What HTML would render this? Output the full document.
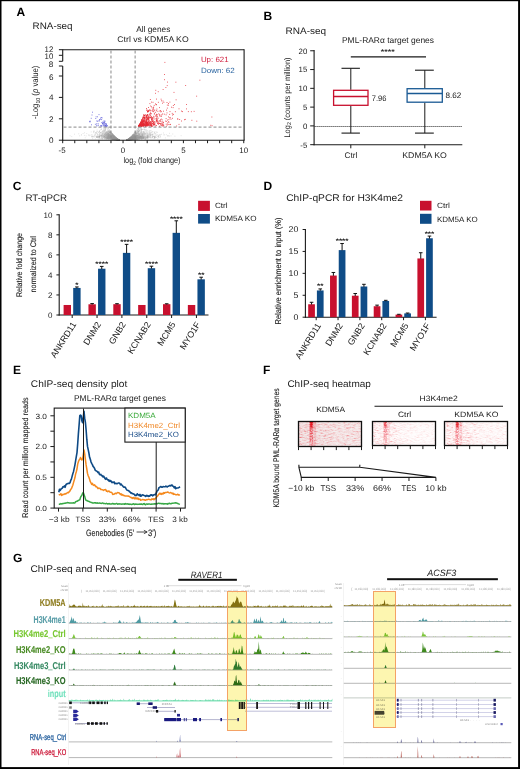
<!DOCTYPE html>
<html><head><meta charset="utf-8"><style>
html,body{margin:0;padding:0;background:#fff;}
svg{display:block;font-family:"Liberation Sans", sans-serif;text-rendering:geometricPrecision;}
</style></head><body>
<svg width="520" height="769" viewBox="0 0 520 769">
<rect width="520" height="769" fill="#fff"/>
<text x="16.60" y="15.80" font-size="12" fill="#000" font-weight="bold">A</text>
<text x="32.60" y="29.20" font-size="9.5" fill="#222" textLength="40" lengthAdjust="spacingAndGlyphs">RNA-seq</text>
<text x="153.30" y="31.50" font-size="8.2" text-anchor="middle" fill="#222" textLength="34.2" lengthAdjust="spacingAndGlyphs">All genes</text>
<text x="153.00" y="42.30" font-size="8.2" text-anchor="middle" fill="#222" textLength="71.3" lengthAdjust="spacingAndGlyphs">Ctrl vs KDM5A KO</text>
<path d="M116.5 139.4h0M96.8 137.0h0M138.8 136.9h0M150.6 132.8h0M136.9 139.0h0M109.8 132.0h0M126.8 140.2h0M128.8 139.6h0M154.2 138.0h0M138.7 137.4h0M100.7 135.6h0M134.6 138.0h0M137.0 138.8h0M109.5 137.3h0M102.7 133.9h0M104.9 138.9h0M118.8 139.9h0M110.3 135.6h0M109.6 134.2h0M134.9 139.5h0M136.3 139.2h0M106.2 139.1h0M143.7 137.3h0M132.7 135.9h0M138.8 131.6h0M129.0 139.8h0M129.6 139.8h0M103.6 135.8h0M111.7 139.0h0M111.1 139.0h0M127.3 140.1h0M130.6 137.9h0M112.6 135.7h0M113.0 135.8h0M128.9 139.9h0M117.5 139.4h0M116.0 137.9h0M131.1 139.7h0M97.6 134.3h0M129.6 138.8h0M131.2 139.2h0M143.0 138.2h0M133.1 139.5h0M114.9 139.7h0M127.8 139.8h0M115.9 139.1h0M146.3 131.1h0M114.5 139.0h0M114.6 138.7h0M139.8 135.4h0M116.2 139.8h0M102.3 134.5h0M134.3 137.8h0M115.5 138.9h0M118.6 139.9h0M139.7 134.4h0M128.2 139.4h0M117.5 139.0h0M115.3 139.6h0M131.0 139.8h0M129.8 138.0h0M110.2 134.5h0M127.1 140.1h0M135.4 136.7h0M112.0 136.7h0M127.8 139.6h0M116.3 138.9h0M133.8 135.3h0M131.7 138.2h0M108.6 136.3h0M140.1 136.6h0M151.8 137.9h0M117.2 139.6h0M130.5 139.2h0M74.5 134.2h0M118.4 139.7h0M114.1 136.6h0M117.9 139.4h0M107.9 136.0h0M145.7 138.6h0M113.9 137.9h0M130.9 139.1h0M134.7 134.6h0M113.3 139.5h0M141.2 135.2h0M116.6 139.7h0M135.7 138.8h0M136.5 134.8h0M147.1 136.9h0M107.8 136.2h0M100.8 129.8h0M140.0 137.8h0M127.2 140.1h0M139.1 134.1h0M117.1 139.9h0M103.9 137.5h0M108.8 134.5h0M127.8 139.6h0M139.1 138.3h0M134.4 138.5h0M104.0 131.1h0M118.3 139.9h0M106.1 137.6h0M113.2 137.0h0M128.1 139.6h0M129.9 138.9h0M128.2 139.9h0M109.2 137.8h0M129.8 140.0h0M115.3 138.0h0M127.6 139.9h0M138.3 135.6h0M113.3 139.7h0M132.5 138.2h0M128.2 139.7h0M108.1 138.3h0M113.7 138.6h0M134.1 134.4h0M130.2 139.1h0M130.9 138.9h0M139.2 133.1h0M130.7 138.4h0M110.7 137.0h0M136.2 133.9h0M131.8 139.4h0M129.9 139.3h0M117.7 139.9h0M134.4 138.2h0M131.8 137.2h0M112.1 137.3h0M118.7 139.9h0M133.6 138.3h0M146.5 137.0h0M115.8 139.0h0M111.0 132.0h0M113.9 138.3h0M171.0 135.9h0M106.2 134.9h0M128.5 139.8h0M146.8 138.1h0M132.0 138.9h0M155.2 136.7h0M130.8 137.7h0M110.4 136.4h0M117.0 138.7h0M114.5 136.5h0M139.7 138.3h0M129.5 138.9h0M109.0 137.0h0M98.6 136.9h0M102.6 137.2h0M133.0 138.7h0M117.4 139.2h0M112.5 139.6h0M117.3 139.6h0M129.7 138.8h0M108.5 131.3h0M147.1 137.7h0M131.6 139.8h0M128.9 139.4h0M143.3 131.8h0M127.6 140.0h0M116.3 138.6h0M118.5 139.9h0M115.6 138.9h0M101.1 133.1h0M128.3 139.4h0M128.6 139.1h0M105.4 135.7h0M133.3 137.2h0M134.5 134.8h0M147.3 136.1h0M133.8 137.9h0M115.6 138.4h0M141.7 136.7h0M128.7 139.6h0M132.7 139.4h0M164.0 134.9h0M115.5 138.0h0M115.9 137.6h0M108.8 135.2h0M96.2 132.5h0M111.3 139.2h0M141.0 137.4h0M132.5 136.9h0M114.7 137.9h0M128.9 139.0h0M96.7 133.4h0M119.0 140.0h0M128.4 139.5h0M142.4 138.6h0M99.3 136.8h0M113.5 139.0h0M145.2 130.8h0M128.6 139.4h0M109.4 135.1h0M112.9 138.4h0M115.1 138.8h0M130.1 138.8h0M129.2 139.8h0M135.9 138.6h0M110.2 136.7h0M105.8 130.0h0M127.6 139.9h0M115.8 139.7h0M116.0 139.3h0M106.2 138.1h0M114.0 139.1h0M128.0 139.4h0M111.7 137.0h0M127.7 140.0h0M140.5 137.1h0M113.3 136.0h0M130.6 139.6h0M110.5 133.3h0M117.8 139.9h0M135.2 137.0h0M119.3 140.2h0M127.4 140.1h0M114.3 139.2h0M116.3 138.9h0M110.6 136.4h0M118.1 139.5h0M128.1 139.5h0M138.9 137.7h0M139.8 137.7h0M134.4 139.5h0M127.7 140.0h0M139.1 130.5h0M152.3 135.1h0M127.7 139.7h0M109.0 135.8h0M109.7 136.9h0M126.9 140.2h0M109.0 136.0h0M152.0 136.6h0M130.7 138.9h0M133.1 137.4h0M130.1 138.0h0M108.0 133.4h0M107.5 129.3h0M112.8 136.3h0M108.6 136.7h0M129.9 139.3h0M130.6 138.6h0M136.7 139.5h0M128.6 139.4h0M116.0 137.8h0M135.1 135.7h0M113.4 135.1h0M130.2 137.6h0M130.3 138.3h0M115.1 139.1h0M128.0 139.8h0M128.7 139.6h0M132.6 139.1h0M137.5 137.8h0M133.0 135.9h0M128.6 139.5h0M117.0 138.8h0M111.5 136.0h0M118.2 139.4h0M132.8 136.4h0M116.1 137.9h0M112.7 138.5h0M131.5 139.6h0M138.5 127.1h0M133.5 138.2h0M134.1 137.3h0M139.7 130.5h0M137.4 139.4h0M127.1 140.2h0M137.9 135.7h0M142.8 134.7h0M143.2 137.8h0M116.2 138.9h0M132.6 139.0h0M135.6 134.1h0M138.6 138.0h0M97.8 137.8h0M131.1 137.0h0M131.6 137.5h0M106.1 135.0h0M139.1 134.7h0M137.0 135.8h0M132.8 137.5h0M140.6 136.2h0M134.2 135.2h0M119.0 140.1h0M131.8 138.1h0M112.4 136.8h0M112.3 137.9h0M127.0 140.1h0M127.3 140.1h0M133.7 136.9h0M113.5 136.2h0M143.7 132.4h0M115.9 138.0h0M137.5 139.0h0M132.7 138.3h0M128.9 139.2h0M131.5 137.2h0M105.9 134.1h0M117.5 139.5h0M108.7 133.4h0M104.2 134.2h0M148.7 136.5h0M110.6 137.0h0M109.7 135.1h0M113.4 138.2h0M129.5 139.4h0M126.9 140.2h0M106.5 127.7h0M114.2 135.9h0M116.2 139.0h0M132.7 139.4h0M128.6 139.4h0M115.6 139.1h0M109.4 138.2h0M111.7 136.8h0M116.0 139.6h0M119.2 140.1h0M134.0 138.9h0M128.9 138.7h0M131.2 138.2h0M108.3 132.8h0M127.2 139.9h0M115.6 138.8h0M112.7 139.2h0M105.2 134.6h0M128.4 139.2h0M127.8 139.9h0M111.2 133.9h0M107.1 134.9h0M136.4 137.4h0M112.9 138.6h0M118.0 139.9h0M109.9 134.5h0M118.5 140.0h0M118.7 140.0h0M99.3 134.4h0M132.6 139.6h0M132.6 139.3h0M127.0 140.1h0M134.7 137.1h0M139.2 135.5h0M108.2 134.3h0M142.9 135.8h0M115.9 138.1h0M147.4 137.2h0M134.3 138.9h0M95.3 133.2h0M139.6 133.5h0M132.3 137.6h0M116.7 138.5h0M129.2 139.2h0M115.8 138.4h0M143.1 138.1h0M127.4 140.1h0M118.1 140.0h0M131.1 137.4h0M106.6 134.3h0M128.4 139.9h0M108.8 136.2h0M107.8 138.6h0M116.5 138.1h0M116.0 139.3h0M119.2 140.2h0M104.5 136.7h0M115.1 139.2h0M118.3 140.1h0M95.1 135.1h0M138.4 138.8h0M133.1 136.8h0M115.7 139.2h0M113.7 138.7h0M158.4 136.2h0M110.4 133.0h0M130.7 139.2h0M127.4 139.9h0M112.2 133.9h0M115.2 139.0h0M107.3 131.7h0M114.5 138.3h0M127.1 140.1h0M116.8 139.7h0M118.3 140.0h0M137.3 135.2h0M117.6 139.5h0M117.2 138.8h0M135.1 137.2h0M139.2 137.7h0M128.8 139.4h0M152.1 137.9h0M114.5 139.2h0M137.8 135.7h0M116.3 138.4h0M118.8 139.9h0M144.9 138.8h0M130.6 139.1h0M146.0 136.3h0M117.1 139.5h0M115.3 137.8h0M116.6 139.3h0M127.1 140.1h0M135.6 136.0h0M105.3 133.8h0M116.4 139.1h0M117.5 139.9h0M140.7 136.5h0M111.1 136.2h0M131.6 138.8h0M114.3 136.2h0M128.4 139.6h0M133.8 137.8h0M131.6 139.9h0M135.7 138.2h0M105.0 135.2h0M108.3 133.8h0M113.3 138.2h0M143.8 133.6h0M118.0 139.6h0M118.2 139.6h0M104.3 132.9h0M130.4 138.3h0M137.7 137.6h0M107.5 136.2h0M132.4 138.2h0M104.2 135.5h0M117.8 139.5h0M127.4 139.9h0M110.1 134.0h0M130.5 138.7h0M132.4 138.1h0M133.5 139.1h0M129.3 139.8h0M109.7 136.3h0M135.8 137.1h0M130.4 137.5h0M108.7 134.1h0M100.0 134.2h0M117.7 139.5h0M130.2 138.2h0M140.0 136.1h0M134.8 139.1h0M115.6 138.9h0M132.8 138.2h0M129.0 139.1h0M131.7 138.1h0M128.7 139.5h0M138.2 137.8h0M131.3 136.8h0M118.0 139.7h0M127.5 140.1h0M115.8 139.2h0M114.8 138.7h0M113.4 137.0h0M133.6 138.6h0M116.7 140.0h0M109.2 135.8h0M134.8 134.8h0M107.9 137.3h0M118.9 140.1h0M116.0 139.3h0M109.9 132.4h0M154.4 138.0h0M113.7 137.8h0M128.6 139.6h0M128.6 139.5h0M97.6 136.5h0M114.5 138.1h0M131.0 139.3h0M130.0 139.2h0M109.4 137.2h0M137.8 139.1h0M114.7 138.5h0M131.5 138.7h0M143.7 137.9h0M119.2 140.1h0M134.0 136.5h0M140.0 128.4h0M112.6 134.3h0M115.8 139.2h0M113.5 139.2h0M115.2 136.9h0M141.9 138.9h0M116.7 139.3h0M112.1 136.3h0M130.1 137.9h0M112.4 139.4h0M128.4 139.8h0M142.7 135.6h0M134.3 133.3h0M113.9 136.8h0M113.0 138.8h0M106.8 136.0h0M135.6 138.7h0M143.6 132.0h0M152.4 137.0h0M119.0 140.1h0M129.8 139.4h0M130.4 139.1h0M117.8 140.0h0M135.6 132.9h0M115.0 138.3h0M113.4 139.0h0M107.8 135.3h0M137.5 138.0h0M129.4 138.8h0M127.1 140.1h0M168.1 135.9h0M142.6 135.2h0M135.2 139.1h0M116.5 138.2h0M135.9 134.4h0M137.4 139.4h0M133.2 138.4h0M128.3 139.9h0M101.7 134.1h0M132.2 136.1h0M142.0 136.6h0M113.9 138.6h0M126.9 140.2h0M96.4 136.2h0M106.0 136.2h0M131.8 137.0h0M107.6 132.8h0M113.5 137.5h0M132.7 139.1h0M118.5 139.8h0M108.1 138.5h0M117.3 139.6h0M128.4 139.7h0M118.6 140.1h0M128.8 139.9h0M109.2 136.7h0M127.7 139.9h0M130.6 137.3h0M133.9 138.0h0M101.8 138.7h0M130.9 136.9h0M137.3 130.8h0M128.3 139.9h0M109.1 138.7h0M115.7 138.9h0M117.2 139.6h0M147.0 132.6h0M128.3 139.2h0M112.3 137.1h0M112.1 137.1h0M117.3 139.1h0M113.1 138.2h0M130.1 139.1h0M128.5 139.8h0M113.4 138.5h0M117.4 139.4h0M131.6 138.7h0M129.6 139.8h0M128.1 139.7h0M149.8 131.0h0M118.6 139.8h0M148.8 133.2h0M116.9 139.8h0M116.3 138.1h0M133.6 136.6h0M107.2 138.5h0M127.1 140.0h0M115.7 137.5h0M136.0 136.8h0M142.4 137.1h0M128.8 139.2h0M95.1 136.2h0M111.4 139.0h0M143.1 137.2h0M108.4 135.2h0M109.5 138.3h0M135.8 138.8h0M118.3 140.0h0M117.2 139.6h0M153.8 136.5h0M114.3 139.3h0M108.3 134.9h0M139.1 137.4h0M116.5 139.9h0M140.0 138.2h0M115.5 138.3h0M117.9 139.5h0M117.2 139.1h0M107.8 136.4h0M109.1 138.1h0M133.2 137.9h0M107.7 133.8h0M109.8 134.8h0M118.8 140.0h0M103.5 130.3h0M141.1 137.7h0M127.2 140.0h0M117.4 139.6h0M131.1 138.8h0M148.5 137.2h0M107.9 127.5h0M133.4 139.2h0M115.2 138.3h0M127.8 139.7h0M128.4 139.9h0M142.6 134.5h0M133.6 138.9h0M131.0 138.3h0M135.4 131.8h0M113.8 136.6h0M137.1 135.5h0M174.9 136.2h0M135.3 137.1h0M149.1 137.0h0M118.3 139.6h0M129.4 139.3h0M133.3 138.4h0M131.7 137.0h0M108.9 129.1h0M160.4 137.1h0M118.2 139.8h0M118.5 139.8h0M117.2 139.7h0M132.6 137.5h0M106.0 138.0h0M106.9 131.8h0M112.4 136.9h0M135.1 135.5h0M113.3 139.0h0M141.6 131.4h0M111.2 137.3h0M115.0 138.3h0M102.4 136.9h0M131.1 137.9h0M101.6 132.0h0M108.9 139.0h0M111.9 136.9h0M128.5 139.8h0M97.0 136.9h0M137.3 137.6h0M109.3 135.6h0M130.3 140.0h0M135.6 134.8h0M114.5 137.5h0M117.3 139.5h0M112.2 135.8h0M118.1 139.5h0M115.3 139.6h0M136.3 137.0h0M109.7 137.1h0M114.2 138.1h0M134.8 136.4h0M131.3 138.6h0M136.8 138.1h0M117.4 139.6h0M138.3 138.9h0M149.6 132.8h0M104.2 137.7h0M115.3 137.7h0M131.7 139.3h0M116.0 139.7h0M134.9 137.8h0M127.1 140.0h0M140.4 136.6h0M111.9 136.1h0M141.4 139.2h0M112.3 139.2h0M118.4 139.8h0M107.9 138.6h0M128.1 139.3h0M128.3 139.8h0M109.3 138.2h0M118.6 139.9h0M115.4 138.4h0M140.8 129.7h0M116.3 139.4h0M142.1 136.6h0M136.2 133.8h0M118.2 139.7h0M127.1 140.1h0M135.4 135.2h0M118.8 140.0h0M127.0 140.1h0M116.3 139.7h0M107.0 133.0h0M127.8 139.6h0M114.2 137.3h0M107.9 131.8h0M114.2 139.3h0M149.7 134.4h0M118.4 139.7h0M130.3 138.4h0M127.4 139.9h0M137.7 136.1h0M127.1 140.1h0M117.7 139.9h0M109.5 135.1h0M165.3 137.9h0M147.1 135.1h0M115.1 139.2h0M139.6 137.9h0M118.8 139.9h0M133.2 139.3h0M110.8 135.3h0M140.4 138.5h0M135.7 139.0h0M117.6 139.1h0M117.7 139.5h0M133.6 135.0h0M103.8 135.4h0M113.7 137.5h0M134.4 136.1h0M127.1 140.1h0M119.1 140.1h0M116.7 138.7h0M136.5 135.8h0M130.7 138.7h0M152.2 134.1h0M134.9 134.3h0M95.8 134.9h0M112.7 135.4h0M135.1 135.7h0M132.5 138.7h0M139.0 134.1h0M128.5 139.5h0M131.3 138.9h0M141.7 129.2h0M128.0 139.7h0M129.0 139.9h0M127.5 139.8h0M138.7 138.6h0M130.3 138.8h0M106.3 138.7h0M138.2 135.7h0M154.8 136.9h0M128.5 139.3h0M105.4 127.6h0M144.4 132.3h0M115.2 137.4h0M117.4 139.5h0M128.1 140.0h0M134.7 138.0h0M109.4 132.1h0M128.6 139.6h0M129.2 139.3h0M115.6 138.9h0M131.9 139.3h0M107.9 136.5h0M132.6 136.2h0M137.5 137.8h0M116.4 139.0h0M111.0 136.4h0M117.0 139.6h0M116.5 139.3h0M95.1 133.1h0M115.0 139.4h0M115.6 138.5h0M117.1 140.0h0M129.7 138.5h0M109.8 132.7h0M129.6 138.9h0M128.7 139.0h0M128.4 139.8h0M143.1 133.6h0M130.4 138.0h0M116.3 139.6h0M141.5 136.8h0M115.0 138.8h0M114.0 136.8h0M134.6 137.4h0M114.3 138.7h0M148.7 137.1h0M117.9 139.2h0M107.6 137.1h0M104.4 137.4h0M133.2 135.3h0M109.1 137.6h0M108.5 138.4h0M129.8 139.2h0M128.7 139.7h0M129.3 139.2h0M109.4 135.8h0M139.7 132.0h0M134.8 137.9h0M119.2 140.2h0M117.8 139.7h0M144.7 137.9h0M133.0 138.8h0M127.0 140.1h0M131.0 139.3h0M140.3 138.1h0M132.0 138.1h0M133.0 139.3h0M127.6 139.9h0M143.7 137.2h0M138.9 131.3h0M92.7 138.6h0M128.8 139.2h0M115.6 139.3h0M128.8 139.5h0M118.4 140.0h0M128.1 139.9h0M132.0 137.7h0M134.6 134.3h0M158.9 137.3h0M115.8 139.7h0M118.1 140.0h0M108.5 136.6h0M132.0 139.3h0M135.2 134.8h0M104.8 137.1h0M117.2 139.7h0M118.8 140.1h0M108.7 138.1h0M137.9 128.6h0M114.9 139.7h0M129.7 139.5h0" stroke="#858585" stroke-width="0.8" stroke-linecap="round" opacity="0.33"/>
<path d="M133.7 136.0h0M136.7 134.8h0M131.8 136.0h0M118.7 140.0h0M133.4 134.4h0M116.1 139.1h0M130.4 139.2h0M113.0 135.3h0M134.5 137.3h0M118.9 140.1h0M139.4 134.8h0M112.8 137.6h0M126.9 140.1h0M108.1 135.4h0M118.9 140.1h0M116.7 139.8h0M139.2 136.4h0M118.9 140.0h0M130.3 138.6h0M112.8 138.1h0M135.5 135.7h0M114.7 138.0h0M111.4 135.6h0M129.2 139.3h0M95.3 138.8h0M102.5 137.1h0M138.4 130.9h0M116.4 138.9h0M132.4 138.7h0M114.1 139.3h0M108.4 136.5h0M134.9 136.5h0M133.9 137.3h0M115.5 139.0h0M131.6 138.1h0M118.8 140.0h0M129.6 139.6h0M118.1 139.4h0M129.7 139.6h0M138.4 137.1h0M114.0 137.2h0M118.9 140.1h0M136.9 136.6h0M116.4 139.1h0M131.3 138.9h0M127.1 140.1h0M136.9 135.3h0M140.6 132.5h0M132.4 139.5h0M135.8 132.6h0M118.3 139.8h0M113.6 137.9h0M114.0 139.1h0M106.7 134.2h0M134.3 138.0h0M118.2 139.5h0M107.3 137.6h0M111.2 137.3h0M140.8 136.8h0M128.0 139.9h0M110.3 138.3h0M131.0 139.3h0M148.5 137.7h0M136.9 138.3h0M127.2 140.1h0M137.9 136.9h0M127.3 140.1h0M106.6 133.0h0M118.8 140.1h0M139.3 137.3h0M111.2 138.0h0M141.8 138.8h0M115.6 139.8h0M131.3 139.5h0M127.1 140.1h0M131.8 138.1h0M135.5 139.0h0M118.4 140.1h0M129.2 139.9h0M116.7 139.1h0M133.0 138.0h0M134.5 136.8h0M151.9 132.9h0M111.8 138.1h0M99.2 135.5h0M115.5 138.3h0M140.2 133.6h0M142.0 135.8h0M99.9 136.4h0M128.9 139.1h0M107.6 132.6h0M92.1 136.2h0M130.1 139.2h0M135.9 138.3h0M116.5 138.4h0M118.4 139.9h0M127.3 140.0h0M104.0 134.6h0M114.0 137.5h0M131.4 138.8h0M118.0 139.9h0M133.0 134.6h0M104.1 130.0h0M110.4 134.5h0M160.6 136.1h0M157.8 138.3h0M133.6 138.2h0M129.6 138.7h0M144.1 129.1h0M111.5 134.7h0M146.2 136.0h0M130.3 139.3h0M114.5 137.8h0M113.7 137.7h0M143.4 137.9h0M140.5 136.9h0M111.3 135.8h0M118.7 140.0h0M128.1 139.9h0M128.7 139.1h0M108.4 136.9h0M101.3 134.8h0M108.4 138.7h0M111.0 136.3h0M127.5 140.1h0M96.7 131.7h0M109.3 138.5h0M131.3 139.3h0M115.5 138.5h0M111.8 135.3h0M118.3 139.9h0M115.2 137.0h0M126.8 140.2h0M103.1 138.3h0M115.1 136.8h0M141.7 137.4h0M133.0 138.5h0M128.4 140.0h0M137.1 138.5h0M112.4 139.7h0M134.4 137.2h0M117.7 139.3h0M106.4 134.6h0M107.5 134.3h0M128.0 139.8h0M112.5 138.6h0M128.9 139.0h0M128.2 139.5h0M134.7 135.8h0M115.4 139.0h0M113.8 139.4h0M111.6 134.6h0M114.3 139.2h0M140.1 136.6h0M137.4 136.6h0M129.2 139.3h0M110.5 137.7h0M117.2 139.4h0M115.9 137.9h0M128.0 139.5h0M114.9 138.9h0M108.0 128.6h0M118.3 139.7h0M132.4 136.3h0M102.4 133.7h0M107.5 139.0h0M129.9 138.5h0M133.7 137.7h0M114.4 136.7h0M139.9 133.3h0M115.4 139.2h0M108.9 135.5h0M114.9 139.6h0M131.0 138.5h0M129.1 139.2h0M102.9 135.8h0M131.7 137.1h0M112.2 134.1h0M145.3 133.9h0M113.6 138.9h0M129.5 140.0h0M128.6 139.5h0M129.4 139.7h0M113.6 136.8h0M110.2 139.4h0M138.5 127.2h0M132.7 136.9h0M133.3 135.9h0M130.6 138.4h0M132.2 136.8h0M102.1 138.9h0M129.0 138.6h0M111.6 134.4h0M117.7 139.8h0M131.4 139.3h0M128.3 139.2h0M139.2 138.9h0M110.5 137.3h0M131.6 137.7h0M141.9 129.4h0M129.4 139.9h0M118.8 139.9h0M113.3 137.9h0M127.0 140.1h0M135.1 135.6h0M117.7 139.3h0M132.7 138.3h0M133.6 138.5h0M133.0 137.8h0M117.0 138.6h0M136.4 136.4h0M138.5 137.3h0M135.8 135.4h0M135.2 139.4h0M99.8 136.5h0M116.7 139.2h0M115.5 138.9h0M143.7 137.8h0M118.8 140.0h0M128.6 139.2h0M138.2 135.3h0M128.7 139.5h0M130.7 138.2h0M137.2 136.2h0M149.0 135.8h0M108.9 134.2h0M131.0 139.1h0M116.8 139.0h0M108.0 137.6h0M144.6 129.3h0M114.7 139.1h0M132.5 138.1h0M138.8 137.2h0M133.9 138.2h0M117.4 139.8h0M117.3 139.2h0M128.0 139.8h0M131.0 137.4h0M131.8 138.0h0M131.8 138.7h0M108.2 135.9h0M105.6 138.0h0M130.7 138.4h0M132.0 138.4h0M116.5 138.9h0M140.7 136.8h0M130.8 138.8h0M142.7 133.4h0M102.9 133.1h0M110.7 138.9h0M134.1 137.6h0M119.3 140.2h0M116.2 139.4h0M88.8 135.0h0M109.0 139.3h0M112.3 136.9h0M127.2 140.0h0M131.6 139.4h0M118.7 139.8h0M130.4 138.4h0M128.5 139.7h0M119.3 140.2h0M127.0 140.2h0M132.1 139.2h0M128.1 139.7h0M131.6 138.6h0M127.0 140.2h0M137.0 129.7h0M131.8 138.3h0M153.7 136.5h0M132.6 135.2h0M113.1 137.7h0M130.8 139.7h0M109.8 131.2h0M99.7 131.5h0M134.2 139.1h0M141.6 133.4h0M114.0 135.7h0M127.5 140.0h0M116.5 138.7h0M130.2 139.5h0M109.1 130.8h0M112.6 135.6h0M117.7 139.4h0M136.0 137.2h0M115.5 138.3h0M135.0 133.6h0M131.1 137.2h0M133.7 137.8h0M136.7 136.8h0M110.2 135.8h0M128.1 139.8h0M131.8 139.5h0M142.1 139.0h0M112.7 139.2h0M116.6 139.3h0M140.5 133.2h0M138.2 128.5h0M127.2 140.1h0M111.7 137.2h0M114.7 137.6h0M128.8 139.7h0M134.1 136.8h0M127.1 140.1h0M131.0 139.5h0M139.3 136.3h0M106.9 134.8h0M111.6 138.8h0M109.5 134.4h0M135.1 132.5h0M137.0 137.1h0M105.4 135.9h0M143.6 136.3h0M128.0 139.9h0M131.9 138.8h0M118.1 139.8h0M107.1 134.4h0M112.5 135.2h0M131.4 139.0h0M119.2 140.1h0M118.6 139.9h0M138.5 138.2h0M153.9 135.9h0M131.6 139.7h0M116.3 139.7h0M127.7 139.8h0M134.8 137.9h0M117.3 139.7h0M112.8 138.5h0M116.0 139.5h0M146.0 133.2h0M135.3 139.5h0M144.7 137.5h0M132.1 136.2h0M113.8 137.8h0M127.0 140.1h0M131.4 139.1h0M112.5 136.6h0M135.2 135.6h0M116.1 138.8h0M106.5 135.9h0M113.6 136.4h0M112.4 139.5h0M136.4 138.8h0M117.7 139.7h0M110.5 138.2h0M136.1 135.3h0M129.0 139.4h0M143.6 138.2h0M108.5 136.1h0M135.6 137.5h0M147.3 137.7h0M134.5 138.4h0M109.8 137.5h0M133.9 136.8h0M134.3 137.9h0M99.6 137.1h0M139.0 130.6h0M118.8 140.1h0M112.4 133.9h0M117.4 139.4h0M127.8 139.9h0M140.4 136.6h0M104.4 136.4h0M147.2 130.6h0M128.1 139.5h0M135.4 139.5h0M119.1 140.1h0M154.6 133.1h0M132.4 137.2h0M113.8 137.8h0M138.2 135.9h0M131.5 137.8h0M116.8 139.1h0M140.0 136.3h0M129.4 139.1h0M135.5 139.0h0M141.5 128.4h0M129.9 139.0h0M117.5 139.4h0M128.5 139.0h0M116.2 139.5h0M129.7 139.7h0M109.9 136.1h0M109.0 136.7h0M113.5 138.9h0M117.7 139.4h0M128.2 139.5h0M118.0 139.7h0M129.9 139.4h0M127.6 139.7h0M135.5 138.1h0M148.3 136.4h0M130.2 138.7h0M114.0 136.9h0M113.6 135.8h0M113.2 135.5h0M116.3 139.3h0M113.1 139.2h0M131.8 136.3h0M113.7 136.4h0M117.1 139.8h0M111.9 136.8h0M129.0 139.9h0M132.3 137.7h0M105.2 133.2h0M131.4 136.7h0M132.2 137.8h0M131.2 137.8h0M131.8 138.9h0M111.9 138.6h0M114.1 139.1h0M130.1 139.6h0M109.8 135.3h0M147.2 136.1h0M116.6 139.2h0M132.0 139.4h0M143.1 138.2h0M112.1 137.7h0M134.9 136.0h0M131.0 139.4h0M130.6 139.0h0M142.3 138.6h0M111.1 132.5h0M107.1 135.7h0M115.1 138.3h0M132.5 138.8h0M130.3 138.3h0M133.1 139.7h0M130.8 137.9h0M128.6 139.4h0M116.6 139.6h0M129.0 139.5h0M99.9 138.1h0M118.1 139.9h0M136.9 132.8h0M148.0 134.0h0M128.8 139.8h0M135.7 138.4h0M132.4 136.7h0M128.4 139.7h0M129.2 139.1h0M117.5 139.1h0M133.3 138.3h0M113.0 139.3h0M110.1 135.6h0M148.7 138.2h0M109.0 137.0h0M147.0 135.3h0M107.4 137.9h0M130.0 138.9h0M138.3 138.0h0M143.3 134.5h0M118.0 139.5h0M137.0 132.7h0M113.5 138.5h0M108.6 132.0h0M108.0 132.6h0M135.7 137.2h0M115.6 138.5h0M111.4 135.8h0M142.6 136.2h0M139.7 135.7h0M113.6 136.0h0M112.2 136.9h0M101.6 129.0h0M89.2 135.7h0M117.8 139.4h0M115.6 137.8h0M132.1 138.6h0M116.0 138.4h0M139.6 138.6h0M115.5 137.3h0M136.0 132.2h0M128.7 139.7h0M139.3 138.0h0M129.0 139.6h0M129.8 139.6h0M138.7 139.1h0M144.2 134.2h0M127.5 140.1h0M127.7 139.8h0M132.9 137.9h0M134.2 138.8h0M137.7 133.2h0M137.1 136.4h0M143.8 136.7h0M137.0 137.9h0M135.8 138.3h0M102.1 133.0h0M138.5 133.3h0M112.2 133.5h0M130.5 139.2h0M135.7 138.3h0M127.8 139.6h0M132.5 138.8h0M130.1 138.0h0M114.1 137.3h0M117.9 139.8h0M130.6 138.1h0M108.8 134.9h0M127.6 140.0h0M140.9 138.8h0M136.1 139.1h0M115.3 138.3h0M90.9 135.2h0M134.9 139.2h0M137.5 137.2h0M116.6 139.8h0M132.8 135.6h0M132.1 137.4h0M115.1 139.6h0M112.2 133.6h0M132.8 138.7h0M137.3 135.5h0M128.8 139.7h0M133.6 136.5h0M118.4 139.8h0M138.6 135.9h0M147.1 138.0h0M136.0 133.9h0M99.0 137.0h0M129.1 139.3h0M157.4 132.3h0M132.1 139.5h0M104.2 131.2h0M116.6 139.5h0M118.1 139.5h0M139.4 139.2h0M112.7 135.4h0M133.4 138.7h0M129.3 139.5h0M116.8 139.3h0M129.0 139.6h0M127.4 140.0h0M117.8 139.8h0M126.9 140.1h0M132.4 138.1h0M134.4 137.1h0M108.8 138.1h0M118.4 139.7h0M108.0 136.5h0M135.5 132.6h0M116.1 139.5h0M104.6 136.3h0M114.9 137.6h0M107.6 130.7h0M127.1 140.0h0M151.7 132.0h0M149.8 136.6h0M117.7 139.7h0M130.8 138.8h0M128.2 139.7h0M117.5 139.5h0M127.9 139.9h0M129.3 139.8h0M135.4 139.0h0M129.7 138.1h0M117.7 139.6h0M112.9 136.2h0M113.9 137.0h0M130.4 139.7h0M104.5 136.4h0M114.1 137.0h0M130.0 138.4h0M118.4 139.8h0M132.9 138.3h0M86.8 133.6h0M139.2 133.8h0M132.0 137.2h0M136.5 138.2h0M129.7 139.5h0M106.5 138.6h0M118.8 140.0h0M127.6 140.0h0M139.7 137.2h0M148.1 136.9h0M115.1 138.6h0M118.4 139.7h0M115.7 139.5h0M111.6 137.4h0M113.6 137.8h0M128.7 139.2h0M141.6 137.2h0M104.1 136.3h0M129.1 139.3h0M130.4 138.5h0M128.2 139.7h0M157.3 136.5h0M117.7 139.7h0M127.2 140.1h0M128.1 139.5h0M137.2 136.8h0M118.3 139.8h0M107.6 133.9h0M129.9 138.9h0M132.7 135.8h0M129.4 139.6h0M134.0 138.0h0M129.2 139.4h0M139.2 136.7h0M113.3 138.2h0M114.1 137.2h0M128.2 139.4h0M104.7 133.5h0M110.7 138.7h0M119.2 140.2h0M116.6 138.8h0M116.9 138.8h0M113.6 136.4h0M105.6 128.5h0M113.8 136.8h0M104.6 128.9h0M113.1 135.8h0M118.0 139.8h0M116.1 137.8h0M119.0 140.1h0M113.2 139.1h0M142.3 138.0h0M109.5 135.4h0M117.7 140.0h0M134.1 133.3h0M114.0 139.2h0M116.3 139.4h0M138.5 134.4h0M137.7 138.8h0M133.0 138.4h0M116.5 138.6h0M128.5 139.4h0M136.5 137.9h0M114.3 136.2h0M132.0 138.8h0M130.3 138.9h0M132.8 135.4h0M142.7 136.4h0M101.3 136.8h0M128.1 139.9h0M104.3 135.9h0M126.9 140.1h0M113.4 137.9h0M118.0 139.8h0M130.1 138.6h0M131.0 138.0h0M117.4 139.0h0M117.8 139.7h0M142.5 137.1h0M117.0 138.7h0M114.2 137.6h0M150.1 130.9h0M131.4 139.6h0M105.6 129.6h0M112.8 138.9h0M118.9 140.1h0M129.4 138.4h0M118.8 140.0h0M132.1 136.9h0M116.5 139.4h0M136.4 134.3h0M128.7 140.1h0M129.0 139.5h0M134.8 133.5h0M139.6 134.8h0M119.1 140.1h0M114.9 138.0h0M127.7 140.0h0M118.5 140.0h0M127.1 140.1h0M130.4 139.1h0M113.6 137.8h0M109.2 136.8h0M134.0 137.9h0M127.2 140.1h0M113.7 135.7h0M98.6 137.3h0M144.2 136.7h0M103.6 136.2h0M110.8 132.9h0M127.4 140.1h0M107.0 133.8h0M94.3 135.3h0M135.0 139.4h0M109.4 135.1h0M135.7 131.3h0M132.5 138.3h0M149.9 135.5h0M128.0 139.6h0M147.5 137.4h0M134.8 134.4h0M109.1 131.0h0M117.6 139.7h0M116.5 139.7h0M128.7 139.6h0M117.3 139.3h0M142.0 137.7h0M100.6 132.5h0M137.0 137.3h0M127.2 140.1h0M112.5 137.6h0M136.7 138.1h0M130.8 139.6h0M107.3 137.5h0M116.0 139.3h0M127.9 139.4h0M144.2 131.2h0M116.7 138.8h0M140.0 137.1h0M152.6 137.5h0M117.9 139.5h0M132.4 139.0h0M116.0 138.8h0M108.4 135.0h0M89.0 135.0h0M113.0 135.5h0M119.1 140.1h0M154.4 137.0h0M130.4 139.1h0M107.2 136.3h0M117.2 139.6h0M130.3 137.4h0M155.0 134.0h0M118.6 139.8h0M114.8 136.8h0M118.4 139.7h0M144.1 129.8h0M113.3 138.5h0M116.2 138.9h0M144.5 136.3h0M128.1 140.1h0M135.0 137.2h0M107.7 138.5h0M112.9 137.1h0M128.5 139.5h0M99.8 137.7h0M117.0 139.6h0M135.9 135.6h0M141.6 136.5h0M116.9 139.0h0M128.8 139.2h0M141.0 130.6h0M133.2 136.8h0M117.8 139.5h0M138.6 129.4h0M130.7 139.6h0M132.4 138.8h0M117.5 139.6h0M116.4 138.1h0M110.9 133.1h0M130.8 138.2h0M129.6 139.1h0M108.6 134.4h0M130.3 137.5h0M113.6 138.5h0M112.4 135.4h0M154.0 138.4h0M147.4 133.3h0M127.1 140.1h0M129.8 138.0h0M142.3 131.9h0M133.0 138.2h0M135.0 135.9h0M149.6 134.0h0M117.6 139.5h0M114.8 138.0h0M116.4 138.5h0M135.5 135.8h0M131.2 138.0h0M136.2 133.4h0M109.0 135.5h0M106.2 132.9h0M110.4 136.4h0M92.2 137.1h0M133.5 137.2h0M141.4 138.2h0M142.2 133.7h0M132.6 139.6h0M147.6 135.4h0M118.0 139.8h0M115.5 139.4h0M137.5 130.1h0M109.9 132.0h0M116.9 139.1h0M133.7 137.2h0M99.5 136.2h0M141.9 129.5h0M115.6 137.8h0M118.2 140.0h0M118.3 139.8h0M131.8 136.5h0M113.7 136.9h0M136.1 138.1h0M141.4 134.3h0M137.9 135.3h0M118.2 139.7h0M138.9 137.2h0M119.3 140.2h0M117.1 139.9h0M157.2 134.7h0M129.5 139.8h0M146.2 129.7h0M117.8 139.5h0M140.1 138.6h0M128.0 140.0h0M138.4 137.2h0M111.4 137.9h0M134.5 136.7h0M147.6 135.6h0M113.4 138.3h0M149.6 133.7h0M118.9 139.9h0M114.8 137.6h0M116.1 139.5h0M97.1 137.6h0M115.2 139.6h0M136.9 137.9h0M92.2 136.6h0M150.2 137.5h0M113.7 135.8h0" stroke="#858585" stroke-width="0.8" stroke-linecap="round" opacity="0.33"/>
<path d="M136.0 139.2h0M127.9 139.5h0M127.7 139.9h0M131.1 137.3h0M134.3 138.4h0M110.3 135.7h0M131.0 139.5h0M140.6 137.2h0M142.5 138.4h0M147.7 136.9h0M131.1 137.4h0M127.9 139.8h0M129.1 138.7h0M114.0 136.2h0M108.9 137.7h0M128.8 138.9h0M132.1 137.7h0M130.0 137.9h0M128.0 140.0h0M129.9 139.6h0M129.7 138.8h0M119.3 140.2h0M112.0 138.8h0M130.0 139.4h0M144.6 133.6h0M111.2 135.7h0M113.7 139.3h0M136.7 138.7h0M134.8 136.1h0M113.1 138.5h0M118.8 139.9h0M143.7 132.0h0M116.6 139.0h0M115.9 139.0h0M146.2 137.8h0M131.1 139.5h0M128.0 139.8h0M107.4 136.2h0M115.9 138.8h0M118.9 140.0h0M131.0 138.3h0M118.9 140.1h0M129.7 138.3h0M144.9 138.3h0M138.6 134.0h0M117.5 139.5h0M134.8 139.1h0M117.2 139.0h0M127.8 139.9h0M117.4 139.2h0M118.3 140.0h0M97.5 131.6h0M127.5 140.1h0M129.2 139.7h0M114.0 136.5h0M113.1 137.2h0M118.5 140.0h0M128.9 139.4h0M142.4 137.9h0M136.0 136.3h0M134.3 135.8h0M131.8 139.1h0M99.5 137.2h0M127.2 139.9h0M108.3 136.9h0M136.9 137.9h0M117.4 139.5h0M98.3 136.5h0M116.1 139.4h0M112.7 136.7h0M110.2 130.7h0M139.9 137.8h0M116.4 138.8h0M136.1 133.9h0M106.7 135.1h0M111.6 136.6h0M127.8 140.2h0M143.2 131.7h0M130.3 138.1h0M128.7 139.6h0M132.5 138.1h0M116.2 139.7h0M128.8 139.5h0M118.0 139.9h0M134.9 134.8h0M138.4 131.2h0M101.1 135.8h0M130.0 139.5h0M115.7 138.9h0M130.4 138.1h0M105.5 136.8h0M128.0 139.6h0M117.0 139.3h0M132.5 137.0h0M136.8 137.2h0M131.4 138.8h0M114.3 138.7h0M129.6 138.8h0M133.9 134.3h0M136.8 135.5h0M128.0 139.7h0M134.5 134.9h0M140.8 136.6h0M94.0 131.6h0M118.6 139.8h0M111.0 136.1h0M137.6 137.4h0M115.8 139.9h0M129.8 138.6h0M112.3 137.1h0M136.5 135.7h0M110.7 136.1h0M130.6 137.4h0M111.1 134.8h0M128.0 140.0h0M128.7 139.1h0M138.4 138.5h0M113.9 136.4h0M132.7 137.6h0M116.2 139.8h0M126.9 140.2h0M117.9 140.0h0M110.4 138.8h0M133.5 137.3h0M135.6 138.7h0M135.8 136.6h0M112.0 138.9h0M134.9 138.7h0M109.8 134.5h0M113.9 138.9h0M129.5 139.0h0M113.0 134.5h0M109.3 137.2h0M115.7 138.5h0M146.1 133.9h0M129.1 139.2h0M134.9 136.0h0M110.2 139.3h0M108.5 133.4h0M106.3 137.7h0M138.9 129.1h0M135.1 135.4h0M133.8 137.6h0M106.2 137.4h0M131.0 139.0h0M127.7 139.8h0M112.5 135.2h0M133.7 136.3h0M132.6 135.1h0M115.8 138.3h0M127.9 139.6h0M129.9 139.6h0M115.4 138.2h0M131.0 138.0h0M107.9 132.1h0M139.0 138.2h0M130.0 139.6h0M108.7 138.2h0M98.9 138.9h0M113.7 137.9h0M114.3 137.3h0M119.0 140.1h0M133.8 135.8h0M128.9 139.9h0M113.2 138.6h0M99.3 136.4h0M117.6 139.9h0M130.9 139.6h0M127.1 140.1h0M102.9 134.8h0M127.5 139.8h0M130.9 138.8h0M108.0 134.3h0M137.6 139.2h0M113.3 138.1h0M132.6 135.1h0M110.8 136.8h0M115.2 137.3h0M117.4 138.8h0M130.6 138.1h0M116.7 139.7h0M128.5 139.7h0M134.6 138.1h0M117.4 139.9h0M110.1 138.2h0M107.9 134.2h0M119.2 140.2h0M113.2 138.3h0M136.9 130.3h0M146.0 138.0h0M139.9 137.5h0M107.7 137.5h0M138.9 138.5h0M136.4 136.1h0M143.1 134.1h0M81.5 134.9h0M127.3 139.9h0M127.4 140.2h0M107.5 136.1h0M133.5 139.2h0M139.4 138.2h0M116.1 138.3h0M107.3 137.5h0M144.8 129.3h0M105.9 138.0h0M127.5 140.1h0M135.1 136.5h0M141.6 135.1h0M128.1 140.0h0M136.0 130.9h0M161.5 134.3h0M110.8 134.9h0M136.9 135.4h0M104.6 138.7h0M114.4 137.8h0M138.9 127.5h0M95.1 134.5h0M127.5 140.1h0M133.9 135.3h0M133.4 135.7h0M130.4 139.7h0M114.0 135.6h0M112.2 138.2h0M115.8 138.8h0M108.3 133.6h0M118.6 139.9h0M132.1 138.5h0M144.1 136.4h0M134.3 139.6h0M107.9 138.5h0M137.2 135.2h0M181.1 135.7h0M108.7 135.6h0M127.9 139.7h0M129.8 139.0h0M111.7 138.0h0M113.9 135.9h0M140.8 137.7h0M135.3 137.3h0M159.8 135.9h0M134.9 139.1h0M114.5 136.8h0M133.3 135.4h0M119.2 140.2h0M117.5 139.6h0M129.5 138.9h0M133.5 138.7h0M114.5 139.5h0M104.3 131.3h0M131.9 139.0h0M152.2 134.7h0M132.7 137.2h0M117.9 139.5h0M136.7 136.8h0M116.8 139.5h0M103.2 136.0h0M135.6 136.1h0M148.0 136.0h0M116.5 139.0h0M139.8 137.0h0M136.2 136.8h0M134.2 137.2h0M137.8 139.4h0M116.7 139.7h0M114.2 135.8h0M95.3 132.6h0M129.3 138.8h0M129.6 138.9h0M117.0 138.7h0M118.0 139.8h0M134.8 132.2h0M136.9 135.1h0M116.6 139.1h0M130.7 138.9h0M143.7 138.3h0M109.1 136.7h0M106.8 136.7h0M111.7 132.8h0M139.7 138.8h0M141.5 132.5h0M155.0 138.3h0M128.5 139.5h0M130.5 138.4h0M127.7 140.0h0M111.2 136.9h0M134.6 138.3h0M127.5 140.0h0M135.4 138.6h0M114.4 139.1h0M131.0 138.8h0M104.5 138.3h0M133.0 138.8h0M118.7 140.1h0M129.7 139.2h0M137.9 128.8h0M116.9 139.7h0M119.2 140.2h0M127.6 140.0h0M147.0 134.1h0M151.9 132.4h0M103.5 131.9h0M129.6 138.7h0M135.3 139.4h0M147.1 134.3h0M131.5 139.5h0M130.4 139.2h0M113.5 138.9h0M114.8 136.9h0M135.0 134.6h0M107.9 131.8h0M127.2 140.1h0M129.9 139.0h0M109.5 133.7h0M129.2 139.0h0M117.3 139.7h0M102.3 132.8h0M108.0 136.3h0M113.1 138.5h0M117.4 139.1h0M114.3 139.6h0M131.4 139.4h0M142.3 137.5h0M113.7 138.0h0M110.0 138.1h0M118.4 139.9h0M133.4 134.7h0M128.9 139.4h0M128.6 139.4h0M138.2 137.5h0M118.8 140.0h0M110.9 138.6h0M117.6 139.7h0M117.9 139.3h0M116.7 139.2h0M131.6 137.5h0M109.1 137.9h0M117.6 139.5h0M136.6 135.6h0M129.1 139.9h0M131.5 139.9h0M129.1 140.0h0M145.9 134.0h0M112.4 135.5h0M135.6 136.9h0M128.6 139.5h0M147.2 137.8h0M129.5 139.7h0M111.1 136.3h0M117.9 139.3h0M138.4 131.7h0M118.9 140.1h0M130.2 137.6h0M145.5 139.0h0M130.5 138.1h0M133.3 137.4h0M126.8 140.2h0M130.3 138.7h0M140.1 136.6h0M116.2 137.9h0M131.5 138.8h0M116.2 139.3h0M140.2 138.5h0M110.7 136.4h0M109.4 138.2h0M116.9 139.0h0M141.3 132.4h0M134.0 137.7h0M140.1 128.9h0M113.6 138.1h0M132.3 135.6h0M104.0 136.7h0M129.4 139.6h0M141.7 133.5h0M107.0 134.9h0M135.8 133.8h0M118.6 139.8h0M137.9 135.2h0M130.9 138.5h0M113.8 137.5h0M137.1 136.7h0M117.2 140.0h0M118.0 139.9h0M130.0 138.2h0M139.7 137.3h0M118.9 140.1h0M117.6 139.4h0M106.9 137.0h0M132.2 138.9h0M109.3 132.6h0M116.5 138.8h0M146.2 131.1h0M116.2 138.7h0M101.3 135.4h0M110.7 138.2h0M119.0 140.1h0M131.8 139.6h0M169.5 133.3h0M113.5 137.7h0M127.0 140.1h0M107.6 131.3h0M117.7 139.9h0M107.0 139.3h0M112.4 134.2h0M81.3 134.9h0M114.3 138.1h0M131.7 137.7h0M111.8 137.8h0M137.1 131.8h0M113.4 136.8h0M134.9 137.5h0M142.2 135.8h0M110.1 136.7h0M117.6 139.4h0M126.9 140.2h0M127.8 139.9h0M115.2 137.1h0M116.9 139.6h0M134.9 139.1h0M143.0 135.0h0M129.3 139.1h0M103.3 136.4h0M108.4 137.7h0M129.0 139.7h0M131.3 139.0h0M117.2 139.8h0M166.3 134.7h0M129.8 139.4h0M118.1 139.9h0M141.0 128.0h0M118.8 140.1h0M117.9 139.9h0M141.5 136.5h0M110.3 138.6h0M114.3 138.4h0M101.9 138.2h0M118.8 140.0h0M113.3 139.0h0M128.9 139.9h0M99.7 130.5h0M136.4 139.3h0M99.6 131.6h0M134.6 137.4h0M114.6 137.9h0M130.0 138.2h0M112.9 138.9h0M134.5 135.8h0M136.2 132.4h0M114.2 138.1h0M133.0 135.1h0M133.4 138.6h0M118.7 139.9h0M118.4 139.6h0M131.2 137.0h0M143.6 137.2h0M141.5 138.5h0M132.8 138.3h0M111.5 137.7h0M128.5 139.4h0M127.3 140.1h0M129.8 138.2h0M129.0 138.7h0M128.2 139.7h0M131.0 137.7h0M105.7 133.5h0M118.4 139.9h0M147.2 136.1h0M107.1 136.8h0M116.6 138.7h0M140.4 135.2h0M107.7 136.7h0M133.7 135.6h0M129.2 139.9h0M135.3 134.6h0M128.7 139.5h0M137.4 133.1h0M137.2 136.1h0M110.5 131.3h0M118.0 139.8h0M106.5 136.9h0M131.8 137.5h0M118.2 139.8h0M128.1 139.7h0M115.3 139.4h0M116.3 139.4h0M141.1 134.4h0M132.2 138.9h0M109.8 138.8h0M131.0 139.2h0M113.7 137.2h0M115.7 139.1h0M100.8 132.7h0M129.7 138.1h0M130.6 138.2h0M135.0 135.7h0M127.1 140.1h0M131.4 139.0h0M119.1 140.1h0M127.0 140.1h0M131.5 139.7h0M118.4 140.0h0M138.4 135.4h0M130.9 138.4h0M144.2 136.0h0M114.0 136.2h0M118.4 139.7h0M137.1 131.0h0M113.6 138.7h0M135.2 134.3h0M142.0 137.5h0M145.1 137.8h0M146.0 137.2h0M99.5 135.9h0M133.9 139.2h0M116.8 139.5h0M135.0 138.4h0M130.0 139.1h0M131.0 138.6h0M142.9 129.5h0M107.0 138.1h0M107.2 138.1h0M131.5 137.0h0M129.5 138.4h0M118.9 140.1h0M108.2 134.8h0M113.1 139.5h0M102.0 134.7h0M97.1 130.1h0M114.9 137.4h0M117.2 139.9h0M112.1 133.6h0M130.0 139.6h0M133.3 138.2h0M128.5 139.6h0M130.6 138.2h0M130.3 139.3h0M128.6 139.2h0M135.1 138.1h0M139.1 134.4h0M131.6 139.3h0M111.4 137.5h0M128.1 139.5h0M113.5 137.7h0M134.8 137.1h0M107.1 133.0h0M133.5 135.9h0M130.3 138.1h0M131.2 136.6h0M134.8 132.4h0M134.4 138.1h0M112.2 135.2h0M133.0 137.1h0M118.1 139.5h0M114.3 137.3h0M132.7 139.4h0M106.9 135.2h0M133.5 138.5h0M141.1 131.1h0M141.3 137.0h0M127.9 139.9h0M116.2 138.9h0M131.4 139.1h0M127.3 140.1h0M106.8 133.3h0M101.9 136.9h0M117.4 139.6h0M131.2 139.6h0M132.9 139.4h0M132.9 137.9h0M110.3 135.9h0M132.4 139.5h0M117.9 139.5h0M115.7 138.0h0M131.4 138.9h0M103.7 132.6h0M129.4 138.4h0M113.2 137.6h0M138.2 136.8h0M117.7 139.6h0M151.1 134.4h0M133.9 137.3h0M115.0 137.8h0M152.0 135.2h0M104.9 129.2h0M152.8 135.9h0M112.7 138.9h0M118.7 140.1h0M113.1 138.0h0M130.0 139.1h0M133.1 136.5h0M134.6 139.2h0M130.1 139.2h0M133.0 136.8h0M103.8 135.3h0M117.1 138.7h0M116.7 138.6h0M104.9 136.2h0M108.1 136.0h0M105.6 130.1h0M134.4 134.5h0M128.3 139.5h0M96.5 136.9h0M138.4 136.5h0M127.6 139.7h0M130.0 138.3h0M131.0 137.9h0M132.7 138.3h0M137.8 132.9h0M129.4 139.6h0M132.8 137.8h0M113.4 135.1h0M131.9 139.2h0M133.9 136.5h0M116.1 138.9h0M98.3 134.9h0M126.8 140.2h0M117.7 139.5h0M129.6 139.4h0M129.9 139.3h0M154.7 136.9h0M107.9 137.8h0M113.5 137.9h0M135.7 135.1h0M145.5 135.9h0M117.8 139.5h0M130.3 137.4h0M118.6 139.8h0M142.9 136.7h0M117.6 140.0h0M116.8 139.8h0M99.4 137.7h0M131.3 137.1h0M136.5 136.6h0M111.8 138.3h0M152.5 131.5h0M126.9 140.1h0M113.8 136.2h0M129.0 139.9h0M112.1 136.0h0M135.6 139.5h0M116.7 139.3h0M110.8 139.0h0M138.9 136.3h0M118.0 139.9h0M111.0 137.1h0M128.0 139.8h0M134.9 138.7h0M133.9 134.1h0M126.9 140.2h0M131.2 138.5h0M110.8 137.3h0M126.9 140.2h0M117.5 139.5h0M130.9 137.6h0M113.1 138.0h0M106.1 139.1h0M134.1 135.4h0M133.8 138.1h0M107.3 136.0h0M134.4 138.8h0M137.3 138.4h0M102.9 132.0h0M116.6 138.5h0M150.5 135.5h0M130.4 138.0h0M138.1 135.0h0M127.9 140.0h0M114.4 136.8h0M133.0 137.9h0M131.1 137.1h0M126.9 140.2h0M134.0 133.3h0M117.9 139.8h0M112.4 138.3h0M106.2 137.3h0M127.6 140.1h0M94.0 130.8h0M132.2 137.3h0M128.0 139.8h0M114.1 138.6h0M141.9 129.7h0M118.9 140.0h0M114.5 138.0h0M138.2 138.7h0M144.6 138.0h0M104.3 137.3h0M129.8 140.0h0M114.5 137.3h0M129.2 139.3h0M138.6 136.1h0M131.3 138.4h0M131.3 137.0h0M109.2 129.9h0M160.5 134.7h0M147.2 133.7h0M116.6 138.9h0M130.5 139.5h0M104.6 134.5h0M133.1 138.8h0M114.8 139.3h0M110.4 131.7h0M131.2 138.3h0M143.7 138.4h0M107.5 138.4h0M113.8 138.5h0M107.3 134.3h0M137.6 131.7h0M134.7 134.7h0M127.1 140.1h0M111.3 138.3h0M116.7 139.4h0M132.4 139.1h0M136.3 138.2h0M131.6 137.6h0M139.3 139.5h0M116.9 138.5h0M112.2 138.8h0M142.8 135.1h0M111.3 137.6h0M131.6 137.8h0M111.3 137.6h0M114.6 136.9h0M129.3 139.5h0M106.5 131.9h0M114.5 137.7h0M132.0 137.0h0M105.9 135.2h0M116.9 139.7h0M140.3 133.9h0M112.1 134.5h0M136.6 133.0h0M148.0 136.0h0M114.3 136.4h0M108.1 137.9h0M128.2 139.7h0M129.0 139.2h0M133.4 138.4h0M113.3 136.9h0M119.1 140.1h0M172.8 134.0h0M131.7 138.9h0M117.1 139.4h0M136.5 133.5h0M126.9 140.2h0M140.1 136.1h0M130.4 137.8h0M117.0 139.5h0M113.8 138.5h0M98.8 132.7h0M133.4 139.8h0M135.2 138.6h0M108.0 138.2h0M109.2 136.7h0M137.0 137.0h0M131.3 139.3h0M154.5 136.2h0M115.3 139.7h0M110.7 136.9h0M118.9 140.0h0M113.0 137.4h0M138.6 135.9h0M136.2 138.4h0M133.1 137.5h0M128.4 139.8h0M158.4 136.2h0M128.4 140.0h0M130.2 138.9h0M118.7 140.1h0M115.8 139.4h0M115.2 138.7h0M114.4 139.4h0M106.4 132.5h0M131.8 140.0h0M111.5 133.6h0M138.8 129.6h0M91.2 131.9h0M104.2 130.1h0M131.9 136.8h0M116.2 138.5h0M117.7 139.1h0M130.9 138.9h0M117.2 139.7h0M137.8 139.5h0M112.4 138.5h0M128.5 139.1h0M116.9 138.8h0M94.2 137.1h0M130.4 138.8h0M118.5 140.1h0M110.2 131.3h0M130.0 138.5h0M105.5 132.8h0M130.1 139.3h0M128.4 139.8h0M131.7 136.5h0M127.9 139.9h0M107.7 137.9h0M133.6 137.7h0M130.2 139.4h0M127.4 139.8h0M140.5 136.4h0M132.9 138.7h0M113.2 135.8h0M119.0 140.1h0M133.7 135.9h0M114.8 139.2h0M141.2 138.3h0M110.7 134.0h0M127.4 139.9h0M134.6 138.3h0M132.1 138.0h0M116.5 139.3h0M111.1 135.0h0M108.5 137.8h0M138.9 134.0h0M109.5 134.8h0M117.9 139.4h0" stroke="#858585" stroke-width="0.8" stroke-linecap="round" opacity="0.33"/>
<path d="M130.0 139.1h0M127.6 140.1h0M128.5 140.1h0M153.0 136.7h0M118.1 140.0h0M139.8 136.4h0M156.6 132.2h0M136.2 136.9h0M142.1 134.4h0M134.3 136.4h0M113.8 137.2h0M108.2 134.7h0M135.0 136.7h0M107.7 136.3h0M103.3 137.9h0M138.7 137.8h0M131.7 137.6h0M130.6 138.4h0M129.1 139.8h0M109.8 132.1h0M127.6 139.8h0M155.7 133.7h0M135.1 138.7h0M130.6 139.8h0M115.6 137.4h0M127.6 139.7h0M116.9 139.7h0M130.4 139.1h0M140.9 138.1h0M127.4 140.1h0M110.4 135.9h0M119.1 140.1h0M136.2 139.1h0M127.8 140.0h0M128.4 139.3h0M127.7 139.7h0M108.3 131.3h0M106.7 133.2h0M109.4 136.9h0M115.3 139.2h0M110.4 135.5h0M116.0 139.8h0M137.1 136.3h0M110.9 134.7h0M127.8 139.7h0M135.9 136.4h0M134.9 138.8h0M134.3 135.2h0M130.1 138.0h0M118.6 140.0h0M107.9 127.8h0M146.0 139.2h0M127.9 139.9h0M127.6 139.9h0M138.2 139.3h0M131.8 135.9h0M130.7 138.6h0M141.3 137.9h0M112.7 135.1h0M130.2 139.8h0M117.2 139.7h0M133.5 138.3h0M136.4 137.8h0M113.7 138.1h0M127.0 140.2h0M115.3 138.9h0M114.9 137.1h0M127.4 140.0h0M134.1 137.5h0M112.6 134.7h0M112.4 134.9h0M131.2 139.3h0M127.2 140.1h0M112.1 139.1h0M130.7 139.4h0M133.6 137.0h0M117.6 139.3h0M116.1 137.9h0M133.5 136.7h0M139.4 138.0h0M105.7 136.4h0M115.3 139.3h0M136.9 138.0h0M108.5 135.2h0M135.7 137.6h0M130.5 139.9h0M127.2 140.1h0M115.0 139.2h0M139.3 138.8h0M115.0 137.8h0M109.0 137.0h0M118.7 139.9h0M106.9 132.4h0M130.2 137.6h0M110.1 137.6h0M118.8 139.9h0M138.4 138.8h0M116.6 138.7h0M134.5 137.8h0M127.4 139.9h0M115.6 138.8h0M127.7 139.8h0M135.2 138.5h0M110.2 138.1h0M111.5 134.0h0M135.3 137.4h0M136.2 137.7h0M107.7 126.4h0M116.3 138.8h0M105.4 134.5h0M126.9 140.2h0M145.4 136.8h0M135.9 137.5h0M86.1 135.9h0M158.1 135.3h0M113.9 137.5h0M99.4 136.6h0M101.6 135.8h0M130.5 137.5h0M96.7 137.5h0M135.0 138.2h0M117.3 139.1h0M119.1 140.1h0M118.5 140.0h0M113.9 139.0h0M127.2 140.0h0M117.1 140.0h0M112.1 136.2h0M131.6 137.6h0M114.5 138.5h0M114.1 136.1h0M116.5 139.6h0M142.6 135.8h0M84.3 135.4h0M112.8 138.2h0M138.2 127.1h0M127.6 140.0h0M109.5 136.9h0M130.4 138.3h0M118.5 140.1h0M132.5 139.7h0M114.2 139.9h0M128.8 140.0h0M108.9 136.3h0M109.9 132.4h0M118.3 140.0h0M104.2 135.2h0M132.8 138.1h0M118.1 139.9h0M133.4 134.1h0M117.5 139.4h0M129.4 138.3h0M137.6 134.6h0M115.7 139.1h0M137.9 135.8h0M114.2 139.2h0M116.1 139.4h0M116.2 139.4h0M115.8 139.5h0M119.3 140.2h0M113.3 137.5h0M119.0 140.0h0M131.8 136.0h0M116.6 138.7h0M117.5 139.7h0M127.4 140.0h0M118.6 139.8h0M128.7 139.3h0M129.8 139.1h0M136.3 138.7h0M118.1 139.9h0M132.9 136.6h0M130.6 138.4h0M118.2 139.8h0M113.2 136.4h0M138.6 138.7h0M132.2 138.8h0M110.8 137.8h0M103.3 134.3h0M137.1 136.9h0M138.5 129.0h0M107.4 137.0h0M133.6 137.9h0M112.2 138.0h0M112.3 137.5h0M116.7 138.7h0M117.9 140.0h0M114.2 136.1h0M138.6 131.9h0M115.3 139.9h0M131.0 138.3h0M155.3 137.2h0M145.9 134.2h0M130.7 138.4h0M129.4 139.5h0M137.1 138.9h0M137.3 132.0h0M104.5 136.6h0M105.7 135.1h0M145.8 129.8h0M117.3 138.9h0M117.2 139.8h0M112.4 134.9h0M135.3 133.8h0M134.2 136.5h0M144.1 135.7h0M129.7 138.3h0M111.7 136.5h0M108.1 133.7h0M141.9 136.3h0M132.7 138.1h0M117.7 139.7h0M131.5 138.7h0M129.3 139.1h0M115.4 137.8h0M113.0 139.4h0M127.6 140.0h0M111.9 135.7h0M133.3 135.1h0M116.8 139.6h0M132.8 138.0h0M104.4 134.6h0M129.2 138.9h0M116.6 139.0h0M127.7 140.1h0M131.7 138.9h0M136.0 133.8h0M113.8 139.3h0M116.5 139.3h0M133.4 137.5h0M111.5 136.4h0M116.3 139.5h0M118.3 139.8h0M113.9 135.7h0M114.1 138.6h0M119.0 140.0h0M111.5 135.4h0M131.3 138.5h0M136.1 137.4h0M134.4 139.0h0M110.6 138.6h0M133.4 138.3h0M129.8 138.6h0M149.1 135.6h0M116.6 139.6h0M118.0 139.6h0M112.1 138.5h0M118.6 139.9h0M127.3 139.9h0M127.1 140.1h0M158.9 137.4h0M115.6 139.1h0M141.1 131.2h0M112.8 138.3h0M130.5 138.4h0M132.0 136.6h0M93.8 131.5h0M113.4 136.1h0M127.5 139.9h0M154.9 137.3h0M141.5 137.5h0M118.2 139.5h0M126.8 140.2h0M117.0 139.4h0M105.8 128.4h0M93.2 136.8h0M114.7 137.1h0M112.9 135.0h0M137.7 133.5h0M106.7 132.3h0M116.1 137.8h0M128.4 139.7h0M139.4 130.9h0M137.4 136.7h0M118.8 140.1h0M141.0 129.6h0M112.0 134.7h0M138.8 136.6h0M127.4 140.1h0M116.1 138.0h0M106.9 135.2h0M126.9 140.2h0M129.9 139.7h0M136.2 137.1h0M132.9 136.8h0M129.2 139.8h0M111.3 139.1h0M106.3 136.0h0M129.2 139.3h0M130.2 138.1h0M147.2 137.9h0M116.1 139.1h0M103.7 137.5h0M116.7 138.6h0M128.9 139.6h0M139.1 126.8h0M130.7 139.3h0M103.6 133.3h0M131.4 138.6h0M135.8 139.2h0M149.8 135.0h0M118.8 140.0h0M130.0 139.3h0M99.6 136.9h0M108.7 133.6h0M118.3 139.5h0M141.3 136.7h0M134.0 137.4h0M116.5 138.5h0M118.3 139.5h0M139.8 130.0h0M133.2 135.2h0M109.8 135.6h0M110.3 132.3h0M132.1 138.1h0M127.0 140.1h0M136.6 133.4h0M112.9 136.7h0M114.6 136.9h0M149.0 132.1h0M111.5 136.6h0M105.7 137.5h0M147.6 136.5h0M113.6 138.8h0M111.9 139.3h0M129.0 139.4h0M132.5 137.8h0M105.5 137.7h0M112.2 133.7h0M108.4 138.1h0M141.5 137.8h0M108.2 133.1h0M110.3 133.4h0M102.3 135.8h0M137.6 136.0h0M128.3 139.6h0M141.8 129.8h0M139.8 137.1h0M135.2 137.8h0M127.3 140.1h0M112.5 136.6h0M108.6 128.1h0M141.1 135.4h0M130.6 138.6h0M129.3 138.6h0M127.7 139.7h0M130.4 138.3h0M145.3 139.0h0M113.0 136.7h0M128.5 139.3h0M105.0 137.3h0M138.0 128.8h0M111.7 135.7h0M133.4 138.7h0M131.0 138.2h0M127.3 139.9h0M115.7 139.1h0M105.0 131.7h0M130.0 139.0h0M141.2 137.6h0M108.8 139.3h0M112.4 139.0h0M151.0 130.6h0M132.5 137.1h0M113.0 139.5h0M132.5 138.9h0M137.4 138.2h0M129.2 139.5h0M112.6 137.7h0M128.9 139.8h0M118.9 139.9h0M117.0 139.8h0M114.6 139.6h0M114.7 138.7h0M130.1 139.3h0M167.9 135.5h0M126.9 140.1h0M126.9 140.1h0M117.5 138.9h0M116.5 139.4h0M102.4 131.2h0M106.2 136.3h0M138.7 136.7h0M127.3 140.1h0M130.8 138.7h0M105.4 132.6h0M106.0 134.0h0M117.4 139.3h0M107.8 137.1h0M127.8 140.1h0M127.9 140.0h0M133.5 135.4h0M129.9 139.3h0M146.0 138.4h0M136.1 137.5h0M109.5 138.1h0M97.2 137.2h0M131.1 137.1h0M113.2 136.9h0M116.4 138.1h0M138.8 136.4h0M112.9 134.5h0M108.4 135.7h0M130.7 138.7h0M117.8 139.3h0M137.1 139.2h0M134.3 136.3h0M70.1 135.8h0M135.3 138.3h0M113.7 138.6h0M114.8 137.4h0M135.3 138.1h0M130.9 138.0h0M137.7 135.9h0M133.4 138.3h0M136.4 138.6h0M109.6 136.5h0M130.9 137.8h0M140.2 136.9h0M111.5 137.2h0M138.3 138.1h0M127.2 140.0h0M118.7 139.8h0M147.7 138.8h0M114.2 139.2h0M112.3 138.7h0M130.1 139.6h0M102.5 138.3h0M150.4 136.8h0M145.9 137.3h0M113.9 138.9h0M156.0 134.1h0M115.1 137.8h0M117.1 139.0h0M102.3 135.5h0M101.3 129.3h0M127.9 139.5h0M115.7 139.4h0M133.1 136.3h0M130.2 137.6h0M118.5 139.9h0M138.8 131.0h0M128.5 139.9h0M133.1 139.1h0M102.3 135.4h0M141.3 138.1h0M114.4 136.3h0M100.8 135.5h0M117.3 139.5h0M116.6 139.0h0M113.7 137.5h0M117.2 138.8h0M118.6 139.9h0M131.3 139.0h0M135.4 136.3h0M147.7 136.2h0M141.1 134.7h0M115.8 139.5h0M137.1 133.9h0M116.8 139.3h0M115.5 138.8h0M130.6 139.3h0M135.9 137.5h0M106.0 135.5h0M108.6 131.5h0M134.1 137.2h0M143.9 135.4h0M134.1 134.3h0M107.3 138.0h0M110.3 138.1h0M104.7 132.9h0M135.8 138.0h0M129.4 138.3h0M115.7 139.0h0M136.1 137.7h0M105.7 137.0h0M130.0 138.6h0M117.8 139.7h0M126.9 140.1h0M127.9 140.1h0M129.5 139.0h0M117.2 138.8h0M128.3 139.7h0M127.4 140.1h0M132.8 137.6h0M128.0 139.9h0M129.2 139.3h0M133.8 138.2h0M130.6 137.8h0M109.4 136.3h0M113.9 138.2h0M130.6 138.4h0M136.5 137.2h0M133.6 138.7h0M130.0 138.4h0M118.4 139.9h0M113.4 138.9h0M109.0 135.1h0M156.7 135.6h0M134.4 137.9h0M130.0 139.9h0M116.8 138.6h0M108.6 134.3h0M130.9 138.8h0M116.9 138.5h0M141.9 136.8h0M112.9 138.3h0M109.8 137.5h0M143.9 137.0h0M131.7 136.7h0M106.9 136.1h0M140.5 133.9h0M133.7 136.9h0M136.4 138.3h0M139.8 135.3h0M102.6 131.3h0M118.7 140.0h0M128.2 139.3h0M115.3 138.4h0M133.0 137.7h0M117.3 139.2h0M135.5 133.6h0M133.3 134.6h0M126.8 140.2h0M145.1 139.1h0M104.6 130.6h0M137.2 137.6h0M129.2 138.9h0M137.0 133.5h0M128.4 139.3h0M133.3 136.3h0M117.2 139.8h0M132.9 139.4h0M134.7 137.8h0M138.9 137.3h0M136.2 133.5h0M115.1 139.6h0M129.0 139.4h0M118.7 140.1h0M83.1 133.5h0M150.3 135.8h0M133.4 137.8h0M130.3 139.8h0M130.8 139.7h0M132.5 136.3h0M135.0 137.9h0M143.6 137.6h0M138.5 136.6h0M128.8 139.4h0M140.8 127.9h0M116.8 139.2h0M135.9 138.4h0M140.3 138.8h0M127.9 139.7h0M113.0 134.4h0M129.2 138.5h0M143.1 133.0h0M137.6 137.5h0M142.2 137.2h0M117.8 139.3h0M135.1 133.7h0M133.5 139.1h0M141.1 133.7h0M98.7 132.1h0M113.3 139.5h0M143.3 133.8h0M128.7 139.0h0M131.3 139.6h0M118.6 140.0h0M107.1 135.4h0M132.6 137.9h0M106.4 136.5h0M101.1 135.5h0M132.7 139.1h0M109.5 138.0h0M116.8 139.3h0M126.8 140.2h0M110.4 134.9h0M129.5 139.5h0M127.2 140.0h0M131.5 138.5h0M101.7 137.4h0M129.4 139.2h0M118.7 139.9h0M126.8 140.2h0M117.0 139.7h0M129.1 139.3h0M110.4 135.9h0M116.5 138.9h0M106.5 131.9h0M116.3 138.0h0M135.4 136.6h0M110.6 137.9h0M132.2 136.1h0M136.6 137.8h0M138.6 133.1h0M110.9 133.1h0M138.0 137.1h0M128.0 140.0h0M129.4 139.9h0M137.9 133.7h0M139.0 136.7h0M140.2 136.8h0M113.9 136.5h0M108.7 136.3h0M110.5 136.3h0M117.6 139.0h0M133.3 138.4h0M134.0 137.5h0M118.0 139.8h0M137.1 138.8h0M117.7 139.7h0M147.8 137.7h0M112.9 135.9h0M131.6 136.3h0M128.5 139.3h0M109.7 136.4h0M106.1 136.8h0M133.7 138.0h0M139.8 129.9h0M129.5 138.6h0M128.2 139.4h0M136.5 137.5h0M94.0 136.3h0M110.0 137.6h0M111.2 133.4h0M150.9 137.6h0M108.2 133.6h0M115.0 137.2h0M116.2 139.4h0M115.2 137.4h0M105.5 131.3h0M112.7 134.3h0M115.6 137.8h0M132.7 136.7h0M116.8 139.3h0M115.7 139.4h0M136.9 135.8h0M99.5 133.2h0M110.0 132.8h0M133.4 136.3h0M101.0 132.7h0M114.4 138.2h0M128.6 139.5h0M147.2 138.0h0M131.4 138.9h0M128.2 139.3h0M111.1 139.1h0M130.2 139.6h0M108.9 131.8h0M116.9 139.4h0M132.0 137.4h0M132.6 139.0h0M117.6 139.3h0M129.2 139.6h0M104.1 128.5h0M131.5 138.3h0M114.8 137.2h0M110.7 138.9h0M141.4 136.8h0M111.2 133.7h0M114.1 137.7h0M135.3 133.5h0M119.2 140.2h0M128.1 139.8h0M114.9 139.0h0M117.2 139.0h0M97.9 136.3h0M135.9 131.8h0M102.9 133.9h0M129.7 138.1h0M141.7 137.8h0M114.4 137.4h0M147.3 137.3h0M133.1 135.0h0M109.7 135.0h0M112.2 135.3h0M111.9 138.9h0M116.4 139.0h0M133.2 138.8h0M133.0 134.9h0M128.7 139.5h0M116.5 138.9h0M135.5 137.8h0M132.4 137.9h0M115.0 137.7h0M143.6 137.8h0M117.6 139.3h0M107.4 134.2h0M127.8 139.9h0M140.9 137.2h0M112.6 137.0h0M128.9 139.5h0M104.1 136.6h0M107.2 127.2h0M106.4 137.8h0M154.5 137.4h0M108.5 135.8h0M118.5 140.0h0M108.6 137.5h0M118.0 139.9h0M132.9 139.0h0M130.6 138.3h0M118.4 139.9h0M116.2 138.1h0M133.2 139.2h0M136.0 132.7h0M150.3 134.8h0M117.9 139.6h0M135.1 138.1h0M113.7 135.9h0M119.1 140.2h0M143.1 133.4h0M100.0 135.1h0M127.7 140.1h0M117.5 139.1h0M136.7 135.5h0M115.5 138.2h0M148.2 134.5h0M105.9 131.9h0M127.4 140.1h0M108.0 137.9h0M132.0 138.3h0M134.7 138.5h0M135.4 137.3h0M103.3 128.8h0M136.3 139.0h0M118.8 140.0h0M133.0 139.1h0M116.4 138.5h0M134.8 138.7h0M127.1 140.0h0M131.2 137.4h0M112.1 138.7h0M110.3 136.7h0M140.5 136.4h0M127.0 140.2h0M115.9 139.1h0M128.6 139.3h0M130.0 138.5h0M142.2 137.0h0M114.6 138.0h0M111.1 135.9h0M130.6 138.4h0M116.8 138.5h0M109.0 132.9h0M134.9 138.0h0M134.6 134.8h0M108.3 137.4h0M133.0 135.6h0M129.3 140.0h0M117.6 139.3h0M117.9 139.4h0M145.1 137.3h0M150.1 132.7h0M135.1 138.0h0M143.1 135.9h0M127.4 140.1h0M133.0 136.9h0M129.8 138.3h0M106.7 137.8h0M133.7 139.7h0M127.1 140.0h0M128.0 139.8h0M103.8 137.2h0M128.9 138.7h0M118.1 139.4h0M101.1 137.0h0M138.4 136.7h0M134.6 135.6h0M135.3 136.7h0M84.6 132.8h0M114.6 137.5h0M130.4 139.3h0M133.9 138.1h0M136.2 135.4h0M136.6 137.6h0M134.4 138.8h0M116.4 138.2h0M147.8 136.8h0M110.5 135.9h0M128.9 139.8h0M131.2 139.8h0M103.0 133.9h0M137.3 133.8h0M131.9 137.1h0M150.5 134.1h0M114.4 137.9h0M128.5 139.7h0M112.1 135.2h0M110.3 134.2h0M119.2 140.1h0M144.8 134.5h0M114.9 139.3h0M115.9 138.4h0M108.7 138.3h0M132.9 136.8h0M99.0 137.9h0M112.9 139.3h0M142.0 138.8h0M132.5 135.9h0M104.5 134.7h0M119.1 140.1h0M111.6 139.3h0M132.3 136.3h0M116.4 139.0h0M138.5 131.3h0M126.9 140.2h0M104.5 136.4h0M155.8 135.7h0M130.5 139.1h0M136.1 137.9h0M115.1 137.4h0M133.2 138.2h0M107.4 136.2h0M130.0 139.4h0" stroke="#858585" stroke-width="0.8" stroke-linecap="round" opacity="0.33"/>
<path d="M127.1 140.1h0M132.6 138.9h0M113.8 136.4h0M115.0 138.8h0M115.1 139.4h0M144.9 139.1h0M130.2 139.8h0M132.9 138.4h0M127.6 140.0h0M133.8 139.6h0M129.1 139.7h0M118.9 140.1h0M116.2 137.9h0M133.3 135.6h0M127.2 140.0h0M142.6 135.1h0M127.1 140.0h0M109.7 134.6h0M119.3 140.2h0M132.2 138.4h0M113.6 136.6h0M112.1 135.6h0M127.0 140.1h0M159.1 135.1h0M114.2 136.9h0M138.8 135.2h0M110.8 137.7h0M111.0 135.8h0M137.7 138.7h0M127.6 140.1h0M116.0 139.0h0M146.9 132.6h0M136.9 136.3h0M127.4 140.1h0M106.8 137.6h0M129.5 138.9h0M130.2 139.5h0M108.7 135.0h0M131.8 137.3h0M78.8 133.8h0M133.3 137.4h0M146.1 137.8h0M129.9 139.8h0M118.6 140.0h0M129.0 139.0h0M138.8 137.5h0M132.6 137.6h0M71.8 136.6h0M127.2 140.1h0M131.0 138.4h0M141.2 138.9h0M92.1 136.0h0M131.3 137.8h0M128.5 139.2h0M133.2 136.0h0M112.4 134.3h0M126.9 140.1h0M133.5 137.7h0M137.3 136.1h0M133.2 137.7h0M109.9 135.3h0M131.0 138.4h0M103.2 131.8h0M117.0 139.6h0M144.9 137.7h0M152.3 134.7h0M117.8 139.1h0M129.6 139.8h0M117.8 139.9h0M130.8 138.6h0M117.9 139.7h0M163.6 133.0h0M113.3 135.0h0M135.8 138.3h0M147.6 137.9h0M131.5 139.0h0M144.9 134.4h0M107.9 137.7h0M138.7 137.3h0M111.7 133.3h0M150.6 136.0h0M131.1 138.8h0M117.2 139.8h0M114.8 138.4h0M151.5 135.0h0M110.1 138.0h0M113.9 136.2h0M118.2 140.1h0M129.2 139.1h0M129.7 139.3h0M132.2 138.1h0M117.5 140.0h0M109.6 137.4h0M140.8 132.3h0M143.2 134.8h0M132.0 139.7h0M117.4 139.2h0M97.7 134.9h0M135.4 139.4h0M148.1 134.4h0M138.6 132.6h0M134.3 136.8h0M127.0 140.1h0M127.9 140.0h0M131.8 137.4h0M128.0 139.9h0M130.9 138.5h0M129.0 139.3h0M129.4 139.3h0M133.8 139.3h0M111.2 136.9h0M118.3 139.6h0M128.4 139.4h0M110.8 137.6h0M111.9 139.5h0M136.3 137.4h0M116.8 138.9h0M134.6 137.9h0M132.7 135.6h0M127.3 140.0h0M116.2 139.7h0M115.5 139.4h0M132.8 138.4h0M128.0 139.9h0M114.3 139.5h0M141.7 137.1h0M113.6 135.7h0M113.8 137.1h0M111.3 137.6h0M129.7 139.6h0M115.5 138.4h0M109.6 136.9h0M127.5 139.9h0M134.8 132.7h0M169.5 136.0h0M136.7 138.0h0M111.2 135.9h0M131.9 139.8h0M114.7 139.3h0M132.6 139.0h0M130.2 139.0h0M140.9 138.0h0M114.6 139.4h0M105.8 138.8h0M111.9 136.0h0M141.6 130.9h0M138.1 132.7h0M128.0 140.0h0M115.4 139.0h0M136.2 138.9h0M116.3 138.9h0M112.3 138.2h0M128.2 139.3h0M134.6 136.5h0M127.4 139.9h0M145.2 137.7h0M111.5 138.7h0M141.0 135.2h0M137.5 131.1h0M110.5 137.4h0M150.2 138.1h0M102.5 138.9h0M127.0 140.1h0M154.1 131.7h0M132.2 138.3h0M131.4 138.7h0M113.5 137.6h0M130.2 139.0h0M145.1 136.3h0M127.6 139.7h0M119.0 140.1h0M147.6 135.8h0M132.8 137.9h0M113.5 138.2h0M132.2 138.6h0M134.6 134.5h0M107.9 137.2h0M112.8 138.5h0M99.6 136.4h0M142.5 137.9h0M135.5 133.2h0M111.6 135.4h0M134.9 136.4h0M127.2 140.1h0M127.3 140.0h0M106.3 137.5h0M111.8 138.4h0M117.7 139.8h0M109.8 133.0h0M129.5 139.1h0M130.4 137.8h0M109.4 135.5h0M113.6 139.6h0M137.2 135.2h0M147.8 131.2h0M109.9 136.7h0M131.7 139.6h0M113.2 138.6h0M133.4 138.9h0M133.4 138.8h0M132.3 135.6h0M117.8 139.7h0M106.7 134.8h0M132.5 137.6h0M118.7 139.9h0M131.9 139.0h0M117.6 139.6h0M113.6 137.5h0M117.5 139.1h0M133.0 139.6h0M154.9 137.5h0M132.0 137.9h0M114.6 136.8h0M130.8 137.8h0M143.9 136.1h0M112.9 139.4h0M133.5 135.7h0M140.6 137.2h0M115.6 137.3h0M132.8 136.9h0M117.1 139.9h0M143.3 137.8h0M132.5 139.5h0M111.7 138.4h0M109.2 132.9h0M116.6 139.4h0M132.5 139.2h0M132.6 138.4h0M118.7 140.1h0M102.9 130.9h0M115.6 137.7h0M112.6 137.9h0M128.7 138.9h0M128.5 139.5h0M114.5 139.1h0M115.1 137.7h0M129.6 139.5h0M128.8 140.0h0M101.5 135.6h0M115.3 138.1h0M111.7 137.4h0M134.7 136.2h0M127.3 140.0h0M103.9 130.1h0M111.7 135.5h0M127.5 140.1h0M129.9 139.0h0M130.5 137.4h0M107.4 135.6h0M111.3 134.6h0M128.0 139.4h0M135.6 132.9h0M113.7 139.1h0M129.7 139.0h0M167.9 136.2h0M152.4 136.6h0M134.4 138.3h0M101.3 138.2h0M135.3 138.8h0M144.7 135.9h0M132.1 138.3h0M116.6 139.3h0M118.0 139.5h0M144.7 132.9h0M143.5 136.1h0M110.1 136.4h0M141.5 135.6h0M129.2 139.6h0M111.1 132.8h0M115.3 137.0h0M152.7 134.3h0M133.2 137.1h0M115.0 138.1h0M131.3 138.5h0M132.0 139.6h0M111.2 138.2h0M117.1 138.9h0M116.6 139.9h0M140.0 137.1h0M108.8 138.1h0M134.3 135.6h0M119.0 140.0h0M146.6 135.9h0M117.1 139.3h0M127.9 139.5h0M118.3 139.7h0M115.9 139.0h0M118.6 139.8h0M128.0 139.7h0M132.7 139.5h0M105.7 133.6h0M105.7 137.7h0M145.2 132.2h0M118.0 139.7h0M108.5 137.4h0M132.6 138.1h0M117.3 139.3h0M128.3 139.6h0M108.5 135.8h0M117.4 139.6h0M141.0 135.5h0M109.3 133.8h0M127.5 139.8h0M115.2 137.8h0M131.0 139.2h0M115.3 137.6h0M99.2 132.0h0M112.6 134.6h0M127.7 139.7h0M141.0 136.6h0M131.0 136.8h0M112.8 138.3h0M129.4 139.0h0M117.1 139.1h0M107.6 138.5h0M139.8 136.2h0M112.8 135.8h0M129.8 139.6h0M134.9 137.8h0M118.2 139.9h0M128.7 139.5h0M112.7 139.4h0M130.6 139.8h0M140.1 137.6h0M114.1 137.3h0M127.2 140.0h0M127.1 140.1h0M113.6 135.5h0M129.6 138.3h0M133.2 136.0h0M136.9 131.3h0M109.1 139.0h0M130.5 139.5h0M143.5 138.1h0M111.1 136.8h0M115.3 139.1h0M106.0 136.0h0M110.1 132.4h0M117.9 139.8h0M116.6 139.4h0M130.0 137.7h0M132.1 138.7h0M140.7 138.2h0M142.5 137.1h0M113.5 137.4h0M113.3 139.0h0M142.5 134.0h0M114.8 139.0h0M131.3 138.1h0M115.0 136.8h0M141.7 132.5h0M129.1 138.7h0M113.7 139.2h0M109.3 132.0h0M134.7 134.9h0M138.9 134.1h0M135.9 137.7h0M131.8 138.3h0M128.5 139.4h0M137.8 132.5h0M112.0 137.4h0M115.3 138.2h0M119.2 140.2h0M130.9 139.1h0M139.6 134.2h0M115.0 139.4h0M127.2 140.0h0M137.2 130.9h0M118.5 139.8h0M130.0 139.0h0M149.1 131.1h0M139.3 137.5h0M132.6 137.2h0M116.6 138.5h0M112.4 139.0h0M116.2 138.4h0M118.0 139.3h0M99.9 134.5h0M130.9 139.1h0M118.8 140.0h0M129.6 139.8h0M128.3 139.8h0M116.1 139.2h0M130.1 138.4h0M93.0 136.6h0M106.2 138.0h0M144.1 132.3h0M134.1 136.0h0M129.4 139.5h0M111.6 136.0h0M130.8 139.7h0M115.6 137.5h0M117.8 139.5h0M106.0 136.7h0M128.7 139.7h0M115.1 136.9h0M137.7 137.6h0M153.6 134.1h0M133.6 135.5h0M110.4 132.5h0M158.3 136.4h0M127.0 140.2h0M132.2 139.2h0M128.3 139.7h0M135.4 137.4h0M114.8 137.6h0M115.3 138.5h0M130.6 139.7h0M114.4 138.7h0M131.5 139.1h0M107.9 134.4h0M109.7 135.4h0M116.6 138.6h0M110.3 135.7h0M113.8 137.7h0M112.5 135.0h0M117.4 139.1h0M105.6 135.9h0M112.9 134.4h0M146.1 137.5h0M127.8 139.8h0M144.4 133.3h0M150.6 134.6h0M128.1 140.0h0M128.6 139.9h0M130.7 139.6h0M116.9 139.6h0M118.3 139.9h0M107.4 138.3h0M134.1 136.4h0M108.6 130.5h0M113.9 137.9h0M136.1 135.0h0M127.8 140.0h0M117.4 139.8h0M115.8 139.3h0M100.3 138.7h0M133.4 138.1h0M85.2 137.8h0M130.3 139.8h0M135.5 134.5h0M134.0 138.4h0M150.6 133.7h0M114.9 138.3h0M130.1 139.5h0M134.3 138.6h0M96.8 136.5h0M117.1 139.1h0M116.8 139.4h0M128.9 139.4h0M133.0 137.5h0M127.8 139.9h0M130.6 138.6h0M110.4 134.3h0M140.1 136.2h0M127.3 140.1h0M104.9 138.2h0M116.9 138.6h0M113.1 137.6h0M108.4 136.0h0M142.1 137.6h0M132.2 138.7h0M100.4 136.1h0M128.3 139.8h0M112.9 135.0h0M130.3 138.6h0M128.9 139.7h0M129.4 139.8h0M115.3 137.3h0M118.7 139.9h0M127.0 140.1h0M107.5 137.5h0M115.9 138.8h0M114.1 139.0h0M127.9 139.7h0M127.7 140.0h0M126.9 140.2h0M135.0 134.3h0M111.9 139.0h0M117.1 139.3h0M127.0 140.1h0M146.1 136.9h0M132.6 135.2h0M109.1 136.3h0M135.7 137.8h0M129.5 139.6h0M156.6 137.5h0M116.6 138.5h0M111.2 133.9h0M134.4 139.3h0M136.4 136.5h0M143.2 138.8h0M133.1 138.2h0M107.2 137.9h0M118.1 139.9h0M127.9 139.7h0M138.8 126.7h0M110.9 136.7h0M134.8 136.2h0M139.9 135.7h0M111.6 137.2h0M133.0 137.8h0M108.4 138.9h0M127.1 140.0h0M110.2 131.5h0M131.6 139.2h0M129.0 139.6h0M114.7 138.3h0M117.0 139.7h0M129.6 138.7h0M128.9 138.7h0M134.9 137.2h0M107.2 133.8h0M142.9 137.2h0M136.1 139.0h0M133.9 137.1h0M115.4 137.4h0M132.4 136.1h0M104.2 137.5h0M138.9 131.5h0M117.4 139.6h0M116.8 139.6h0M103.0 136.1h0M110.1 132.1h0M132.6 138.9h0M133.6 136.3h0M113.5 139.2h0M135.5 138.4h0M132.9 135.9h0M142.2 135.5h0M136.3 135.8h0M133.7 135.5h0M132.0 138.1h0M131.7 137.7h0M114.6 138.8h0M115.4 138.5h0M110.6 136.0h0M164.2 134.8h0M113.9 139.0h0M129.7 139.4h0M115.1 137.6h0M129.4 139.9h0M129.9 139.4h0M131.4 138.9h0M129.4 139.9h0M132.7 139.1h0M112.1 137.2h0M128.5 139.8h0M111.0 137.9h0M131.0 137.5h0M115.5 137.3h0M106.3 138.3h0M118.1 139.6h0M128.6 139.8h0M115.5 139.1h0M114.5 139.0h0M116.0 138.3h0M117.7 139.7h0M106.7 137.4h0M131.0 139.4h0M112.7 139.6h0M113.8 138.1h0M113.0 139.0h0M115.2 139.6h0M105.6 134.8h0M111.6 136.9h0M133.7 138.4h0M105.2 135.4h0M116.8 138.5h0M143.0 136.6h0M118.8 139.9h0M118.8 140.0h0M129.4 138.8h0M137.3 139.1h0M128.4 139.7h0M117.7 140.0h0M142.6 134.7h0M141.9 134.9h0M117.3 139.2h0M130.3 138.6h0M112.4 137.0h0M132.8 138.6h0M117.7 139.3h0M136.0 137.7h0M143.2 138.1h0M133.7 139.1h0M142.2 132.9h0M111.3 135.6h0M128.7 139.4h0M141.8 138.4h0M117.7 139.7h0M154.6 132.7h0M104.5 136.0h0M128.2 139.5h0M101.7 136.6h0M115.1 138.8h0M130.9 138.1h0M102.3 136.0h0M115.3 139.3h0M116.8 139.2h0M143.3 137.5h0M140.0 135.4h0M135.8 138.4h0M130.5 139.6h0M131.6 137.6h0M112.5 138.2h0M104.0 133.4h0M107.1 138.3h0M149.8 136.9h0M132.5 135.2h0M138.2 132.8h0M114.2 136.7h0M109.5 130.2h0M111.7 138.3h0M127.0 140.1h0M149.0 134.1h0M111.2 136.9h0M144.3 134.2h0M138.5 134.2h0M114.0 137.3h0M135.7 135.4h0M131.9 139.7h0M154.3 132.7h0M114.8 139.2h0M118.5 139.8h0M105.1 134.4h0M109.2 132.2h0M103.4 136.9h0M111.9 134.7h0M130.7 138.1h0M132.8 135.4h0M113.4 138.2h0M114.5 137.3h0M136.1 138.1h0M110.0 131.4h0M133.5 134.5h0M111.8 137.8h0M113.9 137.8h0M128.4 139.8h0M132.5 136.2h0M113.5 138.8h0M108.2 138.0h0M131.3 137.0h0M96.8 132.9h0M134.3 139.0h0M133.7 136.0h0M134.8 138.9h0M133.7 138.1h0M91.6 136.7h0M104.9 138.4h0M105.7 133.9h0M113.7 135.5h0M112.7 137.3h0M127.6 139.7h0M114.3 138.3h0M132.7 139.0h0M109.7 134.1h0M128.6 139.4h0M98.0 136.6h0M114.3 136.9h0M113.0 137.6h0M131.6 139.5h0M105.6 138.0h0M110.0 132.0h0M127.5 139.9h0M119.2 140.2h0M159.5 134.7h0M133.7 139.1h0M140.2 131.9h0M135.9 138.2h0M129.7 138.5h0M117.5 139.5h0M115.7 138.0h0M133.4 138.8h0M113.3 137.2h0M149.7 137.3h0M127.6 139.8h0M129.6 139.1h0M133.4 138.5h0M116.9 139.3h0M133.4 135.6h0M107.0 134.0h0M113.2 134.8h0M109.6 138.3h0M91.9 134.5h0M128.3 139.9h0M132.0 138.2h0M132.7 138.6h0M112.7 138.7h0M132.6 137.6h0M108.8 133.5h0M148.5 135.5h0M131.5 137.8h0M136.0 137.6h0M105.9 128.0h0M143.3 137.6h0M131.9 138.2h0M115.4 139.4h0M128.9 139.8h0M112.3 138.0h0M139.1 135.2h0M115.0 139.2h0M128.7 139.2h0M118.3 139.6h0M93.4 132.6h0M129.2 139.5h0M128.8 138.8h0M131.8 139.0h0M116.9 138.6h0M127.9 140.0h0M116.8 139.8h0M118.2 139.8h0M114.5 140.0h0M111.0 135.0h0M118.1 139.8h0M116.0 137.7h0M135.8 131.8h0M129.7 138.6h0M155.9 131.9h0M129.5 139.1h0M109.3 136.9h0M130.2 139.6h0M129.3 139.4h0M97.3 135.7h0M112.6 135.9h0M105.1 132.4h0M112.4 137.7h0M114.4 138.2h0M110.6 138.0h0M127.8 140.1h0M128.3 140.0h0M115.6 137.3h0M116.1 138.6h0M130.5 139.7h0M117.7 139.5h0M127.7 139.9h0M103.0 136.1h0M133.3 138.4h0M109.2 138.1h0M96.1 136.9h0M131.1 139.1h0M113.7 138.8h0M128.2 139.3h0M101.4 135.7h0M135.0 137.4h0M111.9 136.0h0M118.8 140.2h0M116.2 138.7h0M140.0 134.6h0M113.5 139.2h0M141.3 137.2h0M155.7 137.0h0M139.2 136.3h0M140.6 137.8h0M128.4 139.8h0M131.9 138.3h0M110.8 132.6h0M116.6 139.7h0M97.6 137.3h0M118.0 139.6h0M127.2 140.1h0M113.2 138.2h0M116.9 139.4h0M127.5 140.1h0M117.2 139.6h0M134.1 139.2h0M97.3 133.9h0M130.5 139.5h0M79.7 135.8h0M136.1 134.3h0M129.4 139.8h0M131.4 138.3h0M116.5 139.6h0M145.0 133.4h0M113.4 135.4h0M126.9 140.2h0M105.5 130.0h0M113.5 137.5h0M127.1 140.1h0M145.2 133.6h0M115.6 139.6h0M100.0 133.2h0M129.8 138.9h0M145.1 135.8h0M127.1 140.1h0M118.5 140.1h0M144.8 138.2h0M135.9 132.4h0M127.0 140.1h0M135.0 138.0h0M115.5 139.4h0M130.7 139.3h0M137.2 135.9h0M140.0 137.8h0M108.2 134.0h0M98.4 137.1h0M99.1 135.7h0M113.4 138.1h0M134.7 137.7h0M130.1 139.2h0M118.2 139.6h0M133.2 138.9h0M110.6 135.5h0M107.0 138.7h0M129.4 139.3h0M131.4 138.2h0M118.5 140.0h0M116.3 139.3h0M129.0 138.9h0M136.7 136.1h0M118.7 140.0h0M135.3 136.8h0M112.8 136.9h0M136.6 138.6h0M128.7 139.2h0M134.6 138.9h0" stroke="#858585" stroke-width="0.8" stroke-linecap="round" opacity="0.33"/>
<path d="M103.4 125.1h0M97.3 121.3h0M102.9 124.1h0M106.4 124.5h0M106.0 125.9h0M105.8 124.1h0M92.0 115.0h0M100.8 119.4h0M96.1 116.8h0M106.0 125.8h0M98.2 125.5h0M104.2 124.5h0M101.7 126.0h0M105.0 121.2h0M104.7 126.0h0M90.2 121.8h0M99.0 114.6h0M91.2 118.3h0M101.8 122.6h0M103.1 123.8h0M101.7 125.8h0M103.1 125.9h0M99.2 120.7h0M102.4 123.5h0M100.8 125.9h0M99.6 119.5h0M89.6 121.7h0M106.1 123.5h0M104.7 122.8h0M99.0 121.0h0M103.8 121.1h0M104.2 125.8h0M100.7 118.1h0M101.3 117.5h0M105.5 126.2h0M105.1 125.7h0M103.1 123.2h0M90.1 121.1h0M107.3 125.8h0M107.0 125.6h0M105.4 125.3h0M95.8 118.5h0M103.6 122.7h0M92.5 112.2h0M106.1 126.1h0M106.4 126.3h0M95.3 124.3h0M102.7 122.1h0M91.6 124.8h0M96.7 125.1h0M104.2 122.7h0M101.7 119.6h0M96.9 123.6h0M96.9 126.0h0M104.7 121.2h0M98.3 123.9h0M102.1 117.9h0M97.4 116.8h0M104.7 123.0h0M96.9 120.9h0M100.9 125.8h0M105.2 123.8h0" stroke="#3a3ad0" stroke-width="0.9" stroke-linecap="round" opacity="0.85"/>
<path d="M167.6 124.9h0M147.9 119.2h0M148.6 125.2h0M152.0 123.9h0M141.3 122.6h0M161.3 123.2h0M142.2 122.1h0M147.5 111.6h0M143.0 120.3h0M156.4 125.5h0M145.6 122.8h0M158.3 124.4h0M151.5 116.7h0M167.3 105.1h0M143.6 125.2h0M146.4 125.3h0M146.7 124.9h0M156.2 121.9h0M148.4 118.4h0M147.7 125.6h0M150.8 117.8h0M146.0 122.7h0M150.4 125.5h0M142.7 125.3h0M157.6 123.3h0M146.9 124.6h0M151.5 125.7h0M167.0 112.9h0M168.6 103.5h0M144.4 115.4h0M151.3 122.8h0M148.2 111.6h0M147.4 124.4h0M165.8 121.0h0M143.8 124.5h0M164.5 74.5h0M142.8 118.2h0M147.0 117.1h0M153.5 122.5h0M151.9 119.2h0M148.2 124.0h0M147.8 119.3h0M140.3 124.8h0M181.4 121.0h0M171.5 107.2h0M146.8 121.2h0M143.4 125.4h0M147.0 122.3h0M140.9 126.0h0M145.0 126.2h0M146.3 125.2h0M154.8 119.0h0M142.4 119.2h0M151.7 118.2h0M144.8 117.4h0M184.5 119.7h0M152.4 117.8h0M147.0 120.1h0M140.9 122.0h0M160.1 121.3h0M146.7 125.2h0M168.4 105.2h0M143.1 120.7h0M162.7 113.9h0M142.0 121.1h0M148.3 118.5h0M149.3 121.9h0M156.2 104.7h0M152.5 118.2h0M147.6 123.7h0M140.8 125.4h0M176.7 126.0h0M145.3 118.0h0M141.9 125.6h0M157.2 121.9h0M146.4 123.0h0M159.5 123.3h0M147.1 122.4h0M144.7 117.7h0M161.0 123.8h0M141.7 123.9h0M146.2 125.7h0M152.0 125.2h0M162.0 124.8h0M147.4 118.7h0M140.0 124.6h0M142.8 121.8h0M156.2 118.8h0M147.1 122.0h0M212.1 125.7h0M147.9 123.8h0M157.4 123.1h0M157.1 114.5h0M191.9 120.3h0M153.7 107.1h0M168.6 116.9h0M152.5 121.1h0M154.3 124.2h0M147.7 114.6h0M145.0 120.5h0M161.4 116.2h0M152.0 119.7h0M151.6 126.0h0M150.4 117.6h0M144.8 118.2h0M140.0 125.4h0M144.3 125.3h0M145.4 121.8h0M150.8 125.2h0M142.0 121.2h0M150.3 117.0h0M146.2 121.8h0M146.3 122.8h0M142.3 121.6h0M145.7 125.9h0M164.3 114.2h0M148.6 122.3h0M155.4 103.9h0M140.9 122.7h0M166.2 121.5h0M153.7 116.3h0M145.4 125.8h0M144.6 120.7h0M147.8 125.3h0M148.1 124.5h0M142.0 126.2h0M143.0 117.6h0M145.2 125.0h0M163.0 126.1h0M149.4 120.3h0M154.2 110.7h0M139.7 125.5h0M144.4 123.0h0M141.6 121.9h0M153.5 123.2h0M146.3 123.2h0M154.5 124.4h0M140.0 126.0h0M140.1 124.2h0M161.3 119.1h0M156.4 120.8h0M143.9 115.0h0M143.9 120.2h0M159.6 120.8h0M144.0 125.3h0M148.4 121.3h0M143.1 116.9h0M145.9 125.8h0M150.9 121.8h0M142.2 125.3h0M146.8 126.1h0M141.1 124.9h0M156.8 117.2h0M149.9 126.1h0M138.9 125.3h0M163.1 125.1h0M154.2 105.4h0M146.3 125.6h0M142.7 122.8h0M169.9 102.1h0M141.6 124.2h0M148.5 107.5h0M139.9 123.8h0M163.1 125.9h0M139.0 125.7h0M175.3 111.7h0M196.7 96.2h0M143.7 114.9h0M140.0 125.0h0M160.7 124.8h0M152.3 123.4h0M144.8 124.8h0M142.1 122.6h0M160.9 116.1h0M163.9 102.3h0M142.7 121.5h0M144.9 125.4h0M143.9 122.2h0M173.3 105.5h0M154.3 124.4h0M140.5 124.3h0M144.0 122.7h0M146.3 121.2h0M147.2 124.7h0M179.0 124.4h0M150.5 110.2h0M146.2 125.7h0M145.7 124.9h0M143.2 126.0h0M141.9 120.1h0M142.1 125.1h0M143.8 124.9h0M154.8 121.5h0M158.2 91.7h0M148.7 116.9h0M142.1 120.0h0M156.1 115.1h0M140.4 124.7h0M153.4 124.8h0M152.9 119.7h0M145.2 115.1h0M148.8 111.4h0M149.6 109.9h0M140.6 122.8h0M151.5 106.8h0M141.3 126.2h0M148.7 124.4h0M152.9 120.9h0M154.3 114.2h0M179.7 119.5h0M182.5 111.6h0M151.2 125.3h0M143.3 123.9h0M149.5 114.1h0M148.2 121.9h0M143.0 124.1h0M196.8 121.2h0M154.6 113.3h0M173.4 114.4h0M188.3 111.6h0M142.1 124.5h0M167.3 108.1h0M145.4 124.4h0M147.1 110.1h0M143.4 124.8h0M138.8 125.7h0M140.0 124.7h0M147.2 123.9h0M141.5 124.6h0M152.9 111.5h0M142.3 122.9h0M174.4 104.5h0M159.8 114.8h0M140.8 126.2h0M140.1 125.4h0M142.0 121.0h0M144.6 123.7h0M143.2 123.7h0M139.6 124.6h0M158.4 123.5h0M146.4 108.5h0M147.9 111.1h0M150.1 121.6h0M161.2 125.2h0M143.7 124.8h0M142.7 125.6h0M142.8 122.2h0M170.6 117.8h0M143.7 117.4h0M152.4 126.2h0M146.4 119.5h0M150.0 117.2h0M159.4 126.3h0M160.6 119.8h0M174.0 92.4h0M146.6 123.5h0M147.4 124.4h0M139.1 126.1h0M150.6 124.1h0M151.0 126.0h0M149.9 103.6h0M148.0 118.1h0M151.1 122.0h0M157.9 111.3h0M139.4 126.3h0M144.2 120.8h0M138.8 125.8h0M146.5 115.6h0M145.5 125.8h0M151.9 118.8h0M142.2 125.3h0M142.9 118.3h0M148.0 111.2h0M147.9 122.6h0M146.5 124.1h0M142.0 119.9h0M140.0 123.8h0M144.5 117.4h0M143.3 121.4h0M141.4 122.2h0M166.6 126.2h0M142.9 123.9h0M157.4 116.8h0M142.2 125.3h0M138.6 126.0h0M141.2 126.2h0M142.8 122.3h0M170.0 111.6h0M163.0 101.0h0M143.9 125.7h0M147.1 117.7h0M147.7 125.8h0M150.4 122.1h0M159.8 111.0h0M144.6 115.9h0M145.1 121.5h0M169.7 114.4h0M147.6 122.9h0M153.3 121.0h0M143.7 125.7h0M149.4 123.9h0M153.6 111.7h0M146.7 117.6h0M143.7 117.8h0M148.3 119.7h0M150.3 99.5h0M141.6 126.1h0M139.6 124.4h0M148.1 124.2h0M162.0 125.6h0M141.2 122.3h0M172.5 115.0h0M146.7 123.6h0M166.1 114.8h0M146.4 121.1h0M143.5 125.8h0M142.4 124.4h0M145.8 122.8h0M163.4 111.2h0M142.3 124.2h0M156.3 104.6h0M139.1 125.6h0M147.2 115.4h0M140.3 123.8h0M150.4 113.6h0M144.7 115.4h0M142.4 124.8h0M143.4 123.5h0M159.9 116.1h0M156.5 114.3h0M140.8 123.4h0M139.9 125.4h0M153.0 102.3h0M153.8 121.8h0M150.4 124.2h0M152.2 108.0h0M151.8 126.1h0M153.0 109.8h0M162.2 119.9h0M141.7 119.9h0M139.3 125.7h0M151.2 113.5h0M145.8 119.2h0M147.8 111.8h0M147.7 111.9h0M148.4 117.1h0M153.6 108.9h0M160.4 110.6h0M149.6 118.1h0M147.6 115.0h0M141.8 126.1h0M142.3 124.9h0M156.5 110.7h0M154.1 123.1h0M140.4 125.9h0M140.5 124.9h0M152.1 117.9h0M176.1 99.8h0M157.8 120.6h0M149.2 122.6h0M144.2 124.4h0M191.3 111.7h0M141.5 124.1h0M167.0 102.5h0M144.1 121.1h0M155.8 90.3h0M146.8 115.8h0M154.9 122.4h0M139.4 125.1h0M142.4 125.3h0M146.9 116.2h0M139.1 126.2h0M152.8 123.7h0M147.8 125.0h0M142.3 124.0h0M144.0 125.2h0M141.7 120.6h0M159.4 107.6h0M143.8 121.7h0M154.1 125.3h0M156.9 121.3h0M177.9 119.1h0M153.6 107.8h0M152.0 120.1h0M148.8 119.4h0M146.9 116.9h0M146.0 117.7h0M140.4 125.5h0M146.7 118.8h0M169.5 117.8h0M168.9 119.6h0M156.9 119.3h0M163.8 125.2h0M145.4 126.1h0M173.1 107.6h0M148.7 110.4h0M141.0 122.3h0M146.2 124.2h0M144.8 119.8h0M169.0 122.2h0M157.1 118.8h0M151.7 121.1h0M150.5 124.1h0M144.7 118.8h0M157.2 119.9h0M143.7 124.2h0M186.6 108.9h0M141.7 123.4h0M147.2 122.9h0M156.9 115.3h0M175.9 82.2h0M150.7 123.8h0M155.2 124.0h0M148.0 125.7h0M156.6 120.3h0M150.4 123.1h0M150.4 112.2h0M151.7 119.1h0M179.0 108.8h0M146.4 119.1h0M148.6 124.0h0M151.6 102.1h0M142.9 124.5h0M144.1 118.8h0M142.6 125.2h0M158.2 118.2h0M152.0 110.7h0M163.0 123.0h0M141.5 123.9h0M143.6 119.6h0M141.2 121.7h0M144.4 117.4h0M156.2 118.7h0M143.1 120.5h0M168.8 124.4h0M148.1 115.5h0M142.6 121.7h0M144.3 121.4h0M162.5 124.0h0M140.9 125.9h0M163.0 122.1h0M162.0 121.7h0M144.9 121.8h0M139.5 126.0h0M152.4 121.7h0M149.4 125.7h0M142.3 125.8h0M161.2 111.4h0M148.3 125.2h0M154.8 110.0h0M145.2 124.7h0M164.9 62.4h0M139.7 124.6h0M160.9 111.9h0M164.5 79.7h0M146.5 123.1h0M166.5 110.1h0M211.9 117.0h0M144.3 124.6h0M143.6 120.9h0M145.2 123.0h0M151.7 125.9h0M159.3 123.5h0M149.6 115.0h0M143.8 125.3h0M142.6 124.4h0M147.8 117.7h0M170.0 124.6h0M142.9 118.5h0M143.1 124.8h0M153.6 124.7h0M146.7 110.2h0M148.5 119.8h0M146.4 122.4h0M160.6 123.6h0M148.1 110.7h0M153.2 123.0h0M146.9 120.1h0M161.6 100.8h0M172.4 118.3h0M143.8 115.7h0M150.7 115.5h0M148.2 123.8h0M154.1 123.3h0M143.3 124.9h0M149.6 117.3h0M141.3 124.1h0M147.1 124.4h0M147.4 118.7h0M140.9 122.6h0M156.5 99.1h0M185.7 85.5h0M149.9 110.5h0M149.7 124.4h0M145.7 124.0h0M159.6 115.0h0M142.1 121.1h0M139.6 124.6h0M140.2 123.7h0M149.7 125.1h0M146.2 125.5h0M153.6 124.6h0M141.1 122.1h0M144.9 115.8h0M146.2 121.1h0M168.6 121.8h0M156.3 120.4h0M165.9 87.5h0M147.5 122.8h0M143.1 123.3h0M160.4 121.0h0M161.1 99.2h0M148.2 120.3h0M143.5 125.1h0M158.3 102.3h0M155.6 116.0h0M140.5 126.1h0M146.4 124.1h0M157.9 121.5h0M148.9 123.5h0M151.8 123.6h0M150.8 114.3h0M142.2 119.8h0M146.4 122.1h0M143.5 121.5h0M144.2 124.9h0M142.6 122.1h0M143.6 125.9h0M149.5 122.6h0M150.0 122.1h0M167.2 85.6h0M194.1 111.4h0M143.6 124.4h0M143.1 125.1h0M141.2 125.9h0M151.5 119.8h0M145.5 120.9h0M143.3 125.3h0M143.3 120.7h0M151.3 117.3h0M170.4 124.4h0M166.1 118.6h0M146.1 116.5h0M167.6 120.1h0M146.4 125.0h0M163.0 124.7h0M150.7 106.0h0M144.5 117.9h0M152.7 121.6h0M141.8 125.9h0M139.9 126.1h0M154.1 117.0h0M148.8 116.8h0M167.4 123.0h0M148.6 117.8h0M163.4 122.6h0M151.7 124.6h0M143.0 123.7h0M199.9 80.2h0M171.0 119.2h0M166.2 124.2h0M146.9 122.6h0M143.7 122.8h0M148.1 121.8h0M140.5 123.1h0M147.2 123.8h0M147.2 122.5h0M162.4 103.2h0M186.4 104.5h0M185.3 119.4h0M146.5 117.0h0M141.8 124.4h0M139.7 125.3h0M151.8 126.0h0M141.5 124.3h0M210.8 125.3h0M146.8 123.6h0M155.6 125.9h0M155.6 93.3h0M156.9 109.1h0M139.1 125.2h0M172.2 113.4h0M142.4 122.2h0M156.8 116.3h0M147.8 114.5h0M145.4 122.9h0M181.5 111.1h0M163.1 89.5h0M144.6 118.8h0M161.9 114.7h0M140.9 124.2h0M145.1 122.8h0M158.6 122.3h0M141.3 123.2h0M145.9 114.7h0M141.2 125.8h0M151.3 124.4h0M145.1 123.5h0M139.5 126.0h0M152.8 110.0h0M141.2 126.2h0M146.4 120.4h0M143.7 116.9h0M146.8 116.2h0M153.6 118.0h0M146.2 116.9h0M145.1 124.1h0M142.4 124.1h0M138.5 126.2h0M167.4 82.1h0M143.2 123.5h0M144.9 119.0h0M146.4 124.9h0M177.7 118.9h0M155.6 112.3h0M158.8 113.8h0M149.5 123.6h0M143.9 124.6h0M143.1 126.2h0M151.1 122.8h0M143.3 117.3h0" stroke="#e2141e" stroke-width="0.9" stroke-linecap="round" opacity="0.9"/>
<line x1="62.70" y1="49.70" x2="244.10" y2="49.70" stroke="#1a1a1a" stroke-width="1.1"/>
<line x1="244.10" y1="49.20" x2="244.10" y2="140.20" stroke="#1a1a1a" stroke-width="1.1"/>
<line x1="62.70" y1="49.20" x2="62.70" y2="61.30" stroke="#1a1a1a" stroke-width="1.1"/>
<line x1="62.70" y1="66.00" x2="62.70" y2="140.70" stroke="#1a1a1a" stroke-width="1.1"/>
<line x1="62.20" y1="140.20" x2="244.60" y2="140.20" stroke="#1a1a1a" stroke-width="1.1"/>
<line x1="58.90" y1="49.70" x2="62.70" y2="49.70" stroke="#1a1a1a" stroke-width="1"/>
<line x1="58.90" y1="55.30" x2="62.70" y2="55.30" stroke="#1a1a1a" stroke-width="1"/>
<line x1="58.90" y1="61.30" x2="62.70" y2="61.30" stroke="#1a1a1a" stroke-width="1"/>
<line x1="58.90" y1="66.00" x2="62.70" y2="66.00" stroke="#1a1a1a" stroke-width="1"/>
<text x="53.30" y="52.40" font-size="8.1" text-anchor="end" fill="#222" textLength="8.7" lengthAdjust="spacingAndGlyphs">12</text>
<text x="53.30" y="59.20" font-size="8.1" text-anchor="end" fill="#222" textLength="8.7" lengthAdjust="spacingAndGlyphs">10</text>
<text x="53.30" y="66.60" font-size="8.1" text-anchor="end" fill="#222">8</text>
<line x1="58.90" y1="76.00" x2="62.70" y2="76.00" stroke="#1a1a1a" stroke-width="1"/>
<text x="53.50" y="80.00" font-size="8.1" text-anchor="end" fill="#222">6</text>
<line x1="58.90" y1="97.40" x2="62.70" y2="97.40" stroke="#1a1a1a" stroke-width="1"/>
<text x="53.50" y="100.40" font-size="8.1" text-anchor="end" fill="#222">4</text>
<line x1="58.90" y1="118.80" x2="62.70" y2="118.80" stroke="#1a1a1a" stroke-width="1"/>
<text x="53.50" y="121.80" font-size="8.1" text-anchor="end" fill="#222">2</text>
<line x1="58.90" y1="140.20" x2="62.70" y2="140.20" stroke="#1a1a1a" stroke-width="1"/>
<text x="53.50" y="143.20" font-size="8.1" text-anchor="end" fill="#222">0</text>
<line x1="62.70" y1="140.20" x2="62.70" y2="143.20" stroke="#1a1a1a" stroke-width="1"/>
<line x1="74.77" y1="140.20" x2="74.77" y2="143.20" stroke="#1a1a1a" stroke-width="1"/>
<line x1="86.84" y1="140.20" x2="86.84" y2="143.20" stroke="#1a1a1a" stroke-width="1"/>
<line x1="98.91" y1="140.20" x2="98.91" y2="143.20" stroke="#1a1a1a" stroke-width="1"/>
<line x1="110.98" y1="140.20" x2="110.98" y2="143.20" stroke="#1a1a1a" stroke-width="1"/>
<line x1="123.05" y1="140.20" x2="123.05" y2="143.20" stroke="#1a1a1a" stroke-width="1"/>
<line x1="135.12" y1="140.20" x2="135.12" y2="143.20" stroke="#1a1a1a" stroke-width="1"/>
<line x1="147.19" y1="140.20" x2="147.19" y2="143.20" stroke="#1a1a1a" stroke-width="1"/>
<line x1="159.26" y1="140.20" x2="159.26" y2="143.20" stroke="#1a1a1a" stroke-width="1"/>
<line x1="171.33" y1="140.20" x2="171.33" y2="143.20" stroke="#1a1a1a" stroke-width="1"/>
<line x1="183.40" y1="140.20" x2="183.40" y2="143.20" stroke="#1a1a1a" stroke-width="1"/>
<line x1="195.47" y1="140.20" x2="195.47" y2="143.20" stroke="#1a1a1a" stroke-width="1"/>
<line x1="207.54" y1="140.20" x2="207.54" y2="143.20" stroke="#1a1a1a" stroke-width="1"/>
<line x1="219.61" y1="140.20" x2="219.61" y2="143.20" stroke="#1a1a1a" stroke-width="1"/>
<line x1="231.68" y1="140.20" x2="231.68" y2="143.20" stroke="#1a1a1a" stroke-width="1"/>
<line x1="243.75" y1="140.20" x2="243.75" y2="143.20" stroke="#1a1a1a" stroke-width="1"/>
<text x="62.10" y="152.80" font-size="7.9" text-anchor="middle" fill="#222">-5</text>
<text x="123.05" y="152.80" font-size="7.9" text-anchor="middle" fill="#222">0</text>
<text x="183.40" y="152.80" font-size="7.9" text-anchor="middle" fill="#222">5</text>
<text x="243.75" y="152.80" font-size="7.9" text-anchor="middle" fill="#222">10</text>
<line x1="110.98" y1="50.50" x2="110.98" y2="139.60" stroke="#888" stroke-width="1" stroke-dasharray="3 2"/>
<line x1="135.12" y1="50.50" x2="135.12" y2="139.60" stroke="#888" stroke-width="1" stroke-dasharray="3 2"/>
<line x1="63.50" y1="127.10" x2="243.50" y2="127.10" stroke="#888" stroke-width="1" stroke-dasharray="3 2"/>
<text x="200.90" y="61.70" font-size="7.6" fill="#d01c3c" textLength="27.7" lengthAdjust="spacingAndGlyphs">Up: 621</text>
<text x="200.90" y="72.50" font-size="7.6" fill="#2a64a0" textLength="33.9" lengthAdjust="spacingAndGlyphs">Down: 62</text>
<text x="152.00" y="162.90" font-size="8.4" text-anchor="middle" fill="#222" textLength="57" lengthAdjust="spacingAndGlyphs">log<tspan font-size="5.5" dy="1.8">2</tspan><tspan dy="-1.8"> (fold change)</tspan></text>
<text x="38.20" y="92.30" font-size="8.6" text-anchor="middle" fill="#222" textLength="53.5" lengthAdjust="spacingAndGlyphs" transform="rotate(-90 38.20 92.30)">-Log<tspan font-size="5.8" dy="1.8">10</tspan><tspan dy="-1.8"> (<tspan font-style="italic">p</tspan> value)</tspan></text>
<text x="263.50" y="19.50" font-size="12" fill="#000" font-weight="bold">B</text>
<text x="285.50" y="34.20" font-size="9.5" fill="#222" textLength="40.6" lengthAdjust="spacingAndGlyphs">RNA-seq</text>
<text x="388.00" y="43.00" font-size="8.4" text-anchor="middle" fill="#222" textLength="92" lengthAdjust="spacingAndGlyphs">PML-RARα target genes</text>
<line x1="314.10" y1="50.10" x2="314.10" y2="145.30" stroke="#1a1a1a" stroke-width="1.1"/>
<line x1="313.60" y1="144.80" x2="462.30" y2="144.80" stroke="#1a1a1a" stroke-width="1.1"/>
<line x1="310.20" y1="50.78" x2="314.10" y2="50.78" stroke="#1a1a1a" stroke-width="1"/>
<text x="307.30" y="53.68" font-size="7.8" text-anchor="end" fill="#222">20</text>
<line x1="310.20" y1="69.56" x2="314.10" y2="69.56" stroke="#1a1a1a" stroke-width="1"/>
<text x="307.30" y="72.46" font-size="7.8" text-anchor="end" fill="#222">15</text>
<line x1="310.20" y1="88.34" x2="314.10" y2="88.34" stroke="#1a1a1a" stroke-width="1"/>
<text x="307.30" y="91.24" font-size="7.8" text-anchor="end" fill="#222">10</text>
<line x1="310.20" y1="107.12" x2="314.10" y2="107.12" stroke="#1a1a1a" stroke-width="1"/>
<text x="307.30" y="110.02" font-size="7.8" text-anchor="end" fill="#222">5</text>
<line x1="310.20" y1="125.90" x2="314.10" y2="125.90" stroke="#1a1a1a" stroke-width="1"/>
<text x="307.30" y="128.80" font-size="7.8" text-anchor="end" fill="#222">0</text>
<line x1="310.20" y1="144.68" x2="314.10" y2="144.68" stroke="#1a1a1a" stroke-width="1"/>
<text x="307.30" y="147.58" font-size="7.8" text-anchor="end" fill="#222">-5</text>
<line x1="350.80" y1="144.80" x2="350.80" y2="148.30" stroke="#1a1a1a" stroke-width="1"/>
<line x1="424.80" y1="144.80" x2="424.80" y2="148.30" stroke="#1a1a1a" stroke-width="1"/>
<text x="351.00" y="157.70" font-size="8.2" text-anchor="middle" fill="#222" textLength="12.8" lengthAdjust="spacingAndGlyphs">Ctrl</text>
<text x="424.60" y="158.20" font-size="8.2" text-anchor="middle" fill="#222" textLength="44.6" lengthAdjust="spacingAndGlyphs">KDM5A KO</text>
<line x1="314.60" y1="126.50" x2="462.60" y2="126.50" stroke="#222" stroke-width="1.0" stroke-dasharray="1 1"/>
<line x1="350.80" y1="68.30" x2="350.80" y2="89.80" stroke="#1a1a1a" stroke-width="1"/>
<line x1="350.80" y1="105.80" x2="350.80" y2="133.10" stroke="#1a1a1a" stroke-width="1"/>
<line x1="341.50" y1="68.30" x2="359.90" y2="68.30" stroke="#1a1a1a" stroke-width="1.1"/>
<line x1="341.50" y1="133.10" x2="359.90" y2="133.10" stroke="#1a1a1a" stroke-width="1.1"/>
<rect x="333.60" y="90.30" width="34.40" height="15.00" fill="#fff" stroke="#c8102e" stroke-width="1.3"/>
<line x1="333.60" y1="96.50" x2="368.00" y2="96.50" stroke="#c8102e" stroke-width="1.3"/>
<text x="371.80" y="100.50" font-size="8.0" fill="#222" textLength="14.7" lengthAdjust="spacingAndGlyphs">7.96</text>
<line x1="424.80" y1="70.20" x2="424.80" y2="88.20" stroke="#1a1a1a" stroke-width="1"/>
<line x1="424.80" y1="102.60" x2="424.80" y2="133.10" stroke="#1a1a1a" stroke-width="1"/>
<line x1="415.00" y1="70.20" x2="433.80" y2="70.20" stroke="#1a1a1a" stroke-width="1.1"/>
<line x1="415.00" y1="133.10" x2="433.80" y2="133.10" stroke="#1a1a1a" stroke-width="1.1"/>
<rect x="407.10" y="88.70" width="35.20" height="13.50" fill="#fff" stroke="#1a5a94" stroke-width="1.3"/>
<line x1="407.10" y1="93.50" x2="442.30" y2="93.50" stroke="#1a5a94" stroke-width="1.3"/>
<text x="445.40" y="98.00" font-size="8.0" fill="#222" textLength="15.8" lengthAdjust="spacingAndGlyphs">8.62</text>
<line x1="350.80" y1="56.90" x2="426.00" y2="56.90" stroke="#1a1a1a" stroke-width="1.1"/>
<text x="387.70" y="53.60" font-size="7.0" text-anchor="middle" fill="#222" font-weight="bold" textLength="13.8" lengthAdjust="spacingAndGlyphs">****</text>
<text x="289.70" y="97.50" font-size="8.2" text-anchor="middle" fill="#222" textLength="80" lengthAdjust="spacingAndGlyphs" transform="rotate(-90 289.70 97.50)">Log<tspan font-size="5.8" dy="1.8">2</tspan><tspan dy="-1.8"> (counts per million)</tspan></text>
<text x="12.80" y="190.00" font-size="12" fill="#000" font-weight="bold">C</text>
<text x="25.40" y="200.80" font-size="9.6" fill="#222" textLength="41.8" lengthAdjust="spacingAndGlyphs">RT-qPCR</text>
<line x1="59.20" y1="214.30" x2="59.20" y2="315.50" stroke="#1a1a1a" stroke-width="1.1"/>
<line x1="58.70" y1="315.00" x2="208.50" y2="315.00" stroke="#1a1a1a" stroke-width="1.1"/>
<line x1="56.40" y1="315.00" x2="59.20" y2="315.00" stroke="#1a1a1a" stroke-width="1"/>
<text x="52.40" y="317.80" font-size="8.0" text-anchor="end" fill="#222" textLength="4.45" lengthAdjust="spacingAndGlyphs">0</text>
<line x1="56.40" y1="294.96" x2="59.20" y2="294.96" stroke="#1a1a1a" stroke-width="1"/>
<text x="52.40" y="297.76" font-size="8.0" text-anchor="end" fill="#222" textLength="4.45" lengthAdjust="spacingAndGlyphs">2</text>
<line x1="56.40" y1="274.92" x2="59.20" y2="274.92" stroke="#1a1a1a" stroke-width="1"/>
<text x="52.40" y="277.72" font-size="8.0" text-anchor="end" fill="#222" textLength="4.45" lengthAdjust="spacingAndGlyphs">4</text>
<line x1="56.40" y1="254.88" x2="59.20" y2="254.88" stroke="#1a1a1a" stroke-width="1"/>
<text x="52.40" y="257.68" font-size="8.0" text-anchor="end" fill="#222" textLength="4.45" lengthAdjust="spacingAndGlyphs">6</text>
<line x1="56.40" y1="234.84" x2="59.20" y2="234.84" stroke="#1a1a1a" stroke-width="1"/>
<text x="52.40" y="237.64" font-size="8.0" text-anchor="end" fill="#222" textLength="4.45" lengthAdjust="spacingAndGlyphs">8</text>
<line x1="56.40" y1="214.80" x2="59.20" y2="214.80" stroke="#1a1a1a" stroke-width="1"/>
<text x="52.40" y="217.60" font-size="8.0" text-anchor="end" fill="#222" textLength="8.9" lengthAdjust="spacingAndGlyphs">10</text>
<line x1="72.20" y1="315.00" x2="72.20" y2="318.00" stroke="#1a1a1a" stroke-width="1"/>
<rect x="63.60" y="304.98" width="7.40" height="10.02" fill="#c8102e"/>
<rect x="73.20" y="287.95" width="7.40" height="27.05" fill="#0f4c87"/>
<line x1="76.90" y1="286.94" x2="76.90" y2="288.25" stroke="#111" stroke-width="1"/>
<line x1="75.10" y1="286.94" x2="78.70" y2="286.94" stroke="#111" stroke-width="1"/>
<text x="76.90" y="287.00" font-size="6.6" text-anchor="middle" fill="#222" font-weight="bold" textLength="3.2" lengthAdjust="spacingAndGlyphs">*</text>
<text x="76.50" y="324.40" font-size="8.9" text-anchor="end" fill="#222" transform="rotate(-58 76.50 324.40)">ANKRD11</text>
<line x1="97.05" y1="315.00" x2="97.05" y2="318.00" stroke="#1a1a1a" stroke-width="1"/>
<rect x="88.45" y="304.28" width="7.40" height="10.72" fill="#c8102e"/>
<line x1="92.15" y1="303.58" x2="92.15" y2="304.58" stroke="#111" stroke-width="1"/>
<line x1="90.35" y1="303.58" x2="93.95" y2="303.58" stroke="#111" stroke-width="1"/>
<rect x="98.05" y="268.71" width="7.40" height="46.29" fill="#0f4c87"/>
<line x1="101.75" y1="266.40" x2="101.75" y2="269.01" stroke="#111" stroke-width="1"/>
<line x1="99.95" y1="266.40" x2="103.55" y2="266.40" stroke="#111" stroke-width="1"/>
<text x="101.75" y="266.00" font-size="6.6" text-anchor="middle" fill="#222" font-weight="bold" textLength="12.8" lengthAdjust="spacingAndGlyphs">****</text>
<text x="101.35" y="324.40" font-size="8.9" text-anchor="end" fill="#222" transform="rotate(-58 101.35 324.40)">DNM2</text>
<line x1="121.90" y1="315.00" x2="121.90" y2="318.00" stroke="#1a1a1a" stroke-width="1"/>
<rect x="113.30" y="304.18" width="7.40" height="10.82" fill="#c8102e"/>
<line x1="117.00" y1="303.68" x2="117.00" y2="304.48" stroke="#111" stroke-width="1"/>
<line x1="115.20" y1="303.68" x2="118.80" y2="303.68" stroke="#111" stroke-width="1"/>
<rect x="122.90" y="252.88" width="7.40" height="62.12" fill="#0f4c87"/>
<line x1="126.60" y1="244.36" x2="126.60" y2="253.18" stroke="#111" stroke-width="1"/>
<line x1="124.80" y1="244.36" x2="128.40" y2="244.36" stroke="#111" stroke-width="1"/>
<text x="126.60" y="244.30" font-size="6.6" text-anchor="middle" fill="#222" font-weight="bold" textLength="12.8" lengthAdjust="spacingAndGlyphs">****</text>
<text x="126.20" y="324.40" font-size="8.9" text-anchor="end" fill="#222" transform="rotate(-58 126.20 324.40)">GNB2</text>
<line x1="146.75" y1="315.00" x2="146.75" y2="318.00" stroke="#1a1a1a" stroke-width="1"/>
<rect x="138.15" y="304.98" width="7.40" height="10.02" fill="#c8102e"/>
<rect x="147.75" y="268.21" width="7.40" height="46.79" fill="#0f4c87"/>
<line x1="151.45" y1="266.20" x2="151.45" y2="268.51" stroke="#111" stroke-width="1"/>
<line x1="149.65" y1="266.20" x2="153.25" y2="266.20" stroke="#111" stroke-width="1"/>
<text x="151.45" y="266.00" font-size="6.6" text-anchor="middle" fill="#222" font-weight="bold" textLength="12.8" lengthAdjust="spacingAndGlyphs">****</text>
<text x="151.05" y="324.40" font-size="8.9" text-anchor="end" fill="#222" transform="rotate(-58 151.05 324.40)">KCNAB2</text>
<line x1="171.60" y1="315.00" x2="171.60" y2="318.00" stroke="#1a1a1a" stroke-width="1"/>
<rect x="163.00" y="304.18" width="7.40" height="10.82" fill="#c8102e"/>
<line x1="166.70" y1="303.78" x2="166.70" y2="304.48" stroke="#111" stroke-width="1"/>
<line x1="164.90" y1="303.78" x2="168.50" y2="303.78" stroke="#111" stroke-width="1"/>
<rect x="172.60" y="232.84" width="7.40" height="82.16" fill="#0f4c87"/>
<line x1="176.30" y1="220.81" x2="176.30" y2="233.14" stroke="#111" stroke-width="1"/>
<line x1="174.50" y1="220.81" x2="178.10" y2="220.81" stroke="#111" stroke-width="1"/>
<text x="176.30" y="221.30" font-size="6.6" text-anchor="middle" fill="#222" font-weight="bold" textLength="12.8" lengthAdjust="spacingAndGlyphs">****</text>
<text x="175.90" y="324.40" font-size="8.9" text-anchor="end" fill="#222" transform="rotate(-58 175.90 324.40)">MCM5</text>
<line x1="196.45" y1="315.00" x2="196.45" y2="318.00" stroke="#1a1a1a" stroke-width="1"/>
<rect x="187.85" y="304.98" width="7.40" height="10.02" fill="#c8102e"/>
<rect x="197.45" y="279.33" width="7.40" height="35.67" fill="#0f4c87"/>
<line x1="201.15" y1="277.22" x2="201.15" y2="279.63" stroke="#111" stroke-width="1"/>
<line x1="199.35" y1="277.22" x2="202.95" y2="277.22" stroke="#111" stroke-width="1"/>
<text x="201.15" y="276.70" font-size="6.6" text-anchor="middle" fill="#222" font-weight="bold" textLength="6.4" lengthAdjust="spacingAndGlyphs">**</text>
<text x="200.75" y="324.40" font-size="8.9" text-anchor="end" fill="#222" transform="rotate(-58 200.75 324.40)">MYO1F</text>
<rect x="198.10" y="200.80" width="11.80" height="10.10" fill="#c8102e"/>
<rect x="198.10" y="214.00" width="11.80" height="9.60" fill="#0f4c87"/>
<text x="214.90" y="207.90" font-size="7.7" fill="#222" textLength="12.8" lengthAdjust="spacingAndGlyphs">Ctrl</text>
<text x="214.90" y="221.20" font-size="7.7" fill="#222" textLength="41.7" lengthAdjust="spacingAndGlyphs">KDM5A KO</text>
<text x="22.30" y="265.00" font-size="8.1" text-anchor="middle" fill="#222" textLength="64" lengthAdjust="spacingAndGlyphs" transform="rotate(-90 22.30 265.00)" stroke="#222" stroke-width="0.12">Relative fold change</text>
<text x="35.90" y="264.30" font-size="8.1" text-anchor="middle" fill="#222" textLength="56.5" lengthAdjust="spacingAndGlyphs" transform="rotate(-90 35.90 264.30)" stroke="#222" stroke-width="0.12">normalized to Ctrl</text>
<text x="263.50" y="189.70" font-size="12" fill="#000" font-weight="bold">D</text>
<text x="286.20" y="201.20" font-size="9.7" fill="#222" textLength="116.8" lengthAdjust="spacingAndGlyphs">ChIP-qPCR for H3K4me2</text>
<line x1="305.40" y1="229.00" x2="305.40" y2="317.70" stroke="#1a1a1a" stroke-width="1.1"/>
<line x1="304.90" y1="317.20" x2="436.60" y2="317.20" stroke="#1a1a1a" stroke-width="1.1"/>
<line x1="302.60" y1="317.20" x2="305.40" y2="317.20" stroke="#1a1a1a" stroke-width="1"/>
<text x="298.30" y="320.00" font-size="8.4" text-anchor="end" fill="#222" textLength="4.9" lengthAdjust="spacingAndGlyphs">0</text>
<line x1="302.60" y1="295.27" x2="305.40" y2="295.27" stroke="#1a1a1a" stroke-width="1"/>
<text x="298.30" y="298.07" font-size="8.4" text-anchor="end" fill="#222" textLength="4.9" lengthAdjust="spacingAndGlyphs">5</text>
<line x1="302.60" y1="273.35" x2="305.40" y2="273.35" stroke="#1a1a1a" stroke-width="1"/>
<text x="298.30" y="276.15" font-size="8.4" text-anchor="end" fill="#222" textLength="9.8" lengthAdjust="spacingAndGlyphs">10</text>
<line x1="302.60" y1="251.43" x2="305.40" y2="251.43" stroke="#1a1a1a" stroke-width="1"/>
<text x="298.30" y="254.23" font-size="8.4" text-anchor="end" fill="#222" textLength="9.8" lengthAdjust="spacingAndGlyphs">15</text>
<line x1="302.60" y1="229.50" x2="305.40" y2="229.50" stroke="#1a1a1a" stroke-width="1"/>
<text x="298.30" y="232.30" font-size="8.4" text-anchor="end" fill="#222" textLength="9.8" lengthAdjust="spacingAndGlyphs">20</text>
<line x1="316.20" y1="317.20" x2="316.20" y2="320.20" stroke="#1a1a1a" stroke-width="1"/>
<rect x="308.20" y="304.26" width="6.70" height="12.94" fill="#c8102e"/>
<line x1="311.55" y1="302.29" x2="311.55" y2="304.56" stroke="#111" stroke-width="1"/>
<line x1="309.75" y1="302.29" x2="313.35" y2="302.29" stroke="#111" stroke-width="1"/>
<rect x="316.90" y="290.45" width="6.70" height="26.75" fill="#0f4c87"/>
<line x1="320.25" y1="288.92" x2="320.25" y2="290.75" stroke="#111" stroke-width="1"/>
<line x1="318.45" y1="288.92" x2="322.05" y2="288.92" stroke="#111" stroke-width="1"/>
<text x="320.25" y="288.40" font-size="6.6" text-anchor="middle" fill="#222" font-weight="bold" textLength="6.4" lengthAdjust="spacingAndGlyphs">**</text>
<text x="321.40" y="325.50" font-size="8.9" text-anchor="end" fill="#222" transform="rotate(-58 321.40 325.50)">ANKRD11</text>
<line x1="338.04" y1="317.20" x2="338.04" y2="320.20" stroke="#1a1a1a" stroke-width="1"/>
<rect x="330.04" y="275.54" width="6.70" height="41.66" fill="#c8102e"/>
<line x1="333.39" y1="272.47" x2="333.39" y2="275.84" stroke="#111" stroke-width="1"/>
<line x1="331.59" y1="272.47" x2="335.19" y2="272.47" stroke="#111" stroke-width="1"/>
<rect x="338.74" y="250.11" width="6.70" height="67.09" fill="#0f4c87"/>
<line x1="342.09" y1="243.53" x2="342.09" y2="250.41" stroke="#111" stroke-width="1"/>
<line x1="340.29" y1="243.53" x2="343.89" y2="243.53" stroke="#111" stroke-width="1"/>
<text x="342.09" y="243.00" font-size="6.6" text-anchor="middle" fill="#222" font-weight="bold" textLength="12.8" lengthAdjust="spacingAndGlyphs">****</text>
<text x="343.24" y="325.50" font-size="8.9" text-anchor="end" fill="#222" transform="rotate(-58 343.24 325.50)">DNM2</text>
<line x1="359.88" y1="317.20" x2="359.88" y2="320.20" stroke="#1a1a1a" stroke-width="1"/>
<rect x="351.88" y="295.71" width="6.70" height="21.49" fill="#c8102e"/>
<line x1="355.23" y1="293.52" x2="355.23" y2="296.01" stroke="#111" stroke-width="1"/>
<line x1="353.43" y1="293.52" x2="357.03" y2="293.52" stroke="#111" stroke-width="1"/>
<rect x="360.58" y="286.50" width="6.70" height="30.69" fill="#0f4c87"/>
<line x1="363.93" y1="284.31" x2="363.93" y2="286.81" stroke="#111" stroke-width="1"/>
<line x1="362.13" y1="284.31" x2="365.73" y2="284.31" stroke="#111" stroke-width="1"/>
<text x="365.08" y="325.50" font-size="8.9" text-anchor="end" fill="#222" transform="rotate(-58 365.08 325.50)">GNB2</text>
<line x1="381.72" y1="317.20" x2="381.72" y2="320.20" stroke="#1a1a1a" stroke-width="1"/>
<rect x="373.72" y="306.24" width="6.70" height="10.96" fill="#c8102e"/>
<line x1="377.07" y1="305.14" x2="377.07" y2="306.54" stroke="#111" stroke-width="1"/>
<line x1="375.27" y1="305.14" x2="378.87" y2="305.14" stroke="#111" stroke-width="1"/>
<rect x="382.42" y="300.98" width="6.70" height="16.22" fill="#0f4c87"/>
<line x1="385.77" y1="300.32" x2="385.77" y2="301.28" stroke="#111" stroke-width="1"/>
<line x1="383.97" y1="300.32" x2="387.57" y2="300.32" stroke="#111" stroke-width="1"/>
<text x="386.92" y="325.50" font-size="8.9" text-anchor="end" fill="#222" transform="rotate(-58 386.92 325.50)">KCNAB2</text>
<line x1="403.56" y1="317.20" x2="403.56" y2="320.20" stroke="#1a1a1a" stroke-width="1"/>
<rect x="395.56" y="314.57" width="6.70" height="2.63" fill="#c8102e"/>
<line x1="398.91" y1="314.31" x2="398.91" y2="314.87" stroke="#111" stroke-width="1"/>
<line x1="397.11" y1="314.31" x2="400.71" y2="314.31" stroke="#111" stroke-width="1"/>
<rect x="404.26" y="313.39" width="6.70" height="3.81" fill="#0f4c87"/>
<line x1="407.61" y1="313.03" x2="407.61" y2="313.69" stroke="#111" stroke-width="1"/>
<line x1="405.81" y1="313.03" x2="409.41" y2="313.03" stroke="#111" stroke-width="1"/>
<text x="408.76" y="325.50" font-size="8.9" text-anchor="end" fill="#222" transform="rotate(-58 408.76 325.50)">MCM5</text>
<line x1="425.40" y1="317.20" x2="425.40" y2="320.20" stroke="#1a1a1a" stroke-width="1"/>
<rect x="417.40" y="258.44" width="6.70" height="58.76" fill="#c8102e"/>
<line x1="420.75" y1="252.74" x2="420.75" y2="258.74" stroke="#111" stroke-width="1"/>
<line x1="418.95" y1="252.74" x2="422.55" y2="252.74" stroke="#111" stroke-width="1"/>
<rect x="426.10" y="238.27" width="6.70" height="78.93" fill="#0f4c87"/>
<line x1="429.45" y1="236.08" x2="429.45" y2="238.57" stroke="#111" stroke-width="1"/>
<line x1="427.65" y1="236.08" x2="431.25" y2="236.08" stroke="#111" stroke-width="1"/>
<text x="429.45" y="236.00" font-size="6.6" text-anchor="middle" fill="#222" font-weight="bold" textLength="9.600000000000001" lengthAdjust="spacingAndGlyphs">***</text>
<text x="430.60" y="325.50" font-size="8.9" text-anchor="end" fill="#222" transform="rotate(-58 430.60 325.50)">MYO1F</text>
<rect x="420.00" y="200.80" width="11.50" height="9.70" fill="#c8102e"/>
<rect x="420.00" y="213.80" width="11.50" height="10.00" fill="#0f4c87"/>
<text x="436.90" y="208.20" font-size="7.7" fill="#222" textLength="13.1" lengthAdjust="spacingAndGlyphs">Ctrl</text>
<text x="436.90" y="221.50" font-size="7.7" fill="#222" textLength="40.8" lengthAdjust="spacingAndGlyphs">KDM5A KO</text>
<text x="281.40" y="271.00" font-size="8.4" text-anchor="middle" fill="#222" textLength="107" lengthAdjust="spacingAndGlyphs" transform="rotate(-90 281.40 271.00)" stroke="#222" stroke-width="0.12">Relative enrichment to input (%)</text>
<text x="13.10" y="374.40" font-size="12" fill="#000" font-weight="bold">E</text>
<text x="30.80" y="386.90" font-size="9.7" fill="#222" textLength="96.5" lengthAdjust="spacingAndGlyphs">ChIP-seq density plot</text>
<text x="120.00" y="400.80" font-size="8.4" text-anchor="middle" fill="#222" textLength="92" lengthAdjust="spacingAndGlyphs">PML-RARα target genes</text>
<rect x="54.20" y="408.10" width="131.00" height="100.00" fill="none" stroke="#1a1a1a" stroke-width="1.1"/>
<line x1="50.40" y1="415.80" x2="54.20" y2="415.80" stroke="#1a1a1a" stroke-width="1"/>
<line x1="50.40" y1="431.18" x2="54.20" y2="431.18" stroke="#1a1a1a" stroke-width="1"/>
<line x1="50.40" y1="446.56" x2="54.20" y2="446.56" stroke="#1a1a1a" stroke-width="1"/>
<line x1="50.40" y1="461.94" x2="54.20" y2="461.94" stroke="#1a1a1a" stroke-width="1"/>
<line x1="50.40" y1="477.32" x2="54.20" y2="477.32" stroke="#1a1a1a" stroke-width="1"/>
<line x1="50.40" y1="492.70" x2="54.20" y2="492.70" stroke="#1a1a1a" stroke-width="1"/>
<line x1="50.40" y1="508.08" x2="54.20" y2="508.08" stroke="#1a1a1a" stroke-width="1"/>
<text x="46.90" y="418.50" font-size="7.6" text-anchor="end" fill="#222" textLength="11.5" lengthAdjust="spacingAndGlyphs">3.0</text>
<text x="46.90" y="449.20" font-size="7.6" text-anchor="end" fill="#222" textLength="11.5" lengthAdjust="spacingAndGlyphs">2.0</text>
<text x="46.90" y="480.00" font-size="7.6" text-anchor="end" fill="#222" textLength="11.5" lengthAdjust="spacingAndGlyphs">0.5</text>
<text x="46.90" y="510.80" font-size="7.6" text-anchor="end" fill="#222" textLength="11.5" lengthAdjust="spacingAndGlyphs">0.0</text>
<line x1="58.50" y1="508.10" x2="58.50" y2="511.60" stroke="#1a1a1a" stroke-width="1"/>
<line x1="82.90" y1="508.10" x2="82.90" y2="511.60" stroke="#1a1a1a" stroke-width="1"/>
<line x1="107.30" y1="508.10" x2="107.30" y2="511.60" stroke="#1a1a1a" stroke-width="1"/>
<line x1="131.70" y1="508.10" x2="131.70" y2="511.60" stroke="#1a1a1a" stroke-width="1"/>
<line x1="156.10" y1="508.10" x2="156.10" y2="511.60" stroke="#1a1a1a" stroke-width="1"/>
<line x1="180.50" y1="508.10" x2="180.50" y2="511.60" stroke="#1a1a1a" stroke-width="1"/>
<text x="59.20" y="521.50" font-size="7.8" text-anchor="middle" fill="#222" textLength="20.8" lengthAdjust="spacingAndGlyphs">−3 kb</text>
<text x="82.90" y="521.50" font-size="7.8" text-anchor="middle" fill="#222" textLength="14.6" lengthAdjust="spacingAndGlyphs">TSS</text>
<text x="107.30" y="521.50" font-size="7.8" text-anchor="middle" fill="#222" textLength="17.3" lengthAdjust="spacingAndGlyphs">33%</text>
<text x="131.70" y="521.50" font-size="7.8" text-anchor="middle" fill="#222" textLength="17.8" lengthAdjust="spacingAndGlyphs">66%</text>
<text x="156.10" y="521.50" font-size="7.8" text-anchor="middle" fill="#222" textLength="16" lengthAdjust="spacingAndGlyphs">TES</text>
<text x="180.00" y="521.50" font-size="7.8" text-anchor="middle" fill="#222" textLength="15.4" lengthAdjust="spacingAndGlyphs">3 kb</text>
<text x="86.00" y="535.60" font-size="9.2" fill="#222" textLength="48.0" lengthAdjust="spacingAndGlyphs" stroke="#222" stroke-width="0.12">Genebodies (5′</text>
<text x="156.30" y="535.60" font-size="9.2" text-anchor="end" fill="#222" textLength="8.3" lengthAdjust="spacingAndGlyphs" stroke="#222" stroke-width="0.12">3′)</text>
<line x1="136.60" y1="532.00" x2="146.80" y2="532.00" stroke="#222" stroke-width="0.8"/>
<path d="M143.9 530.3 L147.2 532.0 L143.9 533.7" fill="none" stroke="#222" stroke-width="0.8"/>
<text x="28.00" y="457.50" font-size="8.2" text-anchor="middle" fill="#222" textLength="120.3" lengthAdjust="spacingAndGlyphs" transform="rotate(-90 28.00 457.50)" stroke="#222" stroke-width="0.12">Read count per million mapped reads</text>
<path d="M58.8 504.3 L59.5 504.3 L60.2 504.0 L60.9 503.5 L61.6 504.0 L62.3 503.7 L63.0 503.4 L63.7 503.5 L64.4 503.3 L65.1 503.2 L65.8 503.0 L66.5 503.0 L67.2 502.5 L67.9 502.7 L68.6 502.8 L69.3 503.1 L70.0 503.1 L70.7 503.1 L71.4 503.0 L72.1 503.0 L72.8 503.0 L73.5 502.8 L74.2 503.1 L74.9 503.0 L75.6 501.6 L76.3 501.4 L77.0 501.3 L77.7 500.8 L78.4 500.5 L79.1 500.0 L79.8 499.7 L80.5 497.4 L81.2 496.1 L81.9 495.2 L82.6 493.3 L83.3 492.4 L84.0 494.4 L84.7 496.4 L85.4 499.1 L86.1 500.5 L86.8 500.5 L87.5 500.9 L88.2 501.3 L88.9 501.3 L89.6 501.8 L90.3 502.1 L91.0 502.4 L91.7 502.5 L92.4 502.9 L93.1 503.0 L93.8 502.9 L94.5 502.7 L95.2 503.1 L95.9 502.8 L96.6 503.2 L97.3 502.8 L98.0 503.3 L98.7 503.1 L99.4 502.9 L100.1 503.2 L100.8 503.3 L101.5 503.4 L102.2 503.1 L102.9 503.1 L103.6 503.5 L104.3 503.4 L105.0 503.6 L105.7 503.8 L106.4 503.2 L107.1 503.8 L107.8 504.0 L108.5 503.7 L109.2 503.6 L109.9 504.0 L110.6 503.9 L111.3 504.1 L112.0 503.8 L112.7 503.5 L113.4 503.9 L114.1 503.8 L114.8 504.1 L115.5 504.0 L116.2 503.5 L116.9 503.6 L117.6 504.2 L118.3 504.1 L119.0 503.8 L119.7 504.0 L120.4 504.1 L121.1 504.1 L121.8 504.2 L122.5 504.1 L123.2 504.0 L123.9 504.0 L124.6 504.3 L125.3 503.5 L126.0 504.1 L126.7 504.1 L127.4 503.8 L128.1 504.2 L128.8 504.0 L129.5 504.4 L130.2 504.1 L130.9 504.3 L131.6 504.5 L132.3 504.3 L133.0 504.0 L133.7 503.8 L134.4 504.6 L135.1 504.2 L135.8 504.0 L136.5 504.2 L137.2 504.2 L137.9 504.4 L138.6 504.2 L139.3 504.2 L140.0 504.0 L140.7 504.3 L141.4 503.9 L142.1 504.4 L142.8 504.6 L143.5 503.8 L144.2 503.6 L144.9 504.4 L145.6 504.8 L146.3 503.9 L147.0 503.9 L147.7 504.3 L148.4 504.0 L149.1 504.1 L149.8 504.1 L150.5 504.3 L151.2 504.1 L151.9 504.2 L152.6 504.1 L153.3 503.9 L154.0 504.0 L154.7 503.8 L155.4 504.0 L156.1 503.7 L156.8 503.4 L157.5 503.8 L158.2 503.2 L158.9 503.3 L159.6 503.5 L160.3 503.4 L161.0 503.5 L161.7 503.7 L162.4 503.8 L163.1 503.5 L163.8 504.1 L164.5 503.8 L165.2 503.7 L165.9 503.7 L166.6 503.8 L167.3 504.2 L168.0 503.5 L168.7 503.8 L169.4 503.2 L170.1 503.6 L170.8 503.8 L171.5 503.5 L172.2 503.3 L172.9 503.3 L173.6 503.1 L174.3 502.9 L175.0 503.0 L175.7 502.8 L176.4 502.9 L177.1 503.3 L177.8 503.5 L178.5 503.9 L179.2 504.1 L179.9 504.4" fill="none" stroke="#37a845" stroke-width="1.5" stroke-linejoin="round"/>
<path d="M58.8 495.1 L59.5 494.7 L60.2 494.6 L60.9 493.6 L61.6 495.4 L62.3 495.0 L63.0 494.2 L63.7 494.6 L64.4 494.2 L65.1 493.6 L65.8 494.0 L66.5 493.2 L67.2 492.9 L67.9 492.4 L68.6 492.7 L69.3 491.6 L70.0 490.9 L70.7 489.4 L71.4 488.8 L72.1 486.9 L72.8 485.3 L73.5 482.6 L74.2 480.2 L74.9 477.8 L75.6 474.1 L76.3 471.7 L77.0 469.0 L77.7 464.1 L78.4 461.7 L79.1 460.0 L79.8 459.2 L80.5 457.5 L81.2 459.0 L81.9 460.0 L82.6 459.2 L83.3 454.7 L84.0 450.0 L84.7 453.8 L85.4 459.3 L86.1 464.9 L86.8 469.0 L87.5 473.4 L88.2 475.7 L88.9 477.3 L89.6 479.3 L90.3 481.7 L91.0 482.9 L91.7 484.4 L92.4 483.3 L93.1 485.1 L93.8 485.4 L94.5 484.7 L95.2 485.8 L95.9 486.7 L96.6 486.6 L97.3 487.5 L98.0 488.6 L98.7 488.1 L99.4 488.3 L100.1 488.5 L100.8 489.6 L101.5 489.6 L102.2 489.7 L102.9 489.9 L103.6 490.4 L104.3 489.8 L105.0 489.7 L105.7 489.5 L106.4 491.2 L107.1 490.9 L107.8 491.7 L108.5 491.1 L109.2 491.1 L109.9 492.1 L110.6 492.3 L111.3 492.2 L112.0 492.8 L112.7 494.5 L113.4 494.3 L114.1 494.2 L114.8 493.7 L115.5 493.2 L116.2 493.7 L116.9 493.0 L117.6 492.5 L118.3 492.7 L119.0 492.7 L119.7 493.6 L120.4 494.4 L121.1 493.8 L121.8 495.2 L122.5 494.6 L123.2 495.4 L123.9 495.3 L124.6 495.8 L125.3 496.0 L126.0 496.0 L126.7 496.0 L127.4 496.1 L128.1 496.2 L128.8 496.0 L129.5 496.7 L130.2 497.1 L130.9 497.5 L131.6 497.5 L132.3 498.5 L133.0 497.7 L133.7 497.6 L134.4 498.8 L135.1 497.7 L135.8 498.8 L136.5 498.1 L137.2 498.9 L137.9 498.0 L138.6 499.5 L139.3 499.2 L140.0 499.1 L140.7 500.3 L141.4 499.9 L142.1 499.7 L142.8 499.4 L143.5 499.7 L144.2 499.7 L144.9 500.2 L145.6 500.3 L146.3 499.6 L147.0 499.8 L147.7 499.6 L148.4 499.2 L149.1 499.4 L149.8 499.5 L150.5 499.7 L151.2 499.9 L151.9 498.8 L152.6 499.3 L153.3 498.7 L154.0 499.7 L154.7 498.7 L155.4 498.8 L156.1 497.7 L156.8 496.7 L157.5 496.2 L158.2 495.0 L158.9 494.3 L159.6 493.2 L160.3 494.1 L161.0 493.3 L161.7 494.4 L162.4 493.4 L163.1 494.0 L163.8 492.6 L164.5 493.2 L165.2 492.4 L165.9 492.4 L166.6 492.4 L167.3 492.1 L168.0 492.1 L168.7 492.6 L169.4 492.9 L170.1 492.8 L170.8 492.5 L171.5 493.0 L172.2 493.6 L172.9 493.0 L173.6 494.4 L174.3 494.1 L175.0 494.2 L175.7 494.8 L176.4 494.8 L177.1 494.7 L177.8 494.2 L178.5 494.9 L179.2 495.0 L179.9 494.6" fill="none" stroke="#f58a1f" stroke-width="1.5" stroke-linejoin="round"/>
<path d="M58.8 492.2 L59.5 489.3 L60.2 490.3 L60.9 489.2 L61.6 488.7 L62.3 488.2 L63.0 486.7 L63.7 486.9 L64.4 485.9 L65.1 487.3 L65.8 485.0 L66.5 484.0 L67.2 483.9 L67.9 483.5 L68.6 483.2 L69.3 483.4 L70.0 482.7 L70.7 480.4 L71.4 479.1 L72.1 476.4 L72.8 473.7 L73.5 471.7 L74.2 468.4 L74.9 465.1 L75.6 460.9 L76.3 456.6 L77.0 452.6 L77.7 443.7 L78.4 433.6 L79.1 425.0 L79.8 415.7 L80.5 415.1 L81.2 415.9 L81.9 420.9 L82.6 422.6 L83.3 417.2 L84.0 411.2 L84.7 418.2 L85.4 422.3 L86.1 429.8 L86.8 439.2 L87.5 446.4 L88.2 449.6 L88.9 453.0 L89.6 457.3 L90.3 459.2 L91.0 461.8 L91.7 463.3 L92.4 464.6 L93.1 466.4 L93.8 467.1 L94.5 468.2 L95.2 470.1 L95.9 470.8 L96.6 471.1 L97.3 471.5 L98.0 472.7 L98.7 472.1 L99.4 474.3 L100.1 474.8 L100.8 474.3 L101.5 475.6 L102.2 475.6 L102.9 477.0 L103.6 476.2 L104.3 477.2 L105.0 478.6 L105.7 479.3 L106.4 478.0 L107.1 479.2 L107.8 480.0 L108.5 479.9 L109.2 481.3 L109.9 480.3 L110.6 481.4 L111.3 481.1 L112.0 482.6 L112.7 482.3 L113.4 482.5 L114.1 481.9 L114.8 483.7 L115.5 483.3 L116.2 483.4 L116.9 483.7 L117.6 483.4 L118.3 483.0 L119.0 483.0 L119.7 483.2 L120.4 484.8 L121.1 484.0 L121.8 485.0 L122.5 485.7 L123.2 486.6 L123.9 487.3 L124.6 487.0 L125.3 487.3 L126.0 488.7 L126.7 489.9 L127.4 490.3 L128.1 490.5 L128.8 490.8 L129.5 491.7 L130.2 492.0 L130.9 493.1 L131.6 492.9 L132.3 493.7 L133.0 493.7 L133.7 494.2 L134.4 494.2 L135.1 495.6 L135.8 495.2 L136.5 495.4 L137.2 493.8 L137.9 494.8 L138.6 494.9 L139.3 495.6 L140.0 494.4 L140.7 496.1 L141.4 496.0 L142.1 494.8 L142.8 495.0 L143.5 495.1 L144.2 495.5 L144.9 495.8 L145.6 496.5 L146.3 495.4 L147.0 495.9 L147.7 495.6 L148.4 496.4 L149.1 495.9 L149.8 496.2 L150.5 494.9 L151.2 495.2 L151.9 494.8 L152.6 495.8 L153.3 495.3 L154.0 494.7 L154.7 494.5 L155.4 494.8 L156.1 493.4 L156.8 491.6 L157.5 490.6 L158.2 490.0 L158.9 487.7 L159.6 487.4 L160.3 486.8 L161.0 486.5 L161.7 487.2 L162.4 487.1 L163.1 486.5 L163.8 486.8 L164.5 486.7 L165.2 486.8 L165.9 486.1 L166.6 486.7 L167.3 486.9 L168.0 486.2 L168.7 486.1 L169.4 485.6 L170.1 485.6 L170.8 485.9 L171.5 485.0 L172.2 485.1 L172.9 486.2 L173.6 486.7 L174.3 487.9 L175.0 486.6 L175.7 488.7 L176.4 488.1 L177.1 488.0 L177.8 488.0 L178.5 487.8 L179.2 487.4 L179.9 486.6" fill="none" stroke="#0e4a85" stroke-width="1.6" stroke-linejoin="round"/>
<line x1="83.50" y1="408.60" x2="83.50" y2="508.10" stroke="#1a1a1a" stroke-width="1"/>
<rect x="124.90" y="408.10" width="60.30" height="34.00" fill="#fff" stroke="#1a1a1a" stroke-width="1.1"/>
<line x1="156.20" y1="442.10" x2="156.20" y2="508.10" stroke="#1a1a1a" stroke-width="1"/>
<text x="128.00" y="418.00" font-size="7.5" fill="#3aaa3a" textLength="27.7" lengthAdjust="spacingAndGlyphs">KDM5A</text>
<text x="128.00" y="427.70" font-size="7.5" fill="#f08a2a" textLength="52" lengthAdjust="spacingAndGlyphs">H3K4me2_Ctrl</text>
<text x="128.00" y="437.40" font-size="7.5" fill="#1d4f8a" textLength="50.8" lengthAdjust="spacingAndGlyphs">H3K4me2_KO</text>
<text x="263.10" y="374.40" font-size="12" fill="#000" font-weight="bold">F</text>
<text x="287.40" y="386.90" font-size="9.7" fill="#222" textLength="83.5" lengthAdjust="spacingAndGlyphs">ChIP-seq heatmap</text>
<text x="330.60" y="412.30" font-size="7.8" text-anchor="middle" fill="#222" textLength="28.8" lengthAdjust="spacingAndGlyphs">KDM5A</text>
<text x="404.60" y="416.90" font-size="7.8" text-anchor="middle" fill="#222" textLength="13.2" lengthAdjust="spacingAndGlyphs">Ctrl</text>
<text x="476.30" y="416.90" font-size="7.8" text-anchor="middle" fill="#222" textLength="44.2" lengthAdjust="spacingAndGlyphs">KDM5A KO</text>
<text x="438.70" y="400.80" font-size="7.8" text-anchor="middle" fill="#222" textLength="38.2" lengthAdjust="spacingAndGlyphs">H3K4me2</text>
<line x1="374.50" y1="406.20" x2="503.00" y2="406.20" stroke="#1a1a1a" stroke-width="1.1"/>
<text x="279.20" y="447.90" font-size="8.2" text-anchor="middle" fill="#222" textLength="119.3" lengthAdjust="spacingAndGlyphs" transform="rotate(-90 279.20 447.90)" stroke="#222" stroke-width="0.12">KDM5A bound PML-RARα target genes</text>
<defs><filter id="hm11" x="298.5" y="421.5" width="63.0" height="25.0" filterUnits="userSpaceOnUse" color-interpolation-filters="sRGB"><feTurbulence type="fractalNoise" baseFrequency="0.3 1.3" numOctaves="3" seed="11"/><feColorMatrix type="matrix" values="0 0 0 0 0.9  0 0 0 0 0.06  0 0 0 0 0.1  1 0 0 0 0"/><feComponentTransfer><feFuncA type="gamma" amplitude="0.68" exponent="3" offset="0"/></feComponentTransfer></filter><linearGradient id="ghm11" x1="0" y1="0" x2="0" y2="1"><stop offset="0" stop-color="#e50d18" stop-opacity="1.00"/><stop offset="0.3" stop-color="#e50d18" stop-opacity="0.60"/><stop offset="1" stop-color="#e50d18" stop-opacity="0.40"/></linearGradient><filter id="thm11" x="298.5" y="421.5" width="63.0" height="25.0" filterUnits="userSpaceOnUse"><feTurbulence type="fractalNoise" baseFrequency="0.7 0.9" numOctaves="2" seed="16" result="n"/><feColorMatrix in="n" type="matrix" result="m" values="0 0 0 0 0  0 0 0 0 0  0 0 0 0 0  2.5 0 0 0 -0.55"/><feComposite in="SourceGraphic" in2="m" operator="in"/></filter></defs>
<rect x="298.50" y="421.50" width="63.00" height="25.00" fill="#f2ecec"/>
<rect x="298.5" y="421.5" width="63.0" height="25.0" fill="#fff" filter="url(#hm11)"/>
<defs><linearGradient id="fhm11" x1="0" y1="0" x2="1" y2="0"><stop offset="0" stop-color="#fff" stop-opacity="0.00"/><stop offset="0.16" stop-color="#fff" stop-opacity="0"/><stop offset="0.3" stop-color="#fff" stop-opacity="0"/><stop offset="0.6" stop-color="#fff" stop-opacity="0.20"/><stop offset="1" stop-color="#fff" stop-opacity="0.20"/></linearGradient></defs>
<rect x="298.5" y="421.5" width="63.0" height="25.0" fill="url(#fhm11)"/>
<rect x="309.5" y="421.5" width="3.4" height="25.0" fill="url(#ghm11)" filter="url(#thm11)"/>
<rect x="312.6" y="421.5" width="3.5" height="25.0" fill="url(#ghm11)" filter="url(#thm11)" opacity="0.35"/>
<rect x="310.1" y="422.0" width="2.2" height="5.5" fill="#e50d18" opacity="0.75"/>
<rect x="298.50" y="421.50" width="63.00" height="25.00" fill="none" stroke="#111" stroke-width="1.3"/>
<line x1="298.50" y1="446.50" x2="298.50" y2="450.10" stroke="#1a1a1a" stroke-width="1"/>
<line x1="311.10" y1="446.50" x2="311.10" y2="450.10" stroke="#1a1a1a" stroke-width="1"/>
<line x1="323.70" y1="446.50" x2="323.70" y2="450.10" stroke="#1a1a1a" stroke-width="1"/>
<line x1="336.30" y1="446.50" x2="336.30" y2="450.10" stroke="#1a1a1a" stroke-width="1"/>
<line x1="348.90" y1="446.50" x2="348.90" y2="450.10" stroke="#1a1a1a" stroke-width="1"/>
<line x1="361.50" y1="446.50" x2="361.50" y2="450.10" stroke="#1a1a1a" stroke-width="1"/>
<defs><filter id="hm12" x="372.5" y="421.5" width="63.0" height="24.0" filterUnits="userSpaceOnUse" color-interpolation-filters="sRGB"><feTurbulence type="fractalNoise" baseFrequency="0.3 1.3" numOctaves="3" seed="12"/><feColorMatrix type="matrix" values="0 0 0 0 0.9  0 0 0 0 0.06  0 0 0 0 0.1  1 0 0 0 0"/><feComponentTransfer><feFuncA type="gamma" amplitude="0.55" exponent="3" offset="0"/></feComponentTransfer></filter><linearGradient id="ghm12" x1="0" y1="0" x2="0" y2="1"><stop offset="0" stop-color="#e50d18" stop-opacity="0.60"/><stop offset="0.3" stop-color="#e50d18" stop-opacity="0.36"/><stop offset="1" stop-color="#e50d18" stop-opacity="0.24"/></linearGradient><filter id="thm12" x="372.5" y="421.5" width="63.0" height="24.0" filterUnits="userSpaceOnUse"><feTurbulence type="fractalNoise" baseFrequency="0.7 0.9" numOctaves="2" seed="17" result="n"/><feColorMatrix in="n" type="matrix" result="m" values="0 0 0 0 0  0 0 0 0 0  0 0 0 0 0  2.5 0 0 0 -0.55"/><feComposite in="SourceGraphic" in2="m" operator="in"/></filter></defs>
<rect x="372.50" y="421.50" width="63.00" height="24.00" fill="#fff"/>
<rect x="372.5" y="421.5" width="63.0" height="24.0" fill="#fff" filter="url(#hm12)"/>
<defs><linearGradient id="fhm12" x1="0" y1="0" x2="1" y2="0"><stop offset="0" stop-color="#fff" stop-opacity="0.10"/><stop offset="0.16" stop-color="#fff" stop-opacity="0"/><stop offset="0.3" stop-color="#fff" stop-opacity="0"/><stop offset="0.6" stop-color="#fff" stop-opacity="0.60"/><stop offset="1" stop-color="#fff" stop-opacity="0.60"/></linearGradient></defs>
<rect x="372.5" y="421.5" width="63.0" height="24.0" fill="url(#fhm12)"/>
<rect x="383.5" y="421.5" width="3.4" height="24.0" fill="url(#ghm12)" filter="url(#thm12)"/>
<rect x="386.6" y="421.5" width="3.5" height="24.0" fill="url(#ghm12)" filter="url(#thm12)" opacity="0.35"/>
<rect x="384.1" y="422.0" width="2.2" height="5.3" fill="#e50d18" opacity="0.45"/>
<rect x="372.50" y="421.50" width="63.00" height="24.00" fill="none" stroke="#111" stroke-width="1.3"/>
<line x1="372.50" y1="445.50" x2="372.50" y2="449.10" stroke="#1a1a1a" stroke-width="1"/>
<line x1="385.10" y1="445.50" x2="385.10" y2="449.10" stroke="#1a1a1a" stroke-width="1"/>
<line x1="397.70" y1="445.50" x2="397.70" y2="449.10" stroke="#1a1a1a" stroke-width="1"/>
<line x1="410.30" y1="445.50" x2="410.30" y2="449.10" stroke="#1a1a1a" stroke-width="1"/>
<line x1="422.90" y1="445.50" x2="422.90" y2="449.10" stroke="#1a1a1a" stroke-width="1"/>
<line x1="435.50" y1="445.50" x2="435.50" y2="449.10" stroke="#1a1a1a" stroke-width="1"/>
<defs><filter id="hm13" x="444.5" y="421.5" width="63.0" height="24.0" filterUnits="userSpaceOnUse" color-interpolation-filters="sRGB"><feTurbulence type="fractalNoise" baseFrequency="0.3 1.3" numOctaves="3" seed="13"/><feColorMatrix type="matrix" values="0 0 0 0 0.9  0 0 0 0 0.06  0 0 0 0 0.1  1 0 0 0 0"/><feComponentTransfer><feFuncA type="gamma" amplitude="0.62" exponent="3" offset="0"/></feComponentTransfer></filter><linearGradient id="ghm13" x1="0" y1="0" x2="0" y2="1"><stop offset="0" stop-color="#e50d18" stop-opacity="0.80"/><stop offset="0.3" stop-color="#e50d18" stop-opacity="0.48"/><stop offset="1" stop-color="#e50d18" stop-opacity="0.32"/></linearGradient><filter id="thm13" x="444.5" y="421.5" width="63.0" height="24.0" filterUnits="userSpaceOnUse"><feTurbulence type="fractalNoise" baseFrequency="0.7 0.9" numOctaves="2" seed="18" result="n"/><feColorMatrix in="n" type="matrix" result="m" values="0 0 0 0 0  0 0 0 0 0  0 0 0 0 0  2.5 0 0 0 -0.55"/><feComposite in="SourceGraphic" in2="m" operator="in"/></filter></defs>
<rect x="444.50" y="421.50" width="63.00" height="24.00" fill="#fff"/>
<rect x="444.5" y="421.5" width="63.0" height="24.0" fill="#fff" filter="url(#hm13)"/>
<defs><linearGradient id="fhm13" x1="0" y1="0" x2="1" y2="0"><stop offset="0" stop-color="#fff" stop-opacity="0.10"/><stop offset="0.16" stop-color="#fff" stop-opacity="0"/><stop offset="0.3" stop-color="#fff" stop-opacity="0"/><stop offset="0.6" stop-color="#fff" stop-opacity="0.55"/><stop offset="1" stop-color="#fff" stop-opacity="0.55"/></linearGradient></defs>
<rect x="444.5" y="421.5" width="63.0" height="24.0" fill="url(#fhm13)"/>
<rect x="455.5" y="421.5" width="3.4" height="24.0" fill="url(#ghm13)" filter="url(#thm13)"/>
<rect x="458.6" y="421.5" width="3.5" height="24.0" fill="url(#ghm13)" filter="url(#thm13)" opacity="0.35"/>
<rect x="456.1" y="422.0" width="2.2" height="5.3" fill="#e50d18" opacity="0.60"/>
<rect x="444.50" y="421.50" width="63.00" height="24.00" fill="none" stroke="#111" stroke-width="1.3"/>
<line x1="444.50" y1="445.50" x2="444.50" y2="449.10" stroke="#1a1a1a" stroke-width="1"/>
<line x1="457.10" y1="445.50" x2="457.10" y2="449.10" stroke="#1a1a1a" stroke-width="1"/>
<line x1="469.70" y1="445.50" x2="469.70" y2="449.10" stroke="#1a1a1a" stroke-width="1"/>
<line x1="482.30" y1="445.50" x2="482.30" y2="449.10" stroke="#1a1a1a" stroke-width="1"/>
<line x1="494.90" y1="445.50" x2="494.90" y2="449.10" stroke="#1a1a1a" stroke-width="1"/>
<line x1="507.50" y1="445.50" x2="507.50" y2="449.10" stroke="#1a1a1a" stroke-width="1"/>
<path d="M298.9 464.8 V467.3 H359.8 V464.8 M298.9 467.3 L301.3 477.4 H435.9 L359.8 467.3" fill="none" stroke="#1a1a1a" stroke-width="1.1"/>
<line x1="301.30" y1="477.40" x2="301.30" y2="481.00" stroke="#1a1a1a" stroke-width="1"/>
<line x1="328.22" y1="477.40" x2="328.22" y2="481.00" stroke="#1a1a1a" stroke-width="1"/>
<line x1="355.14" y1="477.40" x2="355.14" y2="481.00" stroke="#1a1a1a" stroke-width="1"/>
<line x1="382.06" y1="477.40" x2="382.06" y2="481.00" stroke="#1a1a1a" stroke-width="1"/>
<line x1="408.98" y1="477.40" x2="408.98" y2="481.00" stroke="#1a1a1a" stroke-width="1"/>
<line x1="435.90" y1="477.40" x2="435.90" y2="481.00" stroke="#1a1a1a" stroke-width="1"/>
<text x="301.30" y="491.40" font-size="8.4" text-anchor="middle" fill="#222" textLength="25.9" lengthAdjust="spacingAndGlyphs">−10 kb</text>
<text x="328.22" y="491.40" font-size="8.4" text-anchor="middle" fill="#222" textLength="15.6" lengthAdjust="spacingAndGlyphs">TSS</text>
<text x="355.14" y="491.40" font-size="8.4" text-anchor="middle" fill="#222" textLength="18.3" lengthAdjust="spacingAndGlyphs">33%</text>
<text x="382.06" y="491.40" font-size="8.4" text-anchor="middle" fill="#222" textLength="18" lengthAdjust="spacingAndGlyphs">66%</text>
<text x="408.98" y="491.40" font-size="8.4" text-anchor="middle" fill="#222" textLength="14.9" lengthAdjust="spacingAndGlyphs">TES</text>
<text x="435.90" y="491.40" font-size="8.4" text-anchor="middle" fill="#222" textLength="21.4" lengthAdjust="spacingAndGlyphs">10 kb</text>
<text x="13.10" y="561.90" font-size="12" fill="#000" font-weight="bold">G</text>
<text x="30.40" y="572.30" font-size="9.7" fill="#222" textLength="106" lengthAdjust="spacingAndGlyphs">ChIP-seq and RNA-seq</text>
<text x="206.60" y="577.50" font-size="9.2" text-anchor="middle" fill="#222" font-style="italic" textLength="31.5" lengthAdjust="spacingAndGlyphs">RAVER1</text>
<rect x="178.30" y="578.80" width="58.60" height="2.00" fill="#111"/>
<text x="441.80" y="576.30" font-size="9.2" text-anchor="middle" fill="#222" font-style="italic" textLength="29" lengthAdjust="spacingAndGlyphs">ACSF3</text>
<rect x="387.10" y="578.20" width="110.80" height="2.00" fill="#111"/>
<line x1="68.50" y1="583.00" x2="68.50" y2="765.00" stroke="#e6e6e6" stroke-width="0.5"/>
<line x1="343.50" y1="583.00" x2="343.50" y2="765.00" stroke="#e6e6e6" stroke-width="0.5"/>
<text x="61.00" y="586.50" font-size="2.8" fill="#8c8c8c">Scale</text>
<text x="60.50" y="590.50" font-size="2.8" fill="#8c8c8c">chr19:</text>
<text x="335.00" y="585.30" font-size="2.8" fill="#8c8c8c">Scale</text>
<text x="334.50" y="589.30" font-size="2.8" fill="#8c8c8c">chr19:</text>
<line x1="166.50" y1="585.70" x2="241.50" y2="585.70" stroke="#aaa" stroke-width="0.4"/>
<text x="163.80" y="586.80" font-size="2.8" fill="#8c8c8c">2 kb</text>
<text x="243.50" y="586.80" font-size="2.8" fill="#8c8c8c">hg19</text>
<line x1="403.00" y1="584.60" x2="466.00" y2="584.60" stroke="#aaa" stroke-width="0.4"/>
<text x="399.00" y="585.70" font-size="2.8" fill="#8c8c8c">1 kb</text>
<text x="467.50" y="585.70" font-size="2.8" fill="#8c8c8c">hg19</text>
<text x="81.30" y="591.50" font-size="3.2" fill="#8c8c8c">|</text>
<text x="85.50" y="591.60" font-size="3.1" fill="#a0a0a0" textLength="14.0" lengthAdjust="spacingAndGlyphs">11,450,000|</text>
<text x="102.80" y="591.60" font-size="3.1" fill="#a0a0a0" textLength="14.0" lengthAdjust="spacingAndGlyphs">11,450,000|</text>
<text x="120.10" y="591.60" font-size="3.1" fill="#a0a0a0" textLength="14.0" lengthAdjust="spacingAndGlyphs">11,450,000|</text>
<text x="137.40" y="591.60" font-size="3.1" fill="#a0a0a0" textLength="14.0" lengthAdjust="spacingAndGlyphs">11,450,000|</text>
<text x="154.70" y="591.60" font-size="3.1" fill="#a0a0a0" textLength="14.0" lengthAdjust="spacingAndGlyphs">11,450,000|</text>
<text x="172.00" y="591.60" font-size="3.1" fill="#a0a0a0" textLength="14.0" lengthAdjust="spacingAndGlyphs">11,450,000|</text>
<text x="189.30" y="591.60" font-size="3.1" fill="#a0a0a0" textLength="14.0" lengthAdjust="spacingAndGlyphs">11,450,000|</text>
<text x="206.60" y="591.60" font-size="3.1" fill="#a0a0a0" textLength="14.0" lengthAdjust="spacingAndGlyphs">11,450,000|</text>
<text x="223.90" y="591.60" font-size="3.1" fill="#a0a0a0" textLength="14.0" lengthAdjust="spacingAndGlyphs">11,450,000|</text>
<text x="241.20" y="591.60" font-size="3.1" fill="#a0a0a0" textLength="14.0" lengthAdjust="spacingAndGlyphs">11,450,000|</text>
<text x="258.50" y="591.60" font-size="3.1" fill="#a0a0a0" textLength="14.0" lengthAdjust="spacingAndGlyphs">11,450,000|</text>
<text x="275.80" y="591.60" font-size="3.1" fill="#a0a0a0" textLength="14.0" lengthAdjust="spacingAndGlyphs">11,450,000|</text>
<text x="293.10" y="591.60" font-size="3.1" fill="#a0a0a0" textLength="14.0" lengthAdjust="spacingAndGlyphs">11,450,000|</text>
<text x="310.40" y="591.60" font-size="3.1" fill="#a0a0a0" textLength="14.0" lengthAdjust="spacingAndGlyphs">11,450,000|</text>
<text x="351.50" y="590.30" font-size="3.2" fill="#8c8c8c">[</text>
<text x="354.50" y="590.40" font-size="3.1" fill="#a0a0a0" textLength="13.8" lengthAdjust="spacingAndGlyphs">11,190,000|</text>
<text x="372.30" y="590.40" font-size="3.1" fill="#a0a0a0" textLength="13.8" lengthAdjust="spacingAndGlyphs">11,190,000|</text>
<text x="390.10" y="590.40" font-size="3.1" fill="#a0a0a0" textLength="13.8" lengthAdjust="spacingAndGlyphs">11,190,000|</text>
<text x="407.90" y="590.40" font-size="3.1" fill="#a0a0a0" textLength="13.8" lengthAdjust="spacingAndGlyphs">11,190,000|</text>
<text x="425.70" y="590.40" font-size="3.1" fill="#a0a0a0" textLength="13.8" lengthAdjust="spacingAndGlyphs">11,190,000|</text>
<text x="443.50" y="590.40" font-size="3.1" fill="#a0a0a0" textLength="13.8" lengthAdjust="spacingAndGlyphs">11,190,000|</text>
<text x="461.30" y="590.40" font-size="3.1" fill="#a0a0a0" textLength="13.8" lengthAdjust="spacingAndGlyphs">11,190,000|</text>
<text x="479.10" y="590.40" font-size="3.1" fill="#a0a0a0" textLength="13.8" lengthAdjust="spacingAndGlyphs">11,190,000|</text>
<text x="496.90" y="590.40" font-size="3.1" fill="#a0a0a0" textLength="13.8" lengthAdjust="spacingAndGlyphs">11,190,000|</text>
<text x="65.60" y="606.10" font-size="10.0" text-anchor="end" fill="#8c7a1c" font-weight="bold" textLength="25.8" lengthAdjust="spacingAndGlyphs" stroke="#8c7a1c" stroke-width="0.1">KDM5A</text>
<text x="65.60" y="622.70" font-size="10.0" text-anchor="end" fill="#5a9ea8" font-weight="bold" textLength="32.0" lengthAdjust="spacingAndGlyphs" stroke="#5a9ea8" stroke-width="0.1">H3K4me1</text>
<text x="65.60" y="637.30" font-size="10.0" text-anchor="end" fill="#78c832" font-weight="bold" textLength="52.0" lengthAdjust="spacingAndGlyphs" stroke="#78c832" stroke-width="0.1">H3K4me2_Ctrl</text>
<text x="65.60" y="652.70" font-size="10.0" text-anchor="end" fill="#4a8c26" font-weight="bold" textLength="49.7" lengthAdjust="spacingAndGlyphs" stroke="#4a8c26" stroke-width="0.1">H3K4me2_KO</text>
<text x="65.60" y="668.50" font-size="10.0" text-anchor="end" fill="#3a8c66" font-weight="bold" textLength="51.7" lengthAdjust="spacingAndGlyphs" stroke="#3a8c66" stroke-width="0.1">H3K4me3_Ctrl</text>
<text x="65.60" y="683.50" font-size="10.0" text-anchor="end" fill="#2a6a26" font-weight="bold" textLength="49.7" lengthAdjust="spacingAndGlyphs" stroke="#2a6a26" stroke-width="0.1">H3K4me3_KO</text>
<text x="65.60" y="696.60" font-size="10.0" text-anchor="end" fill="#70e0bc" font-weight="bold" textLength="17.8" lengthAdjust="spacingAndGlyphs" stroke="#70e0bc" stroke-width="0.1">input</text>
<text x="66.20" y="740.40" font-size="8.4" text-anchor="end" fill="#2b64a0" textLength="36.5" lengthAdjust="spacingAndGlyphs" stroke="#2b64a0" stroke-width="0.3">RNA-seq_Ctrl</text>
<text x="66.20" y="754.70" font-size="8.4" text-anchor="end" fill="#cc1a3a" textLength="35.0" lengthAdjust="spacingAndGlyphs" stroke="#cc1a3a" stroke-width="0.3">RNA-seq_KO</text>
<text x="66.50" y="602.00" font-size="2.6" text-anchor="end" fill="#bbb">-</text>
<text x="341.50" y="601.00" font-size="2.6" text-anchor="end" fill="#bbb">-</text>
<text x="66.50" y="618.00" font-size="2.6" text-anchor="end" fill="#bbb">-</text>
<text x="341.50" y="617.00" font-size="2.6" text-anchor="end" fill="#bbb">-</text>
<text x="66.50" y="633.50" font-size="2.6" text-anchor="end" fill="#bbb">-</text>
<text x="341.50" y="632.50" font-size="2.6" text-anchor="end" fill="#bbb">-</text>
<text x="66.50" y="649.00" font-size="2.6" text-anchor="end" fill="#bbb">-</text>
<text x="341.50" y="648.00" font-size="2.6" text-anchor="end" fill="#bbb">-</text>
<text x="66.50" y="664.50" font-size="2.6" text-anchor="end" fill="#bbb">-</text>
<text x="341.50" y="663.50" font-size="2.6" text-anchor="end" fill="#bbb">-</text>
<text x="66.50" y="680.00" font-size="2.6" text-anchor="end" fill="#bbb">-</text>
<text x="341.50" y="679.00" font-size="2.6" text-anchor="end" fill="#bbb">-</text>
<text x="66.50" y="695.50" font-size="2.6" text-anchor="end" fill="#bbb">-</text>
<text x="341.50" y="694.50" font-size="2.6" text-anchor="end" fill="#bbb">-</text>
<text x="66.50" y="733.00" font-size="2.6" text-anchor="end" fill="#bbb">-</text>
<text x="341.50" y="732.00" font-size="2.6" text-anchor="end" fill="#bbb">-</text>
<text x="66.50" y="748.00" font-size="2.6" text-anchor="end" fill="#bbb">-</text>
<text x="341.50" y="747.00" font-size="2.6" text-anchor="end" fill="#bbb">-</text>
<line x1="68.80" y1="607.50" x2="332.30" y2="607.50" stroke="#9a9a9a" stroke-width="0.7"/>
<path d="M68.8 607.2L68.8 606.7L69.3 606.6L69.8 604.0L70.3 606.1L70.8 606.1L71.3 605.8L71.8 606.5L72.3 605.7L72.8 605.0L73.3 604.9L73.8 604.2L74.3 604.8L74.8 604.8L75.3 605.7L75.8 606.3L76.3 606.6L76.8 606.2L77.3 606.5L77.8 606.4L78.3 605.4L78.8 606.1L79.3 606.3L79.8 605.3L80.3 605.7L80.8 606.1L81.3 606.5L81.8 606.0L82.3 606.6L82.8 602.5L83.3 606.6L83.8 605.5L84.3 605.7L84.8 606.5L85.3 605.8L85.8 606.7L86.3 606.0L86.8 606.1L87.3 606.7L87.8 606.1L88.3 604.8L88.8 606.3L89.3 606.4L89.8 606.4L90.3 606.7L90.8 606.4L91.3 606.7L91.8 606.2L92.3 606.0L92.8 606.3L93.3 605.6L93.8 606.7L94.3 606.5L94.8 606.6L95.3 606.7L95.8 606.4L96.3 606.3L96.8 605.7L97.3 606.3L97.8 606.6L98.3 606.7L98.8 606.6L99.3 606.4L99.8 606.1L100.3 606.7L100.8 606.3L101.3 606.5L101.8 605.4L102.3 603.9L102.8 606.6L103.3 606.3L103.8 606.2L104.3 606.7L104.8 606.7L105.3 606.7L105.8 606.7L106.3 606.3L106.8 606.4L107.3 606.4L107.8 606.4L108.3 605.6L108.8 606.4L109.3 606.1L109.8 606.7L110.3 605.5L110.8 606.6L111.3 606.0L111.8 606.5L112.3 606.6L112.8 606.4L113.3 606.3L113.8 606.7L114.3 606.6L114.8 606.6L115.3 606.4L115.8 605.9L116.3 606.5L116.8 606.1L117.3 605.7L117.8 606.4L118.3 606.6L118.8 604.9L119.3 606.7L119.8 606.4L120.3 606.2L120.8 606.6L121.3 606.0L121.8 606.6L122.3 606.6L122.8 606.3L123.3 604.8L123.8 606.7L124.3 606.5L124.8 606.6L125.3 606.5L125.8 606.6L126.3 606.5L126.8 606.2L127.3 605.3L127.8 606.4L128.3 605.5L128.8 606.3L129.3 606.5L129.8 606.7L130.3 606.5L130.8 606.4L131.3 606.3L131.8 606.1L132.3 606.3L132.8 606.7L133.3 605.7L133.8 606.0L134.3 604.5L134.8 606.0L135.3 606.1L135.8 606.4L136.3 606.2L136.8 606.6L137.3 605.7L137.8 606.6L138.3 606.7L138.8 606.1L139.3 606.7L139.8 606.5L140.3 606.1L140.8 605.8L141.3 606.6L141.8 605.5L142.3 606.7L142.8 606.3L143.3 606.1L143.8 606.2L144.3 605.4L144.8 606.2L145.3 606.5L145.8 606.6L146.3 605.7L146.8 606.5L147.3 605.9L147.8 605.5L148.3 606.6L148.8 606.4L149.3 606.1L149.8 606.3L150.3 605.8L150.8 606.3L151.3 605.7L151.8 606.5L152.3 606.3L152.8 606.5L153.3 606.3L153.8 606.5L154.3 605.7L154.8 606.7L155.3 606.5L155.8 606.2L156.3 606.3L156.8 605.9L157.3 606.5L157.8 606.5L158.3 605.8L158.8 606.7L159.3 606.5L159.8 606.3L160.3 606.3L160.8 606.4L161.3 605.7L161.8 606.3L162.3 605.4L162.8 606.7L163.3 606.6L163.8 606.2L164.3 604.9L164.8 606.6L165.3 606.6L165.8 606.6L166.3 606.1L166.8 606.2L167.3 606.0L167.8 606.2L168.3 605.4L168.8 606.3L169.3 606.5L169.8 606.1L170.3 606.5L170.8 606.6L171.3 605.7L171.8 606.4L172.3 606.4L172.8 606.7L173.3 606.5L173.8 604.8L174.3 601.8L174.8 599.4L175.3 600.4L175.8 602.7L176.3 605.2L176.8 606.5L177.3 606.7L177.8 606.6L178.3 605.7L178.8 606.1L179.3 606.6L179.8 606.6L180.3 606.7L180.8 606.1L181.3 605.9L181.8 606.7L182.3 606.7L182.8 606.2L183.3 606.7L183.8 606.5L184.3 606.3L184.8 606.7L185.3 606.7L185.8 606.6L186.3 606.2L186.8 606.7L187.3 606.0L187.8 606.5L188.3 606.1L188.8 606.5L189.3 606.6L189.8 605.5L190.3 606.7L190.8 606.5L191.3 606.7L191.8 606.2L192.3 606.7L192.8 606.5L193.3 606.3L193.8 606.7L194.3 606.6L194.8 606.7L195.3 606.4L195.8 606.7L196.3 606.3L196.8 606.7L197.3 606.5L197.8 606.4L198.3 606.6L198.8 606.4L199.3 604.6L199.8 606.0L200.3 605.8L200.8 606.5L201.3 606.5L201.8 606.5L202.3 606.6L202.8 606.6L203.3 605.4L203.8 605.9L204.3 606.6L204.8 606.7L205.3 606.4L205.8 606.6L206.3 605.5L206.8 606.4L207.3 606.6L207.8 606.2L208.3 606.4L208.8 606.1L209.3 606.1L209.8 606.4L210.3 606.5L210.8 606.7L211.3 606.7L211.8 606.0L212.3 606.5L212.8 605.6L213.3 606.5L213.8 605.4L214.3 606.7L214.8 606.6L215.3 606.5L215.8 606.0L216.3 606.7L216.8 605.9L217.3 605.9L217.8 606.1L218.3 605.7L218.8 606.6L219.3 605.8L219.8 606.6L220.3 606.1L220.8 605.7L221.3 606.1L221.8 606.3L222.3 606.6L222.8 606.5L223.3 605.2L223.8 606.6L224.3 606.6L224.8 606.6L225.3 606.6L225.8 606.6L226.3 605.5L226.8 606.7L227.3 606.5L227.8 606.7L228.3 606.0L228.8 606.6L229.3 606.6L229.8 606.6L230.3 606.5L230.8 606.0L231.3 604.6L231.8 604.6L232.3 603.8L232.8 602.2L233.3 602.2L233.8 601.3L234.3 602.7L234.8 603.2L235.3 601.1L235.8 600.5L236.3 598.6L236.8 595.9L237.3 598.3L237.8 597.2L238.3 599.4L238.8 602.1L239.3 603.8L239.8 602.2L240.3 601.8L240.8 601.6L241.3 602.1L241.8 603.6L242.3 605.2L242.8 606.3L243.3 606.7L243.8 606.7L244.3 606.0L244.8 606.6L245.3 606.3L245.8 606.6L246.3 606.6L246.8 605.7L247.3 606.5L247.8 605.2L248.3 606.7L248.8 606.3L249.3 606.4L249.8 606.5L250.3 606.7L250.8 606.0L251.3 606.6L251.8 606.7L252.3 606.2L252.8 606.7L253.3 606.7L253.8 605.5L254.3 605.9L254.8 605.9L255.3 606.4L255.8 605.5L256.3 606.3L256.8 606.4L257.3 605.9L257.8 605.3L258.3 605.3L258.8 606.1L259.3 606.6L259.8 606.5L260.3 606.4L260.8 605.9L261.3 605.8L261.8 606.4L262.3 606.7L262.8 606.6L263.3 606.3L263.8 606.7L264.3 606.6L264.8 606.7L265.3 606.7L265.8 605.8L266.3 606.7L266.8 606.4L267.3 606.7L267.8 605.8L268.3 605.4L268.8 606.2L269.3 606.1L269.8 604.2L270.3 606.4L270.8 606.6L271.3 606.7L271.8 606.7L272.3 606.2L272.8 605.7L273.3 606.7L273.8 605.8L274.3 606.3L274.8 606.4L275.3 605.3L275.8 606.4L276.3 606.0L276.8 606.5L277.3 605.0L277.8 606.5L278.3 606.7L278.8 606.6L279.3 606.4L279.8 606.4L280.3 605.8L280.8 606.7L281.3 606.4L281.8 605.9L282.3 606.7L282.8 606.3L283.3 605.7L283.8 605.4L284.3 605.6L284.8 605.7L285.3 606.4L285.8 605.1L286.3 606.4L286.8 606.2L287.3 606.7L287.8 606.6L288.3 606.7L288.8 606.4L289.3 605.4L289.8 606.6L290.3 605.6L290.8 606.5L291.3 606.1L291.8 605.8L292.3 605.0L292.8 606.7L293.3 606.5L293.8 605.3L294.3 606.4L294.8 606.5L295.3 606.4L295.8 606.3L296.3 606.0L296.8 606.7L297.3 606.3L297.8 606.0L298.3 606.7L298.8 605.8L299.3 606.7L299.8 606.1L300.3 606.5L300.8 606.3L301.3 605.5L301.8 605.8L302.3 606.6L302.8 606.3L303.3 605.4L303.8 605.2L304.3 606.7L304.8 606.5L305.3 606.7L305.8 606.2L306.3 605.7L306.8 606.7L307.3 606.7L307.8 606.7L308.3 606.4L308.8 606.3L309.3 606.7L309.8 606.4L310.3 606.1L310.8 606.3L311.3 605.6L311.8 605.9L312.3 605.8L312.8 606.2L313.3 606.7L313.8 606.7L314.3 606.7L314.8 606.1L315.3 606.6L315.8 606.3L316.3 606.6L316.8 606.2L317.3 606.7L317.8 606.6L318.3 606.6L318.8 606.4L319.3 606.6L319.8 606.7L320.3 606.1L320.8 606.4L321.3 605.1L321.8 606.7L322.3 605.5L322.8 606.2L323.3 606.5L323.8 606.1L324.3 606.7L324.8 606.4L325.3 606.6L325.8 606.0L326.3 606.5L326.8 606.0L327.3 606.5L327.8 606.1L328.3 606.4L328.8 606.1L329.3 605.3L329.8 606.7L330.3 606.1L330.8 603.6L331.3 606.3L331.8 606.0L332.3 606.4L332.3 607.2Z" fill="#857518" opacity="1.0"/>
<line x1="68.80" y1="623.30" x2="332.30" y2="623.30" stroke="#9a9a9a" stroke-width="0.7"/>
<path d="M68.8 623.0L68.8 623.0L69.3 622.9L69.8 622.1L70.3 620.7L70.8 620.0L71.3 616.3L71.8 618.2L72.3 621.0L72.8 618.6L73.3 618.2L73.8 618.9L74.3 622.0L74.8 620.5L75.3 620.8L75.8 621.2L76.3 622.0L76.8 622.9L77.3 622.0L77.8 623.0L78.3 622.9L78.8 623.0L79.3 623.0L79.8 622.4L80.3 622.5L80.8 623.0L81.3 622.6L81.8 622.7L82.3 623.0L82.8 623.0L83.3 622.8L83.8 622.9L84.3 623.0L84.8 622.5L85.3 623.0L85.8 623.0L86.3 623.0L86.8 623.0L87.3 623.0L87.8 621.8L88.3 623.0L88.8 622.6L89.3 623.0L89.8 623.0L90.3 622.3L90.8 622.8L91.3 623.0L91.8 623.0L92.3 622.9L92.8 622.9L93.3 623.0L93.8 622.7L94.3 623.0L94.8 623.0L95.3 623.0L95.8 622.9L96.3 623.0L96.8 623.0L97.3 622.5L97.8 622.9L98.3 622.8L98.8 622.9L99.3 623.0L99.8 622.7L100.3 623.0L100.8 623.0L101.3 623.0L101.8 622.9L102.3 622.8L102.8 622.7L103.3 622.5L103.8 622.4L104.3 622.4L104.8 621.2L105.3 622.6L105.8 622.8L106.3 622.7L106.8 623.0L107.3 623.0L107.8 623.0L108.3 623.0L108.8 623.0L109.3 623.0L109.8 623.0L110.3 623.0L110.8 623.0L111.3 623.0L111.8 623.0L112.3 623.0L112.8 623.0L113.3 623.0L113.8 622.0L114.3 622.8L114.8 623.0L115.3 623.0L115.8 622.6L116.3 622.9L116.8 622.7L117.3 622.9L117.8 622.8L118.3 622.2L118.8 621.5L119.3 620.7L119.8 619.7L120.3 621.0L120.8 622.1L121.3 622.4L121.8 622.9L122.3 623.0L122.8 623.0L123.3 621.1L123.8 623.0L124.3 623.0L124.8 622.5L125.3 623.0L125.8 623.0L126.3 622.5L126.8 622.0L127.3 623.0L127.8 622.5L128.3 622.9L128.8 622.9L129.3 623.0L129.8 622.5L130.3 622.9L130.8 622.9L131.3 622.7L131.8 623.0L132.3 622.5L132.8 622.6L133.3 622.6L133.8 623.0L134.3 622.9L134.8 622.3L135.3 622.8L135.8 622.3L136.3 622.1L136.8 621.4L137.3 620.4L137.8 620.4L138.3 619.8L138.8 619.5L139.3 617.6L139.8 615.1L140.3 617.8L140.8 621.3L141.3 622.6L141.8 622.8L142.3 622.5L142.8 622.8L143.3 622.4L143.8 623.0L144.3 623.0L144.8 622.4L145.3 622.6L145.8 622.6L146.3 622.9L146.8 622.3L147.3 622.2L147.8 623.0L148.3 622.7L148.8 622.8L149.3 623.0L149.8 623.0L150.3 622.7L150.8 621.8L151.3 623.0L151.8 622.9L152.3 623.0L152.8 622.0L153.3 623.0L153.8 622.9L154.3 622.7L154.8 623.0L155.3 622.9L155.8 622.5L156.3 622.9L156.8 622.6L157.3 621.7L157.8 622.5L158.3 622.6L158.8 622.8L159.3 623.0L159.8 623.0L160.3 623.0L160.8 623.0L161.3 622.8L161.8 622.5L162.3 623.0L162.8 623.0L163.3 623.0L163.8 622.8L164.3 622.8L164.8 623.0L165.3 623.0L165.8 623.0L166.3 623.0L166.8 623.0L167.3 622.0L167.8 623.0L168.3 623.0L168.8 622.4L169.3 622.9L169.8 623.0L170.3 622.8L170.8 623.0L171.3 622.9L171.8 623.0L172.3 622.9L172.8 622.3L173.3 622.3L173.8 621.4L174.3 620.0L174.8 620.0L175.3 619.8L175.8 620.6L176.3 621.9L176.8 622.1L177.3 622.6L177.8 622.8L178.3 623.0L178.8 623.0L179.3 622.8L179.8 623.0L180.3 622.9L180.8 623.0L181.3 622.7L181.8 623.0L182.3 623.0L182.8 623.0L183.3 622.9L183.8 623.0L184.3 622.9L184.8 622.9L185.3 622.2L185.8 622.8L186.3 623.0L186.8 622.3L187.3 622.5L187.8 621.9L188.3 622.4L188.8 622.7L189.3 623.0L189.8 622.8L190.3 622.7L190.8 623.0L191.3 622.9L191.8 623.0L192.3 623.0L192.8 623.0L193.3 623.0L193.8 623.0L194.3 623.0L194.8 622.9L195.3 623.0L195.8 622.9L196.3 622.3L196.8 623.0L197.3 623.0L197.8 623.0L198.3 622.6L198.8 623.0L199.3 623.0L199.8 622.9L200.3 623.0L200.8 623.0L201.3 622.7L201.8 622.9L202.3 622.9L202.8 623.0L203.3 623.0L203.8 622.6L204.3 623.0L204.8 623.0L205.3 623.0L205.8 623.0L206.3 622.9L206.8 623.0L207.3 623.0L207.8 622.9L208.3 622.7L208.8 622.7L209.3 622.5L209.8 622.9L210.3 623.0L210.8 622.7L211.3 623.0L211.8 623.0L212.3 623.0L212.8 623.0L213.3 622.9L213.8 622.8L214.3 622.8L214.8 622.9L215.3 622.9L215.8 622.8L216.3 623.0L216.8 621.9L217.3 622.9L217.8 622.9L218.3 623.0L218.8 623.0L219.3 623.0L219.8 622.7L220.3 623.0L220.8 622.9L221.3 622.9L221.8 622.4L222.3 622.9L222.8 623.0L223.3 622.9L223.8 622.7L224.3 622.7L224.8 623.0L225.3 622.8L225.8 622.7L226.3 623.0L226.8 623.0L227.3 622.1L227.8 621.9L228.3 623.0L228.8 623.0L229.3 622.9L229.8 623.0L230.3 622.9L230.8 622.6L231.3 621.2L231.8 621.3L232.3 619.7L232.8 620.7L233.3 621.4L233.8 622.4L234.3 622.9L234.8 622.1L235.3 623.0L235.8 623.0L236.3 622.8L236.8 623.0L237.3 622.8L237.8 622.3L238.3 621.6L238.8 619.3L239.3 619.1L239.8 620.5L240.3 621.2L240.8 621.9L241.3 622.8L241.8 622.8L242.3 623.0L242.8 623.0L243.3 622.9L243.8 622.8L244.3 622.7L244.8 622.2L245.3 623.0L245.8 622.9L246.3 623.0L246.8 623.0L247.3 622.9L247.8 622.4L248.3 623.0L248.8 622.5L249.3 623.0L249.8 623.0L250.3 622.2L250.8 623.0L251.3 622.7L251.8 622.6L252.3 623.0L252.8 622.9L253.3 622.6L253.8 621.0L254.3 618.4L254.8 619.7L255.3 621.8L255.8 620.8L256.3 618.5L256.8 618.9L257.3 621.5L257.8 622.0L258.3 620.6L258.8 619.6L259.3 622.2L259.8 621.2L260.3 616.2L260.8 618.7L261.3 621.1L261.8 621.8L262.3 620.4L262.8 621.1L263.3 622.1L263.8 622.9L264.3 622.8L264.8 622.9L265.3 622.8L265.8 622.9L266.3 622.3L266.8 623.0L267.3 622.8L267.8 622.9L268.3 622.9L268.8 622.9L269.3 622.7L269.8 622.7L270.3 622.6L270.8 622.2L271.3 622.1L271.8 622.6L272.3 622.5L272.8 622.9L273.3 623.0L273.8 622.7L274.3 623.0L274.8 623.0L275.3 622.9L275.8 623.0L276.3 622.8L276.8 622.9L277.3 622.9L277.8 622.0L278.3 623.0L278.8 623.0L279.3 623.0L279.8 622.6L280.3 622.3L280.8 621.8L281.3 619.9L281.8 621.2L282.3 622.3L282.8 621.2L283.3 617.8L283.8 618.2L284.3 621.9L284.8 622.1L285.3 620.4L285.8 621.0L286.3 622.0L286.8 622.9L287.3 622.5L287.8 622.8L288.3 622.8L288.8 623.0L289.3 622.6L289.8 623.0L290.3 623.0L290.8 621.9L291.3 622.4L291.8 622.6L292.3 622.5L292.8 623.0L293.3 623.0L293.8 623.0L294.3 622.7L294.8 622.4L295.3 623.0L295.8 622.8L296.3 622.7L296.8 621.9L297.3 623.0L297.8 623.0L298.3 623.0L298.8 623.0L299.3 623.0L299.8 622.5L300.3 622.4L300.8 622.9L301.3 623.0L301.8 622.7L302.3 623.0L302.8 622.9L303.3 623.0L303.8 623.0L304.3 622.2L304.8 623.0L305.3 623.0L305.8 622.3L306.3 623.0L306.8 622.8L307.3 622.5L307.8 623.0L308.3 622.9L308.8 622.8L309.3 622.5L309.8 622.3L310.3 622.4L310.8 622.3L311.3 622.8L311.8 622.9L312.3 623.0L312.8 622.9L313.3 622.7L313.8 623.0L314.3 622.9L314.8 622.6L315.3 623.0L315.8 622.9L316.3 622.7L316.8 622.4L317.3 623.0L317.8 623.0L318.3 623.0L318.8 622.2L319.3 621.0L319.8 621.5L320.3 622.9L320.8 622.8L321.3 623.0L321.8 623.0L322.3 623.0L322.8 623.0L323.3 623.0L323.8 622.9L324.3 623.0L324.8 623.0L325.3 622.4L325.8 622.5L326.3 623.0L326.8 622.9L327.3 622.9L327.8 622.9L328.3 622.8L328.8 622.0L329.3 622.9L329.8 623.0L330.3 622.6L330.8 623.0L331.3 622.8L331.8 621.8L332.3 621.9L332.3 623.0Z" fill="#4e9aa2" opacity="1.0"/>
<line x1="68.80" y1="638.60" x2="332.30" y2="638.60" stroke="#9a9a9a" stroke-width="0.7"/>
<path d="M68.8 638.3L68.8 638.3L69.3 638.3L69.8 638.3L70.3 638.3L70.8 638.2L71.3 638.3L71.8 638.1L72.3 637.4L72.8 636.8L73.3 635.2L73.8 634.1L74.3 635.0L74.8 636.4L75.3 637.5L75.8 638.2L76.3 637.8L76.8 638.3L77.3 638.3L77.8 638.2L78.3 638.3L78.8 638.3L79.3 638.3L79.8 638.1L80.3 638.0L80.8 638.3L81.3 638.2L81.8 638.2L82.3 638.2L82.8 638.3L83.3 638.3L83.8 638.3L84.3 638.3L84.8 638.3L85.3 637.5L85.8 638.3L86.3 638.1L86.8 638.3L87.3 638.0L87.8 638.3L88.3 638.1L88.8 638.3L89.3 638.3L89.8 638.1L90.3 638.3L90.8 638.2L91.3 637.8L91.8 637.2L92.3 638.3L92.8 637.7L93.3 638.1L93.8 638.2L94.3 638.2L94.8 637.5L95.3 638.3L95.8 638.3L96.3 638.3L96.8 637.7L97.3 638.0L97.8 637.2L98.3 638.2L98.8 638.3L99.3 638.3L99.8 638.2L100.3 638.3L100.8 638.3L101.3 638.3L101.8 637.5L102.3 638.3L102.8 638.0L103.3 638.1L103.8 638.3L104.3 638.3L104.8 638.3L105.3 638.2L105.8 638.2L106.3 638.2L106.8 638.2L107.3 638.3L107.8 637.7L108.3 638.0L108.8 637.9L109.3 637.8L109.8 638.3L110.3 638.1L110.8 638.3L111.3 638.3L111.8 638.3L112.3 638.3L112.8 638.1L113.3 637.5L113.8 638.2L114.3 638.2L114.8 637.9L115.3 638.3L115.8 638.1L116.3 638.2L116.8 637.9L117.3 638.3L117.8 638.3L118.3 638.0L118.8 638.3L119.3 637.8L119.8 638.1L120.3 637.6L120.8 638.3L121.3 638.3L121.8 637.6L122.3 638.0L122.8 638.2L123.3 638.2L123.8 638.3L124.3 638.3L124.8 637.8L125.3 637.2L125.8 638.3L126.3 638.3L126.8 638.0L127.3 638.3L127.8 638.3L128.3 637.3L128.8 638.0L129.3 638.2L129.8 638.1L130.3 638.0L130.8 637.9L131.3 638.3L131.8 638.3L132.3 637.8L132.8 638.3L133.3 638.2L133.8 638.3L134.3 638.1L134.8 638.3L135.3 638.3L135.8 638.3L136.3 637.3L136.8 638.1L137.3 638.0L137.8 637.8L138.3 637.2L138.8 636.6L139.3 635.9L139.8 636.1L140.3 636.8L140.8 637.4L141.3 638.0L141.8 637.9L142.3 638.0L142.8 638.3L143.3 638.3L143.8 638.3L144.3 638.3L144.8 638.0L145.3 638.0L145.8 638.2L146.3 638.0L146.8 638.3L147.3 637.8L147.8 637.6L148.3 638.0L148.8 638.3L149.3 638.3L149.8 638.1L150.3 638.3L150.8 638.3L151.3 638.3L151.8 638.3L152.3 638.2L152.8 638.0L153.3 638.2L153.8 638.3L154.3 638.0L154.8 638.1L155.3 638.3L155.8 638.1L156.3 638.3L156.8 637.9L157.3 637.9L157.8 638.3L158.3 638.3L158.8 638.3L159.3 638.2L159.8 637.7L160.3 638.3L160.8 638.1L161.3 638.3L161.8 637.4L162.3 638.3L162.8 638.3L163.3 638.3L163.8 638.3L164.3 638.3L164.8 637.4L165.3 638.1L165.8 637.8L166.3 638.3L166.8 638.3L167.3 638.3L167.8 637.9L168.3 638.3L168.8 638.0L169.3 638.3L169.8 638.1L170.3 638.1L170.8 638.3L171.3 637.9L171.8 637.8L172.3 637.8L172.8 638.2L173.3 638.2L173.8 638.0L174.3 637.3L174.8 637.1L175.3 637.1L175.8 637.6L176.3 638.1L176.8 637.8L177.3 637.9L177.8 638.3L178.3 638.3L178.8 638.3L179.3 638.3L179.8 638.3L180.3 638.1L180.8 638.3L181.3 638.3L181.8 638.1L182.3 638.3L182.8 638.2L183.3 638.3L183.8 637.4L184.3 638.3L184.8 638.3L185.3 638.2L185.8 638.3L186.3 638.2L186.8 638.2L187.3 638.1L187.8 638.2L188.3 638.3L188.8 637.7L189.3 638.3L189.8 638.3L190.3 638.3L190.8 637.6L191.3 637.6L191.8 637.8L192.3 638.3L192.8 638.3L193.3 637.7L193.8 638.2L194.3 638.3L194.8 638.3L195.3 638.3L195.8 637.4L196.3 638.2L196.8 638.2L197.3 638.3L197.8 637.9L198.3 638.1L198.8 637.6L199.3 638.3L199.8 638.2L200.3 638.3L200.8 638.0L201.3 638.2L201.8 638.3L202.3 638.2L202.8 638.3L203.3 638.3L203.8 638.2L204.3 638.3L204.8 638.3L205.3 637.5L205.8 638.3L206.3 638.3L206.8 638.1L207.3 638.3L207.8 638.2L208.3 638.3L208.8 638.0L209.3 638.3L209.8 638.1L210.3 638.0L210.8 638.2L211.3 637.4L211.8 638.3L212.3 638.3L212.8 638.0L213.3 638.1L213.8 638.3L214.3 637.1L214.8 638.3L215.3 637.4L215.8 638.0L216.3 638.3L216.8 638.3L217.3 637.5L217.8 638.1L218.3 638.1L218.8 638.2L219.3 638.3L219.8 638.3L220.3 638.1L220.8 638.2L221.3 638.3L221.8 638.0L222.3 638.2L222.8 637.8L223.3 638.3L223.8 638.0L224.3 638.3L224.8 637.7L225.3 638.3L225.8 638.3L226.3 638.3L226.8 638.2L227.3 637.9L227.8 638.3L228.3 638.2L228.8 638.0L229.3 638.3L229.8 638.3L230.3 638.3L230.8 638.2L231.3 638.2L231.8 637.3L232.3 637.9L232.8 637.2L233.3 635.2L233.8 632.4L234.3 631.8L234.8 634.1L235.3 635.7L235.8 637.4L236.3 636.6L236.8 634.6L237.3 635.1L237.8 634.4L238.3 635.4L238.8 637.1L239.3 636.6L239.8 634.9L240.3 634.4L240.8 634.4L241.3 636.9L241.8 637.3L242.3 638.0L242.8 638.1L243.3 638.3L243.8 637.7L244.3 638.0L244.8 638.3L245.3 638.1L245.8 638.1L246.3 638.3L246.8 638.0L247.3 638.3L247.8 637.7L248.3 638.3L248.8 638.1L249.3 637.9L249.8 638.3L250.3 637.4L250.8 638.3L251.3 638.3L251.8 638.1L252.3 638.0L252.8 638.2L253.3 638.3L253.8 638.0L254.3 637.5L254.8 636.3L255.3 635.9L255.8 637.1L256.3 638.1L256.8 638.3L257.3 638.0L257.8 637.6L258.3 634.7L258.8 634.3L259.3 635.4L259.8 637.6L260.3 636.6L260.8 635.1L261.3 636.2L261.8 636.9L262.3 638.0L262.8 638.3L263.3 638.1L263.8 638.2L264.3 638.3L264.8 638.3L265.3 638.3L265.8 638.3L266.3 638.3L266.8 638.2L267.3 638.3L267.8 638.1L268.3 638.3L268.8 638.1L269.3 638.3L269.8 638.3L270.3 638.2L270.8 638.2L271.3 638.3L271.8 637.8L272.3 638.0L272.8 637.9L273.3 638.0L273.8 637.6L274.3 638.3L274.8 638.3L275.3 638.3L275.8 638.3L276.3 638.3L276.8 638.3L277.3 638.0L277.8 638.3L278.3 638.3L278.8 638.1L279.3 638.3L279.8 638.3L280.3 638.2L280.8 637.9L281.3 638.3L281.8 638.1L282.3 638.1L282.8 636.9L283.3 636.2L283.8 636.1L284.3 637.8L284.8 638.2L285.3 638.3L285.8 638.3L286.3 637.9L286.8 637.9L287.3 638.3L287.8 638.3L288.3 638.2L288.8 638.3L289.3 638.1L289.8 638.3L290.3 638.1L290.8 638.3L291.3 638.3L291.8 637.9L292.3 638.3L292.8 638.3L293.3 637.6L293.8 638.3L294.3 638.3L294.8 637.5L295.3 638.3L295.8 638.3L296.3 638.1L296.8 638.3L297.3 637.7L297.8 638.3L298.3 638.2L298.8 638.3L299.3 638.2L299.8 638.3L300.3 638.3L300.8 638.2L301.3 638.3L301.8 638.3L302.3 638.3L302.8 637.5L303.3 638.2L303.8 638.2L304.3 637.7L304.8 638.2L305.3 638.0L305.8 638.0L306.3 637.5L306.8 637.6L307.3 637.6L307.8 637.8L308.3 638.1L308.8 638.1L309.3 638.2L309.8 638.3L310.3 638.2L310.8 638.3L311.3 637.8L311.8 638.3L312.3 638.3L312.8 638.2L313.3 638.1L313.8 637.9L314.3 637.9L314.8 638.2L315.3 638.1L315.8 638.3L316.3 638.1L316.8 638.3L317.3 638.3L317.8 638.3L318.3 638.3L318.8 638.3L319.3 638.3L319.8 637.6L320.3 637.9L320.8 638.2L321.3 638.2L321.8 638.3L322.3 638.0L322.8 638.3L323.3 638.1L323.8 638.3L324.3 638.3L324.8 638.1L325.3 638.2L325.8 638.2L326.3 638.3L326.8 638.3L327.3 638.3L327.8 638.3L328.3 638.2L328.8 638.3L329.3 638.2L329.8 638.2L330.3 638.3L330.8 638.3L331.3 638.2L331.8 638.3L332.3 637.8L332.3 638.3Z" fill="#7cc63a" opacity="1.0"/>
<line x1="68.80" y1="654.30" x2="332.30" y2="654.30" stroke="#9a9a9a" stroke-width="0.7"/>
<path d="M68.8 654.0L68.8 654.0L69.3 653.9L69.8 653.0L70.3 654.0L70.8 653.7L71.3 653.8L71.8 653.8L72.3 652.9L72.8 650.6L73.3 648.1L73.8 649.3L74.3 648.6L74.8 650.7L75.3 653.2L75.8 653.7L76.3 653.7L76.8 653.6L77.3 653.9L77.8 654.0L78.3 654.0L78.8 652.8L79.3 654.0L79.8 654.0L80.3 654.0L80.8 653.3L81.3 653.9L81.8 654.0L82.3 654.0L82.8 653.9L83.3 653.9L83.8 654.0L84.3 654.0L84.8 654.0L85.3 654.0L85.8 654.0L86.3 653.7L86.8 653.4L87.3 654.0L87.8 654.0L88.3 653.8L88.8 654.0L89.3 654.0L89.8 654.0L90.3 653.9L90.8 654.0L91.3 653.6L91.8 654.0L92.3 653.8L92.8 654.0L93.3 654.0L93.8 652.9L94.3 653.9L94.8 653.8L95.3 653.8L95.8 654.0L96.3 653.8L96.8 654.0L97.3 653.8L97.8 653.6L98.3 653.7L98.8 653.6L99.3 654.0L99.8 654.0L100.3 653.3L100.8 654.0L101.3 654.0L101.8 652.8L102.3 653.7L102.8 653.9L103.3 654.0L103.8 654.0L104.3 654.0L104.8 654.0L105.3 654.0L105.8 653.9L106.3 653.7L106.8 653.9L107.3 654.0L107.8 654.0L108.3 654.0L108.8 653.9L109.3 653.2L109.8 654.0L110.3 653.7L110.8 653.8L111.3 653.6L111.8 654.0L112.3 653.9L112.8 654.0L113.3 653.7L113.8 654.0L114.3 654.0L114.8 654.0L115.3 654.0L115.8 654.0L116.3 654.0L116.8 654.0L117.3 653.7L117.8 653.9L118.3 653.8L118.8 653.5L119.3 653.0L119.8 653.1L120.3 653.0L120.8 653.2L121.3 653.5L121.8 653.8L122.3 653.9L122.8 654.0L123.3 654.0L123.8 653.1L124.3 652.3L124.8 653.2L125.3 654.0L125.8 654.0L126.3 654.0L126.8 653.8L127.3 652.9L127.8 654.0L128.3 653.7L128.8 653.6L129.3 653.7L129.8 654.0L130.3 653.6L130.8 653.9L131.3 653.8L131.8 653.5L132.3 653.9L132.8 653.7L133.3 654.0L133.8 653.8L134.3 654.0L134.8 653.3L135.3 654.0L135.8 653.7L136.3 653.8L136.8 652.8L137.3 653.9L137.8 653.7L138.3 653.2L138.8 651.6L139.3 650.1L139.8 650.5L140.3 652.6L140.8 652.9L141.3 653.7L141.8 653.9L142.3 654.0L142.8 653.2L143.3 653.9L143.8 653.8L144.3 654.0L144.8 653.9L145.3 653.6L145.8 653.3L146.3 654.0L146.8 652.9L147.3 653.8L147.8 654.0L148.3 653.9L148.8 653.9L149.3 653.6L149.8 654.0L150.3 654.0L150.8 653.9L151.3 653.8L151.8 653.4L152.3 653.1L152.8 653.9L153.3 654.0L153.8 654.0L154.3 654.0L154.8 653.9L155.3 654.0L155.8 654.0L156.3 653.8L156.8 654.0L157.3 653.9L157.8 654.0L158.3 653.9L158.8 654.0L159.3 653.3L159.8 654.0L160.3 654.0L160.8 654.0L161.3 653.6L161.8 654.0L162.3 653.9L162.8 653.7L163.3 654.0L163.8 653.9L164.3 653.6L164.8 654.0L165.3 653.7L165.8 653.7L166.3 653.9L166.8 654.0L167.3 654.0L167.8 653.5L168.3 653.8L168.8 653.6L169.3 653.3L169.8 654.0L170.3 654.0L170.8 654.0L171.3 654.0L171.8 653.8L172.3 653.6L172.8 652.1L173.3 650.9L173.8 649.5L174.3 648.5L174.8 650.9L175.3 653.1L175.8 653.6L176.3 653.7L176.8 654.0L177.3 653.9L177.8 653.9L178.3 654.0L178.8 654.0L179.3 652.6L179.8 654.0L180.3 653.8L180.8 653.6L181.3 653.7L181.8 654.0L182.3 652.8L182.8 654.0L183.3 653.7L183.8 654.0L184.3 652.8L184.8 654.0L185.3 654.0L185.8 653.9L186.3 654.0L186.8 654.0L187.3 653.9L187.8 654.0L188.3 654.0L188.8 653.8L189.3 653.0L189.8 654.0L190.3 654.0L190.8 653.8L191.3 654.0L191.8 653.3L192.3 654.0L192.8 654.0L193.3 653.9L193.8 654.0L194.3 654.0L194.8 654.0L195.3 654.0L195.8 653.8L196.3 654.0L196.8 654.0L197.3 653.3L197.8 653.8L198.3 654.0L198.8 653.5L199.3 654.0L199.8 653.4L200.3 652.9L200.8 654.0L201.3 653.4L201.8 654.0L202.3 653.7L202.8 654.0L203.3 654.0L203.8 654.0L204.3 654.0L204.8 654.0L205.3 654.0L205.8 654.0L206.3 654.0L206.8 653.9L207.3 654.0L207.8 654.0L208.3 653.6L208.8 653.6L209.3 654.0L209.8 653.8L210.3 654.0L210.8 654.0L211.3 653.8L211.8 653.6L212.3 654.0L212.8 653.5L213.3 654.0L213.8 653.9L214.3 653.9L214.8 653.9L215.3 653.7L215.8 653.8L216.3 653.5L216.8 654.0L217.3 653.7L217.8 654.0L218.3 654.0L218.8 654.0L219.3 653.8L219.8 652.9L220.3 653.9L220.8 653.6L221.3 653.9L221.8 653.9L222.3 654.0L222.8 653.8L223.3 653.9L223.8 653.9L224.3 653.6L224.8 654.0L225.3 654.0L225.8 654.0L226.3 654.0L226.8 653.9L227.3 653.5L227.8 654.0L228.3 653.3L228.8 654.0L229.3 653.9L229.8 653.9L230.3 653.9L230.8 654.0L231.3 654.0L231.8 653.7L232.3 653.5L232.8 651.6L233.3 650.0L233.8 646.9L234.3 650.7L234.8 652.5L235.3 653.2L235.8 650.9L236.3 650.6L236.8 650.1L237.3 652.5L237.8 653.6L238.3 652.8L238.8 649.4L239.3 648.4L239.8 650.5L240.3 652.2L240.8 653.1L241.3 649.9L241.8 645.4L242.3 646.2L242.8 650.5L243.3 653.3L243.8 653.9L244.3 653.8L244.8 654.0L245.3 654.0L245.8 653.5L246.3 654.0L246.8 653.4L247.3 654.0L247.8 654.0L248.3 654.0L248.8 653.9L249.3 653.9L249.8 653.8L250.3 653.8L250.8 654.0L251.3 654.0L251.8 654.0L252.3 654.0L252.8 653.9L253.3 653.9L253.8 653.6L254.3 652.7L254.8 650.9L255.3 652.1L255.8 652.6L256.3 652.3L256.8 652.1L257.3 648.5L257.8 650.3L258.3 648.2L258.8 641.2L259.3 648.4L259.8 651.9L260.3 649.7L260.8 649.7L261.3 652.6L261.8 653.9L262.3 653.9L262.8 654.0L263.3 653.7L263.8 654.0L264.3 654.0L264.8 654.0L265.3 653.8L265.8 653.8L266.3 653.1L266.8 653.8L267.3 654.0L267.8 653.8L268.3 654.0L268.8 654.0L269.3 652.8L269.8 654.0L270.3 654.0L270.8 654.0L271.3 653.6L271.8 653.8L272.3 654.0L272.8 654.0L273.3 653.5L273.8 654.0L274.3 654.0L274.8 654.0L275.3 653.3L275.8 654.0L276.3 653.9L276.8 653.9L277.3 653.9L277.8 654.0L278.3 654.0L278.8 653.8L279.3 653.9L279.8 653.9L280.3 654.0L280.8 654.0L281.3 654.0L281.8 653.9L282.3 653.7L282.8 652.5L283.3 651.2L283.8 652.5L284.3 653.4L284.8 653.4L285.3 654.0L285.8 654.0L286.3 654.0L286.8 654.0L287.3 653.9L287.8 653.2L288.3 654.0L288.8 653.9L289.3 653.5L289.8 654.0L290.3 653.9L290.8 653.8L291.3 654.0L291.8 653.9L292.3 654.0L292.8 653.7L293.3 653.8L293.8 654.0L294.3 653.9L294.8 654.0L295.3 653.4L295.8 653.8L296.3 653.8L296.8 653.5L297.3 653.8L297.8 653.6L298.3 654.0L298.8 654.0L299.3 653.8L299.8 653.9L300.3 653.9L300.8 653.5L301.3 652.7L301.8 653.1L302.3 652.9L302.8 652.1L303.3 652.6L303.8 653.1L304.3 653.3L304.8 653.1L305.3 652.6L305.8 651.6L306.3 652.5L306.8 652.9L307.3 653.7L307.8 653.5L308.3 653.0L308.8 652.8L309.3 653.0L309.8 653.1L310.3 653.7L310.8 653.8L311.3 653.9L311.8 654.0L312.3 654.0L312.8 653.7L313.3 654.0L313.8 654.0L314.3 654.0L314.8 653.9L315.3 654.0L315.8 654.0L316.3 654.0L316.8 654.0L317.3 654.0L317.8 653.9L318.3 653.9L318.8 654.0L319.3 653.6L319.8 654.0L320.3 653.9L320.8 654.0L321.3 653.4L321.8 653.7L322.3 654.0L322.8 654.0L323.3 653.6L323.8 653.9L324.3 654.0L324.8 653.9L325.3 653.5L325.8 654.0L326.3 653.8L326.8 653.7L327.3 654.0L327.8 654.0L328.3 654.0L328.8 653.4L329.3 654.0L329.8 654.0L330.3 653.2L330.8 654.0L331.3 653.7L331.8 654.0L332.3 653.9L332.3 654.0Z" fill="#3f8a1e" opacity="1.0"/>
<line x1="68.80" y1="670.00" x2="332.30" y2="670.00" stroke="#9a9a9a" stroke-width="0.7"/>
<path d="M68.8 669.7L68.8 669.7L69.3 669.6L69.8 669.6L70.3 669.7L70.8 669.7L71.3 669.7L71.8 669.7L72.3 669.7L72.8 669.6L73.3 668.9L73.8 668.4L74.3 668.8L74.8 669.6L75.3 669.7L75.8 669.7L76.3 669.5L76.8 669.7L77.3 669.7L77.8 669.7L78.3 669.7L78.8 669.5L79.3 669.7L79.8 669.7L80.3 669.7L80.8 669.7L81.3 669.6L81.8 669.6L82.3 669.7L82.8 669.6L83.3 669.7L83.8 669.7L84.3 669.7L84.8 669.7L85.3 669.6L85.8 669.6L86.3 669.7L86.8 669.7L87.3 669.6L87.8 669.7L88.3 669.7L88.8 669.7L89.3 669.7L89.8 669.5L90.3 669.7L90.8 669.7L91.3 669.7L91.8 669.7L92.3 669.6L92.8 669.6L93.3 669.6L93.8 669.7L94.3 669.7L94.8 669.7L95.3 669.7L95.8 669.7L96.3 669.6L96.8 669.6L97.3 669.7L97.8 669.7L98.3 669.7L98.8 669.7L99.3 669.7L99.8 669.5L100.3 669.6L100.8 669.5L101.3 669.7L101.8 669.6L102.3 669.5L102.8 669.7L103.3 669.5L103.8 669.7L104.3 669.6L104.8 669.7L105.3 669.4L105.8 669.7L106.3 669.7L106.8 669.7L107.3 669.7L107.8 669.7L108.3 669.6L108.8 669.7L109.3 669.6L109.8 669.7L110.3 669.6L110.8 669.7L111.3 669.6L111.8 669.7L112.3 669.4L112.8 669.6L113.3 669.6L113.8 669.6L114.3 669.7L114.8 669.7L115.3 669.6L115.8 669.7L116.3 669.7L116.8 669.4L117.3 669.7L117.8 669.6L118.3 669.6L118.8 669.7L119.3 669.7L119.8 669.7L120.3 669.6L120.8 669.6L121.3 669.5L121.8 669.7L122.3 669.7L122.8 669.7L123.3 669.7L123.8 669.3L124.3 669.7L124.8 669.6L125.3 669.7L125.8 669.7L126.3 669.6L126.8 669.7L127.3 669.6L127.8 669.7L128.3 669.6L128.8 669.6L129.3 669.6L129.8 669.7L130.3 669.7L130.8 669.7L131.3 669.7L131.8 669.7L132.3 669.7L132.8 669.7L133.3 669.7L133.8 669.6L134.3 669.7L134.8 669.6L135.3 669.7L135.8 669.7L136.3 669.7L136.8 669.6L137.3 669.7L137.8 669.7L138.3 669.7L138.8 669.7L139.3 669.6L139.8 669.6L140.3 669.7L140.8 669.7L141.3 669.6L141.8 669.6L142.3 669.7L142.8 669.6L143.3 669.6L143.8 669.7L144.3 669.7L144.8 669.7L145.3 669.7L145.8 669.7L146.3 669.7L146.8 669.6L147.3 669.6L147.8 669.5L148.3 669.6L148.8 669.6L149.3 669.7L149.8 669.6L150.3 669.6L150.8 669.7L151.3 669.7L151.8 669.6L152.3 669.7L152.8 669.5L153.3 669.5L153.8 669.4L154.3 669.6L154.8 669.6L155.3 669.7L155.8 669.7L156.3 669.7L156.8 669.7L157.3 669.7L157.8 669.7L158.3 669.7L158.8 669.7L159.3 669.7L159.8 669.7L160.3 669.5L160.8 669.6L161.3 669.6L161.8 669.7L162.3 669.7L162.8 669.7L163.3 669.7L163.8 669.7L164.3 669.7L164.8 669.7L165.3 669.7L165.8 669.6L166.3 669.7L166.8 669.6L167.3 669.7L167.8 669.7L168.3 669.7L168.8 669.7L169.3 669.7L169.8 669.6L170.3 669.7L170.8 669.6L171.3 669.7L171.8 669.7L172.3 669.5L172.8 669.4L173.3 669.1L173.8 667.6L174.3 664.7L174.8 665.0L175.3 666.8L175.8 668.9L176.3 669.6L176.8 669.7L177.3 669.7L177.8 669.6L178.3 669.7L178.8 669.6L179.3 669.7L179.8 669.5L180.3 669.6L180.8 669.6L181.3 669.6L181.8 669.6L182.3 669.7L182.8 669.7L183.3 669.7L183.8 669.7L184.3 669.7L184.8 669.7L185.3 669.7L185.8 669.7L186.3 669.7L186.8 669.7L187.3 669.7L187.8 669.7L188.3 669.7L188.8 669.7L189.3 669.6L189.8 669.7L190.3 669.7L190.8 669.6L191.3 669.6L191.8 669.7L192.3 669.5L192.8 669.6L193.3 669.7L193.8 669.4L194.3 669.7L194.8 669.7L195.3 669.7L195.8 669.6L196.3 669.5L196.8 669.6L197.3 669.7L197.8 669.7L198.3 669.6L198.8 669.7L199.3 669.7L199.8 669.6L200.3 669.7L200.8 669.7L201.3 669.7L201.8 669.7L202.3 669.5L202.8 669.7L203.3 669.6L203.8 669.7L204.3 669.6L204.8 669.5L205.3 669.7L205.8 669.6L206.3 669.7L206.8 669.7L207.3 669.6L207.8 669.7L208.3 669.5L208.8 669.7L209.3 669.7L209.8 669.6L210.3 669.7L210.8 669.7L211.3 669.7L211.8 669.7L212.3 669.5L212.8 669.6L213.3 669.5L213.8 669.7L214.3 669.7L214.8 669.7L215.3 669.7L215.8 669.7L216.3 669.7L216.8 669.7L217.3 669.7L217.8 669.7L218.3 669.6L218.8 669.6L219.3 669.6L219.8 669.7L220.3 669.7L220.8 669.7L221.3 669.7L221.8 669.7L222.3 669.7L222.8 669.6L223.3 669.7L223.8 669.6L224.3 669.5L224.8 669.7L225.3 669.7L225.8 669.7L226.3 669.6L226.8 669.6L227.3 669.7L227.8 669.7L228.3 669.6L228.8 669.7L229.3 669.6L229.8 669.7L230.3 669.7L230.8 669.5L231.3 669.7L231.8 669.7L232.3 669.7L232.8 669.5L233.3 668.9L233.8 666.4L234.3 665.8L234.8 664.6L235.3 664.0L235.8 658.6L236.3 662.1L236.8 661.2L237.3 667.6L237.8 666.0L238.3 664.3L238.8 661.8L239.3 665.0L239.8 666.9L240.3 666.8L240.8 665.9L241.3 668.1L241.8 668.4L242.3 669.4L242.8 669.7L243.3 669.7L243.8 669.7L244.3 669.7L244.8 669.7L245.3 669.7L245.8 669.6L246.3 669.7L246.8 669.7L247.3 669.6L247.8 669.6L248.3 669.7L248.8 669.7L249.3 669.7L249.8 669.7L250.3 669.7L250.8 669.3L251.3 669.6L251.8 669.7L252.3 669.6L252.8 669.7L253.3 669.4L253.8 669.7L254.3 669.7L254.8 669.7L255.3 669.6L255.8 669.7L256.3 669.7L256.8 669.7L257.3 669.6L257.8 669.7L258.3 669.4L258.8 668.7L259.3 669.4L259.8 669.7L260.3 669.7L260.8 669.7L261.3 669.6L261.8 669.7L262.3 669.7L262.8 669.6L263.3 669.7L263.8 669.7L264.3 669.7L264.8 669.6L265.3 669.6L265.8 669.7L266.3 669.6L266.8 669.7L267.3 669.7L267.8 669.7L268.3 669.7L268.8 669.7L269.3 669.5L269.8 669.6L270.3 669.7L270.8 669.7L271.3 669.6L271.8 669.7L272.3 669.7L272.8 669.7L273.3 669.7L273.8 669.7L274.3 669.4L274.8 669.7L275.3 669.7L275.8 669.7L276.3 669.7L276.8 669.6L277.3 669.7L277.8 669.7L278.3 669.3L278.8 669.6L279.3 669.7L279.8 669.7L280.3 669.7L280.8 669.7L281.3 669.7L281.8 669.7L282.3 669.7L282.8 669.7L283.3 669.7L283.8 669.7L284.3 669.6L284.8 669.5L285.3 669.7L285.8 669.7L286.3 669.7L286.8 669.7L287.3 669.7L287.8 669.7L288.3 669.7L288.8 669.6L289.3 669.6L289.8 669.7L290.3 669.6L290.8 669.7L291.3 669.7L291.8 669.7L292.3 669.6L292.8 669.5L293.3 669.7L293.8 669.7L294.3 669.7L294.8 669.5L295.3 669.7L295.8 669.7L296.3 669.6L296.8 669.7L297.3 669.7L297.8 669.7L298.3 669.7L298.8 669.7L299.3 669.7L299.8 669.7L300.3 669.7L300.8 669.7L301.3 669.6L301.8 669.7L302.3 669.7L302.8 669.7L303.3 669.7L303.8 669.6L304.3 669.7L304.8 669.6L305.3 669.7L305.8 669.6L306.3 669.7L306.8 669.7L307.3 669.6L307.8 669.7L308.3 669.7L308.8 669.6L309.3 669.5L309.8 669.7L310.3 669.4L310.8 669.5L311.3 669.7L311.8 669.7L312.3 669.7L312.8 669.6L313.3 669.7L313.8 669.7L314.3 669.7L314.8 669.6L315.3 669.7L315.8 669.7L316.3 669.6L316.8 669.7L317.3 669.4L317.8 669.7L318.3 669.5L318.8 669.7L319.3 669.7L319.8 669.6L320.3 669.7L320.8 669.7L321.3 669.6L321.8 669.7L322.3 669.7L322.8 669.7L323.3 669.6L323.8 669.7L324.3 669.6L324.8 669.7L325.3 669.6L325.8 669.6L326.3 669.7L326.8 669.7L327.3 669.7L327.8 669.7L328.3 669.7L328.8 669.7L329.3 669.6L329.8 669.7L330.3 669.7L330.8 669.7L331.3 669.7L331.8 669.6L332.3 669.7L332.3 669.7Z" fill="#2f7d3e" opacity="1.0"/>
<line x1="68.80" y1="685.50" x2="332.30" y2="685.50" stroke="#9a9a9a" stroke-width="0.7"/>
<path d="M68.8 685.2L68.8 685.2L69.3 685.2L69.8 685.2L70.3 685.2L70.8 685.2L71.3 685.1L71.8 685.1L72.3 685.2L72.8 685.1L73.3 684.3L73.8 683.6L74.3 684.4L74.8 685.0L75.3 685.1L75.8 685.2L76.3 685.2L76.8 685.2L77.3 685.2L77.8 684.9L78.3 685.2L78.8 685.2L79.3 685.2L79.8 685.0L80.3 685.2L80.8 685.1L81.3 685.2L81.8 685.0L82.3 685.2L82.8 685.1L83.3 685.1L83.8 685.2L84.3 685.2L84.8 685.2L85.3 685.2L85.8 685.2L86.3 685.2L86.8 685.1L87.3 685.2L87.8 685.2L88.3 685.2L88.8 685.1L89.3 685.2L89.8 685.2L90.3 685.1L90.8 685.2L91.3 685.2L91.8 685.2L92.3 685.1L92.8 685.1L93.3 685.2L93.8 684.8L94.3 685.1L94.8 685.1L95.3 685.2L95.8 685.2L96.3 685.2L96.8 685.2L97.3 685.2L97.8 685.1L98.3 685.2L98.8 685.2L99.3 685.1L99.8 685.2L100.3 685.1L100.8 685.2L101.3 685.2L101.8 685.2L102.3 685.0L102.8 685.2L103.3 685.2L103.8 685.2L104.3 685.2L104.8 685.2L105.3 685.2L105.8 685.2L106.3 685.2L106.8 685.2L107.3 685.2L107.8 685.1L108.3 685.2L108.8 685.2L109.3 685.2L109.8 685.1L110.3 685.2L110.8 685.2L111.3 685.1L111.8 685.1L112.3 685.1L112.8 685.0L113.3 685.2L113.8 685.2L114.3 685.2L114.8 685.2L115.3 685.1L115.8 685.2L116.3 685.2L116.8 685.2L117.3 685.1L117.8 685.2L118.3 685.2L118.8 685.2L119.3 685.1L119.8 685.2L120.3 685.2L120.8 685.1L121.3 685.2L121.8 685.2L122.3 685.0L122.8 685.2L123.3 685.2L123.8 685.1L124.3 685.2L124.8 685.2L125.3 685.2L125.8 685.2L126.3 685.1L126.8 685.2L127.3 684.9L127.8 685.1L128.3 684.8L128.8 685.1L129.3 685.2L129.8 685.1L130.3 685.2L130.8 685.2L131.3 685.2L131.8 685.1L132.3 685.2L132.8 685.2L133.3 685.2L133.8 685.2L134.3 685.2L134.8 685.2L135.3 685.2L135.8 685.1L136.3 685.1L136.8 685.2L137.3 685.2L137.8 685.2L138.3 685.1L138.8 685.2L139.3 685.2L139.8 685.1L140.3 685.2L140.8 685.2L141.3 685.2L141.8 685.1L142.3 685.2L142.8 685.2L143.3 685.2L143.8 685.2L144.3 685.1L144.8 685.2L145.3 685.1L145.8 685.1L146.3 685.1L146.8 685.2L147.3 685.1L147.8 685.1L148.3 685.1L148.8 685.2L149.3 685.2L149.8 685.2L150.3 685.1L150.8 685.1L151.3 685.2L151.8 685.1L152.3 685.2L152.8 685.2L153.3 685.1L153.8 685.1L154.3 685.2L154.8 685.0L155.3 685.2L155.8 685.2L156.3 685.1L156.8 685.2L157.3 685.2L157.8 685.2L158.3 685.1L158.8 685.2L159.3 685.2L159.8 685.1L160.3 685.2L160.8 685.2L161.3 685.1L161.8 685.2L162.3 685.0L162.8 685.0L163.3 685.1L163.8 685.2L164.3 685.2L164.8 685.2L165.3 685.2L165.8 685.2L166.3 685.2L166.8 685.2L167.3 685.2L167.8 685.2L168.3 685.1L168.8 685.0L169.3 685.1L169.8 685.1L170.3 685.2L170.8 685.2L171.3 685.2L171.8 685.2L172.3 685.2L172.8 685.2L173.3 684.9L173.8 683.3L174.3 682.4L174.8 681.4L175.3 682.9L175.8 684.6L176.3 685.1L176.8 685.2L177.3 685.1L177.8 685.2L178.3 685.2L178.8 685.2L179.3 685.2L179.8 684.9L180.3 685.2L180.8 685.2L181.3 685.2L181.8 685.2L182.3 685.1L182.8 685.2L183.3 685.2L183.8 685.2L184.3 685.1L184.8 685.1L185.3 685.1L185.8 685.2L186.3 685.2L186.8 685.2L187.3 685.2L187.8 685.2L188.3 685.1L188.8 685.0L189.3 685.2L189.8 685.2L190.3 685.1L190.8 685.2L191.3 685.2L191.8 685.1L192.3 685.0L192.8 685.1L193.3 685.2L193.8 685.2L194.3 685.2L194.8 685.2L195.3 685.1L195.8 685.1L196.3 685.2L196.8 685.0L197.3 685.2L197.8 685.2L198.3 685.2L198.8 685.2L199.3 685.1L199.8 685.2L200.3 685.1L200.8 684.9L201.3 685.2L201.8 685.1L202.3 685.2L202.8 685.2L203.3 685.1L203.8 685.2L204.3 685.2L204.8 685.2L205.3 685.2L205.8 685.2L206.3 685.2L206.8 685.2L207.3 685.2L207.8 684.9L208.3 685.1L208.8 685.0L209.3 685.2L209.8 685.2L210.3 685.2L210.8 685.2L211.3 685.2L211.8 685.2L212.3 685.2L212.8 685.2L213.3 685.1L213.8 685.2L214.3 685.2L214.8 685.1L215.3 685.1L215.8 685.2L216.3 685.2L216.8 685.2L217.3 685.1L217.8 685.2L218.3 685.2L218.8 685.0L219.3 685.1L219.8 685.1L220.3 685.1L220.8 685.2L221.3 685.0L221.8 685.2L222.3 685.0L222.8 685.2L223.3 685.2L223.8 685.1L224.3 685.1L224.8 685.2L225.3 685.2L225.8 685.2L226.3 685.1L226.8 685.2L227.3 685.2L227.8 685.2L228.3 685.2L228.8 685.2L229.3 685.2L229.8 685.2L230.3 685.2L230.8 685.2L231.3 685.1L231.8 685.1L232.3 685.2L232.8 684.9L233.3 684.3L233.8 683.1L234.3 680.7L234.8 680.8L235.3 682.1L235.8 675.9L236.3 674.9L236.8 681.0L237.3 683.1L237.8 682.9L238.3 679.5L238.8 680.5L239.3 680.1L239.8 683.0L240.3 682.4L240.8 681.3L241.3 683.1L241.8 684.1L242.3 684.9L242.8 685.1L243.3 684.9L243.8 685.2L244.3 685.2L244.8 685.2L245.3 685.2L245.8 685.2L246.3 685.2L246.8 685.2L247.3 685.1L247.8 685.2L248.3 685.2L248.8 685.1L249.3 685.1L249.8 685.1L250.3 685.2L250.8 685.2L251.3 685.2L251.8 685.2L252.3 685.2L252.8 685.2L253.3 685.2L253.8 685.2L254.3 685.2L254.8 685.2L255.3 685.0L255.8 685.2L256.3 685.2L256.8 685.1L257.3 685.2L257.8 685.1L258.3 684.7L258.8 684.2L259.3 684.5L259.8 685.0L260.3 685.1L260.8 685.0L261.3 685.2L261.8 685.2L262.3 685.2L262.8 685.1L263.3 685.1L263.8 685.2L264.3 685.1L264.8 685.1L265.3 685.0L265.8 685.2L266.3 685.2L266.8 685.2L267.3 685.1L267.8 685.2L268.3 685.1L268.8 684.9L269.3 685.2L269.8 685.2L270.3 685.2L270.8 684.9L271.3 685.1L271.8 685.2L272.3 685.2L272.8 685.1L273.3 685.0L273.8 685.2L274.3 685.2L274.8 685.2L275.3 685.2L275.8 685.2L276.3 685.2L276.8 685.2L277.3 685.2L277.8 685.1L278.3 685.2L278.8 685.2L279.3 685.1L279.8 685.2L280.3 685.0L280.8 685.2L281.3 685.2L281.8 685.2L282.3 685.2L282.8 685.2L283.3 685.1L283.8 685.2L284.3 685.1L284.8 685.2L285.3 685.1L285.8 685.2L286.3 685.0L286.8 685.2L287.3 685.1L287.8 685.2L288.3 685.2L288.8 685.1L289.3 685.2L289.8 685.2L290.3 685.2L290.8 685.2L291.3 685.2L291.8 685.2L292.3 685.1L292.8 685.2L293.3 685.2L293.8 685.2L294.3 685.2L294.8 685.1L295.3 685.1L295.8 685.0L296.3 685.2L296.8 685.2L297.3 685.2L297.8 685.2L298.3 685.2L298.8 685.2L299.3 685.2L299.8 685.2L300.3 685.2L300.8 685.2L301.3 685.2L301.8 685.2L302.3 685.2L302.8 685.2L303.3 685.2L303.8 685.1L304.3 685.2L304.8 685.2L305.3 685.2L305.8 685.1L306.3 685.0L306.8 685.1L307.3 685.1L307.8 685.2L308.3 685.1L308.8 685.2L309.3 685.2L309.8 685.2L310.3 685.2L310.8 685.2L311.3 685.1L311.8 685.2L312.3 685.1L312.8 685.1L313.3 685.1L313.8 685.2L314.3 685.2L314.8 685.1L315.3 685.1L315.8 685.1L316.3 685.1L316.8 685.2L317.3 685.2L317.8 685.2L318.3 685.2L318.8 685.0L319.3 685.1L319.8 685.2L320.3 685.2L320.8 685.2L321.3 685.2L321.8 685.0L322.3 685.1L322.8 685.1L323.3 685.2L323.8 685.2L324.3 685.2L324.8 685.2L325.3 685.2L325.8 685.2L326.3 685.1L326.8 685.2L327.3 685.2L327.8 685.2L328.3 685.2L328.8 684.9L329.3 685.2L329.8 685.2L330.3 685.1L330.8 685.2L331.3 685.2L331.8 685.1L332.3 685.2L332.3 685.2Z" fill="#2d6e1c" opacity="1.0"/>
<line x1="68.80" y1="701.10" x2="332.30" y2="701.10" stroke="#6ddcb0" stroke-width="0.7"/>
<path d="M68.8 700.8L68.8 700.2L69.3 700.0L69.8 700.2L70.3 700.1L70.8 700.3L71.3 699.2L71.8 700.4L72.3 699.4L72.8 700.2L73.3 700.3L73.8 700.0L74.3 699.9L74.8 700.1L75.3 699.8L75.8 699.7L76.3 700.4L76.8 699.3L77.3 700.1L77.8 700.3L78.3 700.1L78.8 700.4L79.3 700.4L79.8 700.0L80.3 700.1L80.8 699.6L81.3 700.2L81.8 700.2L82.3 700.0L82.8 700.2L83.3 700.0L83.8 700.2L84.3 700.2L84.8 700.3L85.3 699.9L85.8 700.4L86.3 700.1L86.8 700.3L87.3 700.3L87.8 699.3L88.3 700.4L88.8 700.4L89.3 699.8L89.8 699.6L90.3 700.3L90.8 700.3L91.3 700.3L91.8 700.0L92.3 700.0L92.8 700.1L93.3 700.1L93.8 700.0L94.3 700.4L94.8 700.3L95.3 700.1L95.8 699.7L96.3 699.5L96.8 700.2L97.3 699.9L97.8 700.1L98.3 700.4L98.8 700.3L99.3 699.5L99.8 700.1L100.3 700.1L100.8 700.1L101.3 700.0L101.8 699.9L102.3 700.0L102.8 699.9L103.3 700.1L103.8 699.8L104.3 700.4L104.8 700.3L105.3 699.8L105.8 700.2L106.3 700.1L106.8 700.4L107.3 700.3L107.8 699.7L108.3 700.1L108.8 700.4L109.3 700.4L109.8 700.0L110.3 699.4L110.8 699.8L111.3 699.9L111.8 700.2L112.3 700.1L112.8 698.5L113.3 700.2L113.8 700.4L114.3 700.3L114.8 699.4L115.3 700.4L115.8 700.1L116.3 700.4L116.8 700.3L117.3 699.8L117.8 700.4L118.3 700.2L118.8 699.9L119.3 700.0L119.8 700.2L120.3 699.6L120.8 699.8L121.3 700.3L121.8 700.1L122.3 700.0L122.8 700.4L123.3 700.4L123.8 698.5L124.3 700.4L124.8 699.9L125.3 700.0L125.8 700.4L126.3 700.2L126.8 700.3L127.3 700.4L127.8 700.0L128.3 699.9L128.8 699.8L129.3 698.8L129.8 700.3L130.3 700.3L130.8 700.2L131.3 700.3L131.8 700.4L132.3 699.4L132.8 699.9L133.3 700.2L133.8 700.1L134.3 698.4L134.8 700.4L135.3 700.0L135.8 700.4L136.3 700.0L136.8 700.0L137.3 700.0L137.8 700.2L138.3 700.1L138.8 699.9L139.3 700.0L139.8 699.6L140.3 700.4L140.8 700.2L141.3 700.4L141.8 700.0L142.3 700.2L142.8 700.4L143.3 700.1L143.8 699.5L144.3 699.8L144.8 700.0L145.3 700.0L145.8 700.2L146.3 700.1L146.8 700.2L147.3 700.1L147.8 699.6L148.3 700.0L148.8 700.2L149.3 699.9L149.8 700.4L150.3 700.1L150.8 699.5L151.3 700.3L151.8 700.1L152.3 700.4L152.8 700.3L153.3 700.4L153.8 700.3L154.3 700.2L154.8 700.3L155.3 699.8L155.8 699.9L156.3 700.0L156.8 700.0L157.3 699.6L157.8 699.9L158.3 699.0L158.8 700.4L159.3 700.4L159.8 700.4L160.3 700.4L160.8 700.4L161.3 700.4L161.8 700.4L162.3 700.4L162.8 699.9L163.3 700.1L163.8 700.1L164.3 700.2L164.8 700.0L165.3 699.9L165.8 700.0L166.3 699.4L166.8 700.0L167.3 700.3L167.8 699.8L168.3 700.2L168.8 700.4L169.3 699.8L169.8 700.4L170.3 700.4L170.8 699.7L171.3 700.1L171.8 700.3L172.3 700.2L172.8 700.3L173.3 700.1L173.8 699.9L174.3 700.0L174.8 699.9L175.3 698.6L175.8 700.1L176.3 700.3L176.8 700.2L177.3 699.9L177.8 700.3L178.3 699.9L178.8 699.4L179.3 700.1L179.8 700.4L180.3 700.3L180.8 700.2L181.3 700.1L181.8 700.2L182.3 699.7L182.8 700.0L183.3 699.9L183.8 700.1L184.3 700.3L184.8 700.3L185.3 699.9L185.8 700.3L186.3 699.5L186.8 700.1L187.3 700.4L187.8 699.8L188.3 700.4L188.8 700.1L189.3 700.4L189.8 700.4L190.3 699.8L190.8 700.2L191.3 700.0L191.8 699.9L192.3 700.0L192.8 699.9L193.3 700.0L193.8 700.2L194.3 700.4L194.8 700.1L195.3 699.4L195.8 700.2L196.3 700.4L196.8 699.9L197.3 700.3L197.8 700.4L198.3 700.4L198.8 700.3L199.3 700.3L199.8 700.1L200.3 700.1L200.8 700.1L201.3 700.2L201.8 700.2L202.3 700.2L202.8 700.2L203.3 700.4L203.8 700.2L204.3 700.4L204.8 700.3L205.3 698.9L205.8 700.1L206.3 700.2L206.8 699.5L207.3 700.4L207.8 699.7L208.3 699.6L208.8 700.3L209.3 699.9L209.8 699.7L210.3 699.6L210.8 700.2L211.3 700.2L211.8 700.2L212.3 699.2L212.8 699.8L213.3 698.9L213.8 700.1L214.3 699.8L214.8 700.4L215.3 700.0L215.8 700.3L216.3 700.2L216.8 700.3L217.3 699.6L217.8 700.1L218.3 700.2L218.8 700.0L219.3 700.1L219.8 699.4L220.3 700.2L220.8 700.3L221.3 700.3L221.8 699.8L222.3 700.2L222.8 700.3L223.3 700.4L223.8 700.2L224.3 700.3L224.8 699.9L225.3 700.4L225.8 700.2L226.3 700.3L226.8 700.1L227.3 700.3L227.8 700.2L228.3 699.3L228.8 700.0L229.3 700.2L229.8 699.6L230.3 700.1L230.8 700.1L231.3 700.2L231.8 699.8L232.3 700.4L232.8 699.8L233.3 700.3L233.8 700.3L234.3 700.4L234.8 700.4L235.3 699.8L235.8 699.6L236.3 700.1L236.8 699.9L237.3 699.8L237.8 700.3L238.3 700.3L238.8 700.2L239.3 700.2L239.8 700.4L240.3 699.9L240.8 700.3L241.3 700.4L241.8 700.0L242.3 700.2L242.8 700.3L243.3 699.8L243.8 700.4L244.3 700.1L244.8 700.0L245.3 699.9L245.8 699.5L246.3 699.9L246.8 700.2L247.3 699.5L247.8 700.0L248.3 700.3L248.8 700.3L249.3 700.4L249.8 700.4L250.3 697.9L250.8 699.8L251.3 700.4L251.8 700.4L252.3 699.6L252.8 700.2L253.3 700.4L253.8 700.2L254.3 699.9L254.8 700.2L255.3 700.2L255.8 699.7L256.3 700.1L256.8 700.3L257.3 699.7L257.8 700.4L258.3 700.2L258.8 700.1L259.3 700.3L259.8 700.3L260.3 700.2L260.8 700.4L261.3 700.2L261.8 700.3L262.3 700.2L262.8 700.2L263.3 699.9L263.8 699.8L264.3 700.1L264.8 700.2L265.3 700.2L265.8 700.1L266.3 700.3L266.8 699.6L267.3 700.4L267.8 699.8L268.3 699.9L268.8 699.7L269.3 700.4L269.8 700.4L270.3 700.1L270.8 699.7L271.3 699.9L271.8 700.3L272.3 700.0L272.8 700.2L273.3 700.0L273.8 699.9L274.3 700.3L274.8 700.3L275.3 700.4L275.8 699.7L276.3 700.2L276.8 700.4L277.3 700.2L277.8 699.9L278.3 700.1L278.8 700.3L279.3 700.0L279.8 700.1L280.3 699.6L280.8 700.4L281.3 700.0L281.8 700.1L282.3 700.0L282.8 700.0L283.3 700.2L283.8 700.4L284.3 700.4L284.8 699.7L285.3 700.3L285.8 700.4L286.3 699.6L286.8 700.4L287.3 700.1L287.8 699.5L288.3 699.8L288.8 700.2L289.3 700.1L289.8 700.2L290.3 699.9L290.8 700.0L291.3 699.8L291.8 700.2L292.3 700.0L292.8 700.1L293.3 700.2L293.8 699.7L294.3 700.3L294.8 700.4L295.3 700.4L295.8 700.4L296.3 700.4L296.8 700.1L297.3 700.4L297.8 700.2L298.3 700.1L298.8 700.0L299.3 700.2L299.8 700.2L300.3 699.3L300.8 700.1L301.3 700.2L301.8 700.2L302.3 699.6L302.8 700.4L303.3 700.4L303.8 700.3L304.3 700.2L304.8 700.0L305.3 700.2L305.8 699.7L306.3 700.0L306.8 700.2L307.3 700.2L307.8 700.2L308.3 700.1L308.8 699.8L309.3 699.1L309.8 700.1L310.3 700.4L310.8 700.3L311.3 699.7L311.8 700.0L312.3 700.4L312.8 700.1L313.3 699.7L313.8 700.4L314.3 699.7L314.8 700.1L315.3 699.5L315.8 700.4L316.3 700.1L316.8 700.2L317.3 700.3L317.8 699.7L318.3 699.9L318.8 699.8L319.3 700.2L319.8 700.1L320.3 700.4L320.8 699.2L321.3 700.2L321.8 700.4L322.3 700.4L322.8 700.1L323.3 700.3L323.8 700.3L324.3 699.7L324.8 700.3L325.3 700.3L325.8 699.7L326.3 699.9L326.8 699.9L327.3 700.2L327.8 700.1L328.3 699.7L328.8 699.4L329.3 700.4L329.8 700.2L330.3 700.4L330.8 700.3L331.3 700.2L331.8 699.8L332.3 698.4L332.3 700.8Z" fill="#5ad6a0" opacity="1.0"/>
<line x1="68.80" y1="741.90" x2="332.30" y2="741.90" stroke="#9a9a9a" stroke-width="0.7"/>
<path d="M68.8 741.6L68.8 741.6L69.0 741.6L69.3 741.6L69.5 741.5L69.8 741.6L70.0 741.6L70.3 741.6L70.5 741.6L70.8 741.6L71.0 741.6L71.3 741.6L71.5 741.6L71.8 741.6L72.0 741.6L72.3 741.6L72.5 741.6L72.8 741.6L73.0 741.6L73.3 741.6L73.5 741.5L73.8 741.6L74.0 741.6L74.3 741.6L74.5 741.6L74.8 741.6L75.0 741.6L75.3 741.6L75.5 741.6L75.8 741.6L76.0 741.6L76.3 741.6L76.5 741.6L76.8 741.6L77.0 741.6L77.3 741.6L77.5 741.6L77.8 741.6L78.0 741.5L78.3 741.6L78.5 741.6L78.8 741.6L79.0 741.6L79.3 741.6L79.5 741.6L79.8 741.6L80.0 741.6L80.3 741.6L80.5 741.6L80.8 741.6L81.0 741.6L81.3 741.6L81.5 741.6L81.8 741.6L82.0 741.6L82.3 741.6L82.5 741.6L82.8 741.6L83.0 741.6L83.3 741.6L83.5 741.6L83.8 741.6L84.0 741.6L84.3 741.6L84.5 741.6L84.8 741.6L85.0 741.6L85.3 741.6L85.5 741.6L85.8 741.6L86.0 741.6L86.3 741.6L86.5 741.6L86.8 741.6L87.0 741.6L87.3 741.6L87.5 741.6L87.8 741.6L88.0 741.6L88.3 741.6L88.5 741.6L88.8 741.6L89.0 741.6L89.3 741.6L89.5 741.6L89.8 741.6L90.0 741.6L90.3 741.6L90.5 741.6L90.8 741.5L91.0 741.6L91.3 741.6L91.5 741.6L91.8 741.6L92.0 741.6L92.3 741.6L92.5 741.6L92.8 741.6L93.0 741.6L93.3 741.6L93.5 741.6L93.8 741.5L94.0 741.6L94.3 741.6L94.5 741.6L94.8 741.6L95.0 741.6L95.3 741.6L95.5 741.6L95.8 741.6L96.0 741.6L96.3 741.6L96.5 741.5L96.8 741.6L97.0 741.5L97.3 741.6L97.5 741.6L97.8 741.6L98.0 741.6L98.3 741.6L98.5 741.6L98.8 741.6L99.0 741.6L99.3 741.6L99.5 741.6L99.8 741.6L100.0 741.6L100.3 741.6L100.5 741.6L100.8 741.6L101.0 741.6L101.3 741.6L101.5 741.6L101.8 741.6L102.0 741.6L102.3 741.6L102.5 741.6L102.8 741.6L103.0 741.6L103.3 741.6L103.5 741.6L103.8 741.6L104.0 741.6L104.3 741.6L104.5 741.6L104.8 741.5L105.0 741.6L105.3 741.6L105.5 741.6L105.8 741.6L106.0 741.6L106.3 741.6L106.5 741.6L106.8 741.6L107.0 741.6L107.3 741.6L107.5 741.6L107.8 741.6L108.0 741.6L108.3 741.6L108.5 741.6L108.8 741.6L109.0 741.6L109.3 741.6L109.5 741.6L109.8 741.6L110.0 741.6L110.3 741.6L110.5 741.6L110.8 741.6L111.0 741.6L111.3 741.6L111.5 741.6L111.8 741.6L112.0 741.6L112.3 741.6L112.5 741.6L112.8 741.6L113.0 741.6L113.3 741.6L113.5 741.6L113.8 741.6L114.0 741.6L114.3 741.5L114.5 741.5L114.8 741.6L115.0 741.6L115.3 741.6L115.5 741.6L115.8 741.6L116.0 741.6L116.3 741.6L116.5 741.6L116.8 741.6L117.0 741.6L117.3 741.6L117.5 741.6L117.8 741.6L118.0 741.6L118.3 741.6L118.5 741.6L118.8 741.6L119.0 741.6L119.3 741.6L119.5 741.6L119.8 741.6L120.0 741.6L120.3 741.5L120.5 741.6L120.8 741.6L121.0 741.6L121.3 741.6L121.5 741.6L121.8 741.6L122.0 741.6L122.3 741.6L122.5 741.6L122.8 741.6L123.0 741.6L123.3 741.6L123.5 741.6L123.8 741.6L124.0 741.6L124.3 741.6L124.5 741.6L124.8 741.6L125.0 741.6L125.3 741.6L125.5 741.6L125.8 741.6L126.0 741.6L126.3 741.6L126.5 741.6L126.8 741.6L127.0 741.6L127.3 741.6L127.5 741.6L127.8 741.6L128.1 741.6L128.3 741.6L128.6 741.6L128.8 741.6L129.1 741.6L129.3 741.6L129.6 741.6L129.8 741.6L130.1 741.6L130.3 741.6L130.6 741.6L130.8 741.6L131.1 741.6L131.3 741.6L131.6 741.6L131.8 741.6L132.1 741.6L132.3 741.6L132.6 741.6L132.8 741.6L133.1 741.6L133.3 741.6L133.6 741.6L133.8 741.6L134.1 741.6L134.3 741.6L134.6 741.6L134.8 741.6L135.1 741.6L135.3 741.6L135.6 741.6L135.8 741.6L136.1 741.6L136.3 741.6L136.6 741.6L136.8 741.5L137.1 741.6L137.3 741.6L137.6 741.6L137.8 741.5L138.1 741.6L138.3 741.6L138.6 741.6L138.8 741.6L139.1 741.6L139.3 741.6L139.6 741.6L139.8 741.6L140.1 741.6L140.3 741.5L140.6 741.6L140.8 741.6L141.1 741.5L141.3 741.6L141.6 741.6L141.8 741.6L142.1 741.6L142.3 741.6L142.6 741.6L142.8 741.6L143.1 741.6L143.3 741.6L143.6 741.6L143.8 741.6L144.1 741.6L144.3 741.5L144.6 741.6L144.8 741.6L145.1 741.6L145.3 741.6L145.6 741.6L145.8 741.6L146.1 741.6L146.3 741.6L146.6 741.6L146.8 741.6L147.1 741.6L147.3 741.6L147.6 741.6L147.8 741.5L148.1 741.6L148.3 741.6L148.6 741.6L148.8 741.6L149.1 741.6L149.3 741.6L149.6 741.6L149.8 741.6L150.1 741.6L150.3 741.6L150.6 741.6L150.8 741.6L151.1 741.6L151.3 741.6L151.6 741.6L151.8 741.6L152.1 741.6L152.3 741.6L152.6 741.6L152.8 741.5L153.1 741.6L153.3 741.6L153.6 741.6L153.8 741.6L154.1 741.6L154.3 741.6L154.6 741.6L154.8 741.6L155.1 741.6L155.3 741.6L155.6 741.6L155.8 741.6L156.1 741.3L156.3 740.8L156.6 741.3L156.8 741.6L157.1 741.6L157.3 741.6L157.6 741.6L157.8 741.6L158.1 741.6L158.3 741.6L158.6 741.6L158.8 741.6L159.1 741.6L159.3 741.6L159.6 741.6L159.8 741.6L160.1 741.6L160.3 741.6L160.6 741.6L160.8 741.6L161.1 741.6L161.3 741.6L161.6 741.6L161.8 741.6L162.1 741.6L162.3 741.6L162.6 741.6L162.8 741.5L163.1 741.6L163.3 741.6L163.6 741.6L163.8 741.6L164.1 741.6L164.3 741.6L164.6 741.6L164.8 741.6L165.1 741.6L165.3 741.6L165.6 741.6L165.8 741.6L166.1 741.6L166.3 741.6L166.6 741.6L166.8 741.6L167.1 741.6L167.3 741.6L167.6 741.6L167.8 741.6L168.1 741.6L168.3 741.6L168.6 741.6L168.8 741.6L169.1 741.6L169.3 741.6L169.6 741.6L169.8 741.6L170.1 741.6L170.3 741.6L170.6 741.6L170.8 741.6L171.1 741.6L171.3 741.6L171.6 741.6L171.8 741.6L172.1 741.6L172.3 741.6L172.6 741.6L172.8 741.6L173.1 741.6L173.3 741.6L173.6 741.6L173.8 741.6L174.1 741.6L174.3 741.6L174.6 741.6L174.8 741.6L175.1 741.5L175.3 741.6L175.6 741.6L175.8 741.6L176.1 741.6L176.3 741.6L176.6 741.6L176.8 741.6L177.1 741.5L177.3 740.7L177.6 740.7L177.8 741.3L178.1 741.6L178.3 741.6L178.6 741.6L178.8 741.5L179.1 741.6L179.3 741.6L179.6 741.2L179.8 738.7L180.1 734.6L180.3 739.8L180.6 741.5L180.8 741.6L181.1 741.6L181.3 741.6L181.6 741.6L181.8 741.6L182.1 741.6L182.3 741.6L182.6 741.6L182.8 741.6L183.1 741.6L183.3 741.6L183.6 741.6L183.8 741.6L184.1 741.6L184.3 741.6L184.6 741.6L184.8 741.6L185.1 741.6L185.3 741.6L185.6 741.6L185.8 741.6L186.1 741.6L186.3 741.6L186.6 741.6L186.8 741.6L187.1 741.6L187.3 741.6L187.6 741.6L187.8 741.6L188.1 741.6L188.3 741.5L188.6 741.6L188.8 741.6L189.1 741.6L189.3 741.6L189.6 741.6L189.8 741.6L190.1 741.6L190.3 741.6L190.6 741.6L190.8 741.6L191.1 741.6L191.3 741.6L191.6 741.6L191.8 741.6L192.1 741.6L192.3 741.6L192.6 741.6L192.8 741.6L193.1 741.6L193.3 741.6L193.6 741.6L193.8 741.6L194.1 741.6L194.3 741.6L194.6 741.6L194.8 741.6L195.1 741.6L195.3 741.6L195.6 741.5L195.8 741.6L196.1 741.6L196.3 741.6L196.6 741.6L196.8 741.6L197.1 741.6L197.3 741.6L197.6 741.6L197.8 741.6L198.1 741.6L198.3 741.6L198.6 741.6L198.8 741.6L199.1 741.6L199.3 741.6L199.6 741.6L199.8 741.6L200.1 741.6L200.3 741.6L200.6 741.6L200.8 741.6L201.1 741.6L201.3 741.5L201.6 741.5L201.8 741.6L202.1 741.6L202.3 741.6L202.6 741.6L202.8 741.5L203.1 741.6L203.3 741.6L203.6 741.6L203.8 741.6L204.1 741.6L204.3 741.6L204.6 741.6L204.8 741.6L205.1 741.5L205.3 741.6L205.6 741.6L205.8 741.6L206.1 741.5L206.3 741.6L206.6 741.6L206.8 741.6L207.1 741.6L207.3 741.6L207.6 741.6L207.8 741.6L208.1 741.5L208.3 741.6L208.6 741.6L208.8 741.6L209.1 741.6L209.3 741.6L209.6 741.6L209.8 741.6L210.1 741.6L210.3 741.6L210.6 741.6L210.8 741.6L211.1 741.6L211.3 741.6L211.6 741.6L211.8 741.6L212.1 741.6L212.3 741.6L212.6 741.6L212.8 741.6L213.1 741.6L213.3 741.6L213.6 741.6L213.8 741.5L214.1 741.6L214.3 741.6L214.6 741.6L214.8 741.6L215.1 741.6L215.3 741.5L215.6 741.6L215.8 741.6L216.1 741.6L216.3 741.6L216.6 741.6L216.8 741.6L217.1 741.6L217.3 741.6L217.6 741.6L217.8 741.6L218.1 741.6L218.3 741.6L218.6 741.6L218.8 741.6L219.1 741.6L219.3 741.6L219.6 741.6L219.8 741.6L220.1 741.5L220.3 741.6L220.6 741.6L220.8 741.6L221.1 741.6L221.3 741.6L221.6 741.6L221.8 741.6L222.1 741.6L222.3 741.6L222.6 741.6L222.8 741.6L223.1 741.6L223.3 741.6L223.6 741.6L223.8 741.6L224.1 741.6L224.3 741.6L224.6 741.6L224.8 741.6L225.1 741.6L225.3 741.6L225.6 741.6L225.8 741.6L226.1 741.5L226.3 741.6L226.6 741.6L226.8 741.6L227.1 741.6L227.3 741.6L227.6 741.6L227.8 741.6L228.1 741.6L228.3 741.6L228.6 741.6L228.8 741.6L229.1 741.6L229.3 741.5L229.6 741.5L229.8 741.6L230.1 741.6L230.3 741.6L230.6 741.6L230.8 741.6L231.1 741.5L231.3 741.6L231.6 741.6L231.8 741.6L232.1 741.6L232.3 741.6L232.6 741.6L232.8 741.6L233.1 741.6L233.3 741.6L233.6 741.6L233.8 741.6L234.1 741.6L234.3 741.6L234.6 741.6L234.8 741.6L235.1 741.6L235.3 741.6L235.6 741.6L235.8 741.5L236.1 741.5L236.3 741.2L236.6 741.0L236.8 741.1L237.1 741.1L237.3 741.4L237.6 741.5L237.8 741.6L238.1 741.6L238.3 741.6L238.6 741.6L238.8 741.6L239.1 741.5L239.3 741.6L239.6 741.5L239.8 741.6L240.1 741.6L240.3 741.6L240.6 741.6L240.8 741.6L241.1 741.6L241.3 741.6L241.6 741.6L241.8 741.6L242.1 741.6L242.3 741.5L242.6 741.6L242.8 741.6L243.1 741.6L243.3 741.6L243.6 741.6L243.8 741.6L244.1 741.6L244.3 741.6L244.6 741.6L244.8 741.6L245.1 741.6L245.3 741.6L245.6 741.6L245.8 741.6L246.1 741.6L246.3 741.6L246.6 741.6L246.8 741.6L247.1 741.6L247.3 741.6L247.6 741.6L247.8 741.6L248.1 741.6L248.3 741.6L248.6 741.6L248.8 741.6L249.1 741.6L249.3 741.6L249.6 741.6L249.8 741.6L250.1 741.5L250.3 741.6L250.6 741.6L250.8 741.6L251.1 741.6L251.3 741.6L251.6 741.5L251.8 741.6L252.1 741.6L252.3 741.6L252.6 741.6L252.8 741.6L253.1 741.6L253.3 741.6L253.6 741.6L253.8 741.6L254.1 741.6L254.3 741.6L254.6 741.6L254.8 741.6L255.1 741.6L255.3 741.6L255.6 741.6L255.8 741.6L256.1 741.6L256.3 741.6L256.6 741.6L256.8 741.6L257.1 741.5L257.3 741.6L257.6 741.6L257.8 741.6L258.1 741.6L258.3 741.6L258.6 741.6L258.8 741.6L259.1 741.6L259.3 741.6L259.6 741.6L259.8 741.6L260.1 741.6L260.3 741.6L260.6 741.6L260.8 741.6L261.1 741.6L261.3 741.6L261.6 741.6L261.8 741.6L262.1 741.6L262.3 741.6L262.6 741.6L262.8 741.6L263.1 741.6L263.3 741.6L263.6 741.6L263.8 741.6L264.1 741.6L264.3 741.6L264.6 741.6L264.8 741.6L265.1 741.6L265.3 741.6L265.6 741.6L265.8 741.6L266.1 741.6L266.3 741.6L266.6 741.6L266.8 741.6L267.1 741.6L267.3 741.6L267.6 741.6L267.8 741.6L268.1 741.6L268.3 741.6L268.6 741.6L268.8 741.6L269.1 741.6L269.3 741.6L269.6 741.6L269.8 741.6L270.1 741.6L270.3 741.6L270.6 741.6L270.8 741.6L271.1 741.6L271.3 741.6L271.6 741.6L271.8 741.5L272.1 741.6L272.3 741.6L272.6 741.6L272.8 741.6L273.1 741.6L273.3 741.6L273.6 741.6L273.8 741.5L274.1 741.5L274.3 741.6L274.6 741.6L274.8 741.6L275.1 741.6L275.3 741.6L275.6 741.6L275.8 741.6L276.1 741.6L276.3 741.6L276.6 741.6L276.8 741.6L277.1 741.5L277.3 741.6L277.6 741.6L277.8 741.6L278.1 741.6L278.3 741.6L278.6 741.6L278.8 741.5L279.1 741.5L279.3 741.6L279.6 741.6L279.8 741.6L280.1 741.6L280.3 741.6L280.6 741.6L280.8 741.6L281.1 741.6L281.3 741.6L281.6 741.6L281.8 741.6L282.1 741.6L282.3 741.6L282.6 741.6L282.8 741.6L283.1 741.6L283.3 741.6L283.6 741.6L283.8 741.6L284.1 741.6L284.3 741.6L284.6 741.6L284.8 741.6L285.1 741.6L285.3 741.6L285.6 741.6L285.8 741.6L286.1 741.6L286.3 741.6L286.6 741.5L286.8 741.6L287.1 741.6L287.3 741.6L287.6 741.6L287.8 741.6L288.1 741.6L288.3 741.6L288.6 741.6L288.8 741.6L289.1 741.6L289.3 741.6L289.6 741.6L289.8 741.5L290.1 741.6L290.3 741.6L290.6 741.6L290.8 741.6L291.1 741.6L291.3 741.6L291.6 741.6L291.8 741.6L292.1 741.6L292.3 741.6L292.6 741.5L292.8 741.6L293.1 741.5L293.3 741.6L293.6 741.6L293.8 741.6L294.1 741.6L294.3 741.6L294.6 741.6L294.8 741.6L295.1 741.6L295.3 741.6L295.6 741.6L295.8 741.6L296.1 741.6L296.3 741.6L296.6 741.6L296.8 741.6L297.1 741.6L297.3 741.6L297.6 741.6L297.8 741.6L298.1 741.6L298.3 741.6L298.6 741.6L298.8 741.6L299.1 741.6L299.3 741.6L299.6 741.6L299.8 741.6L300.1 741.6L300.3 741.5L300.6 741.6L300.8 741.6L301.1 741.6L301.3 741.6L301.6 741.6L301.8 741.6L302.1 741.6L302.3 741.6L302.6 741.6L302.8 741.6L303.1 741.6L303.3 741.6L303.6 741.6L303.8 741.6L304.1 741.6L304.3 741.6L304.6 741.6L304.8 741.6L305.1 741.6L305.3 741.6L305.6 741.6L305.8 741.6L306.1 741.5L306.3 741.5L306.6 741.6L306.8 741.6L307.1 741.6L307.3 741.6L307.6 741.6L307.8 741.6L308.1 741.6L308.3 741.6L308.6 741.6L308.8 741.6L309.1 741.6L309.3 741.6L309.6 741.6L309.8 741.6L310.1 741.6L310.3 741.6L310.6 741.6L310.8 741.6L311.1 741.6L311.3 741.6L311.6 741.6L311.8 741.6L312.1 741.6L312.3 741.6L312.6 741.6L312.8 741.6L313.1 741.6L313.3 741.6L313.6 741.6L313.8 741.6L314.1 741.6L314.3 741.6L314.6 741.6L314.8 741.6L315.1 741.6L315.3 741.6L315.6 741.6L315.8 741.6L316.1 741.6L316.3 741.6L316.6 741.6L316.8 741.6L317.1 741.6L317.3 741.6L317.6 741.6L317.8 741.6L318.1 741.6L318.3 741.6L318.6 741.6L318.8 741.6L319.1 741.6L319.3 741.6L319.6 741.6L319.8 741.6L320.1 741.6L320.3 741.6L320.6 741.5L320.8 741.6L321.1 741.6L321.3 741.6L321.6 741.6L321.8 741.5L322.1 741.6L322.3 741.6L322.6 741.6L322.8 741.6L323.1 741.6L323.3 741.6L323.6 741.5L323.8 741.6L324.1 741.6L324.3 741.6L324.6 741.6L324.8 741.6L325.1 741.6L325.3 741.6L325.6 741.6L325.8 741.6L326.1 741.6L326.3 741.6L326.6 741.6L326.8 741.6L327.1 741.6L327.3 741.6L327.6 741.6L327.8 741.6L328.1 741.6L328.3 741.6L328.6 741.6L328.8 741.6L329.1 741.6L329.3 741.6L329.6 741.6L329.8 741.6L330.1 741.6L330.3 741.6L330.6 741.6L330.8 741.5L331.1 741.6L331.3 741.6L331.6 741.6L331.8 741.6L332.1 741.6L332.3 741.6L332.3 741.6Z" fill="#2a3a8c" opacity="1.0"/>
<line x1="68.80" y1="757.60" x2="332.30" y2="757.60" stroke="#9a9a9a" stroke-width="0.7"/>
<path d="M68.8 757.3L68.8 757.3L69.0 757.3L69.3 757.3L69.5 757.3L69.8 757.3L70.0 757.3L70.3 757.3L70.5 757.3L70.8 757.3L71.0 757.3L71.3 757.3L71.5 757.3L71.8 757.3L72.0 757.2L72.3 757.3L72.5 757.3L72.8 757.3L73.0 757.3L73.3 757.3L73.5 757.3L73.8 757.3L74.0 757.3L74.3 757.3L74.5 757.3L74.8 757.3L75.0 757.3L75.3 757.3L75.5 757.3L75.8 757.3L76.0 757.3L76.3 757.3L76.5 757.3L76.8 757.3L77.0 757.3L77.3 757.3L77.5 757.3L77.8 757.3L78.0 757.3L78.3 757.3L78.5 757.3L78.8 757.3L79.0 757.3L79.3 757.3L79.5 757.3L79.8 757.3L80.0 757.3L80.3 757.3L80.5 757.3L80.8 757.2L81.0 757.3L81.3 757.3L81.5 757.3L81.8 757.3L82.0 757.3L82.3 757.3L82.5 757.3L82.8 757.3L83.0 757.3L83.3 757.3L83.5 757.3L83.8 757.3L84.0 757.3L84.3 757.3L84.5 757.3L84.8 757.3L85.0 757.3L85.3 757.3L85.5 757.3L85.8 757.3L86.0 757.3L86.3 757.3L86.5 757.3L86.8 757.3L87.0 757.3L87.3 757.3L87.5 757.3L87.8 757.3L88.0 757.3L88.3 757.3L88.5 757.3L88.8 757.3L89.0 757.3L89.3 757.3L89.5 757.3L89.8 757.3L90.0 757.3L90.3 757.3L90.5 757.3L90.8 757.3L91.0 757.3L91.3 757.3L91.5 757.3L91.8 757.3L92.0 757.3L92.3 757.3L92.5 757.3L92.8 757.3L93.0 757.3L93.3 757.3L93.5 757.3L93.8 757.3L94.0 757.3L94.3 757.3L94.5 757.3L94.8 757.3L95.0 757.3L95.3 757.3L95.5 757.3L95.8 757.3L96.0 757.3L96.3 757.3L96.5 757.2L96.8 757.3L97.0 757.3L97.3 757.3L97.5 757.3L97.8 757.3L98.0 757.3L98.3 757.3L98.5 757.3L98.8 757.3L99.0 757.3L99.3 757.3L99.5 757.3L99.8 757.3L100.0 757.3L100.3 757.3L100.5 757.3L100.8 757.3L101.0 757.3L101.3 757.3L101.5 757.3L101.8 757.3L102.0 757.3L102.3 757.3L102.5 757.3L102.8 757.3L103.0 757.3L103.3 757.3L103.5 757.3L103.8 757.3L104.0 757.3L104.3 757.3L104.5 757.3L104.8 757.3L105.0 757.2L105.3 757.3L105.5 757.3L105.8 757.3L106.0 757.3L106.3 757.3L106.5 757.3L106.8 757.3L107.0 757.3L107.3 757.3L107.5 757.2L107.8 757.3L108.0 757.3L108.3 757.3L108.5 757.3L108.8 757.3L109.0 757.3L109.3 757.2L109.5 757.3L109.8 757.3L110.0 757.3L110.3 757.3L110.5 757.3L110.8 757.3L111.0 757.3L111.3 757.3L111.5 757.3L111.8 757.3L112.0 757.3L112.3 757.3L112.5 757.3L112.8 757.3L113.0 757.3L113.3 757.3L113.5 757.3L113.8 757.3L114.0 757.2L114.3 757.3L114.5 757.3L114.8 757.3L115.0 757.3L115.3 757.3L115.5 757.3L115.8 757.3L116.0 757.3L116.3 757.3L116.5 757.3L116.8 757.3L117.0 757.3L117.3 757.3L117.5 757.3L117.8 757.3L118.0 757.3L118.3 757.3L118.5 757.2L118.8 757.3L119.0 757.3L119.3 757.3L119.5 757.3L119.8 757.3L120.0 757.3L120.3 757.3L120.5 757.3L120.8 757.3L121.0 757.3L121.3 757.3L121.5 757.3L121.8 757.3L122.0 757.3L122.3 757.3L122.5 757.3L122.8 757.3L123.0 757.3L123.3 757.3L123.5 757.3L123.8 757.3L124.0 757.3L124.3 757.2L124.5 757.3L124.8 757.3L125.0 757.3L125.3 757.3L125.5 757.3L125.8 757.3L126.0 757.2L126.3 757.3L126.5 757.3L126.8 757.3L127.0 757.3L127.3 757.3L127.5 757.3L127.8 757.3L128.1 757.3L128.3 757.3L128.6 757.3L128.8 757.3L129.1 757.3L129.3 757.3L129.6 757.3L129.8 757.3L130.1 757.3L130.3 757.3L130.6 757.3L130.8 757.3L131.1 757.3L131.3 757.3L131.6 757.3L131.8 757.3L132.1 757.3L132.3 757.3L132.6 757.3L132.8 757.3L133.1 757.3L133.3 757.3L133.6 757.3L133.8 757.3L134.1 757.3L134.3 757.3L134.6 757.3L134.8 757.3L135.1 757.3L135.3 757.3L135.6 757.3L135.8 757.2L136.1 757.3L136.3 757.3L136.6 757.3L136.8 757.3L137.1 757.3L137.3 757.3L137.6 757.3L137.8 757.3L138.1 757.3L138.3 757.3L138.6 757.3L138.8 757.3L139.1 757.3L139.3 757.3L139.6 757.3L139.8 757.3L140.1 757.3L140.3 757.3L140.6 757.3L140.8 757.3L141.1 757.2L141.3 757.3L141.6 757.2L141.8 757.3L142.1 757.3L142.3 757.3L142.6 757.3L142.8 757.3L143.1 757.3L143.3 757.3L143.6 757.3L143.8 757.3L144.1 757.3L144.3 757.3L144.6 757.3L144.8 757.3L145.1 757.3L145.3 757.3L145.6 757.3L145.8 757.3L146.1 757.3L146.3 757.3L146.6 757.3L146.8 757.3L147.1 757.3L147.3 757.2L147.6 757.3L147.8 757.3L148.1 757.3L148.3 757.3L148.6 757.2L148.8 757.3L149.1 757.3L149.3 757.3L149.6 757.3L149.8 757.3L150.1 757.3L150.3 757.3L150.6 757.3L150.8 757.3L151.1 757.3L151.3 757.3L151.6 757.3L151.8 757.3L152.1 757.3L152.3 757.3L152.6 757.2L152.8 757.3L153.1 757.3L153.3 757.3L153.6 757.2L153.8 757.3L154.1 757.3L154.3 757.3L154.6 757.3L154.8 757.3L155.1 757.3L155.3 757.3L155.6 757.3L155.8 757.3L156.1 757.0L156.3 756.5L156.6 757.1L156.8 757.3L157.1 757.3L157.3 757.3L157.6 757.2L157.8 757.3L158.1 757.3L158.3 757.3L158.6 757.3L158.8 757.3L159.1 757.3L159.3 757.3L159.6 757.3L159.8 757.3L160.1 757.2L160.3 757.3L160.6 757.3L160.8 757.3L161.1 757.3L161.3 757.3L161.6 757.3L161.8 757.3L162.1 757.3L162.3 757.3L162.6 757.3L162.8 757.3L163.1 757.3L163.3 757.3L163.6 757.3L163.8 757.3L164.1 757.2L164.3 757.3L164.6 757.2L164.8 757.3L165.1 757.3L165.3 757.3L165.6 757.3L165.8 757.3L166.1 757.3L166.3 757.3L166.6 757.3L166.8 757.3L167.1 757.3L167.3 757.3L167.6 757.3L167.8 757.3L168.1 757.3L168.3 757.3L168.6 757.3L168.8 757.3L169.1 757.3L169.3 757.3L169.6 757.3L169.8 757.3L170.1 757.3L170.3 757.3L170.6 757.3L170.8 757.3L171.1 757.3L171.3 757.3L171.6 757.3L171.8 757.3L172.1 757.3L172.3 757.3L172.6 757.3L172.8 757.3L173.1 757.3L173.3 757.3L173.6 757.3L173.8 757.3L174.1 757.3L174.3 757.3L174.6 757.3L174.8 757.3L175.1 757.3L175.3 757.3L175.6 757.3L175.8 757.3L176.1 757.3L176.3 757.3L176.6 757.1L176.8 755.1L177.1 753.3L177.3 756.2L177.6 757.2L177.8 757.3L178.1 757.1L178.3 756.2L178.6 754.5L178.8 756.7L179.1 757.2L179.3 757.3L179.6 756.5L179.8 751.1L180.1 747.5L180.3 752.7L180.6 757.1L180.8 757.3L181.1 757.3L181.3 757.3L181.6 757.3L181.8 757.3L182.1 757.2L182.3 757.3L182.6 757.3L182.8 757.3L183.1 757.3L183.3 757.3L183.6 757.3L183.8 757.3L184.1 757.3L184.3 757.3L184.6 757.3L184.8 757.3L185.1 757.3L185.3 757.3L185.6 757.3L185.8 757.3L186.1 757.3L186.3 757.3L186.6 757.2L186.8 757.3L187.1 757.3L187.3 757.3L187.6 757.3L187.8 757.3L188.1 757.3L188.3 757.3L188.6 757.3L188.8 757.3L189.1 757.3L189.3 757.3L189.6 757.3L189.8 757.3L190.1 757.3L190.3 757.3L190.6 757.3L190.8 757.3L191.1 757.3L191.3 757.3L191.6 757.3L191.8 757.3L192.1 757.3L192.3 757.3L192.6 757.3L192.8 757.3L193.1 757.3L193.3 757.3L193.6 757.2L193.8 757.3L194.1 757.3L194.3 757.3L194.6 757.3L194.8 757.3L195.1 757.3L195.3 757.3L195.6 757.3L195.8 757.3L196.1 757.3L196.3 757.3L196.6 757.3L196.8 757.3L197.1 757.3L197.3 757.3L197.6 757.3L197.8 757.3L198.1 757.3L198.3 757.3L198.6 757.3L198.8 757.3L199.1 757.3L199.3 757.3L199.6 757.3L199.8 757.3L200.1 757.3L200.3 757.3L200.6 757.3L200.8 757.3L201.1 757.3L201.3 757.3L201.6 757.3L201.8 757.3L202.1 757.3L202.3 757.3L202.6 757.3L202.8 757.3L203.1 757.3L203.3 757.3L203.6 757.3L203.8 757.3L204.1 757.3L204.3 757.3L204.6 757.3L204.8 757.3L205.1 757.3L205.3 757.3L205.6 757.3L205.8 757.3L206.1 757.3L206.3 757.3L206.6 757.3L206.8 757.3L207.1 757.3L207.3 757.3L207.6 757.3L207.8 757.3L208.1 757.3L208.3 757.3L208.6 757.3L208.8 757.2L209.1 757.3L209.3 757.2L209.6 757.3L209.8 757.3L210.1 757.3L210.3 757.3L210.6 757.3L210.8 757.3L211.1 757.3L211.3 757.3L211.6 757.3L211.8 757.3L212.1 757.3L212.3 757.3L212.6 757.3L212.8 757.3L213.1 757.3L213.3 757.3L213.6 757.3L213.8 757.3L214.1 757.3L214.3 757.3L214.6 757.3L214.8 757.3L215.1 757.3L215.3 757.3L215.6 757.3L215.8 757.3L216.1 757.3L216.3 757.3L216.6 757.3L216.8 757.3L217.1 757.3L217.3 757.3L217.6 757.3L217.8 757.3L218.1 757.3L218.3 757.3L218.6 757.2L218.8 757.3L219.1 757.3L219.3 757.3L219.6 757.3L219.8 757.3L220.1 757.3L220.3 757.3L220.6 757.2L220.8 757.3L221.1 757.3L221.3 757.3L221.6 757.3L221.8 757.3L222.1 757.3L222.3 757.3L222.6 757.3L222.8 757.3L223.1 757.3L223.3 757.3L223.6 757.3L223.8 757.3L224.1 757.3L224.3 757.3L224.6 757.3L224.8 757.3L225.1 757.3L225.3 757.3L225.6 757.3L225.8 757.3L226.1 757.3L226.3 757.3L226.6 757.3L226.8 757.3L227.1 757.3L227.3 757.3L227.6 757.3L227.8 757.3L228.1 757.3L228.3 757.3L228.6 757.3L228.8 757.3L229.1 757.3L229.3 757.3L229.6 757.3L229.8 757.3L230.1 757.3L230.3 757.3L230.6 757.3L230.8 757.3L231.1 757.3L231.3 757.3L231.6 757.3L231.8 757.3L232.1 757.3L232.3 757.3L232.6 757.3L232.8 757.3L233.1 757.3L233.3 757.3L233.6 757.3L233.8 757.3L234.1 757.3L234.3 757.3L234.6 757.3L234.8 757.3L235.1 757.3L235.3 757.3L235.6 757.3L235.8 757.3L236.1 757.1L236.3 757.0L236.6 756.9L236.8 756.6L237.1 757.0L237.3 757.2L237.6 757.2L237.8 757.3L238.1 757.3L238.3 757.3L238.6 757.3L238.8 757.3L239.1 757.3L239.3 757.3L239.6 757.3L239.8 757.3L240.1 757.3L240.3 757.3L240.6 757.3L240.8 757.3L241.1 757.3L241.3 757.3L241.6 757.3L241.8 757.3L242.1 757.3L242.3 757.3L242.6 757.3L242.8 757.3L243.1 757.3L243.3 757.3L243.6 757.3L243.8 757.3L244.1 757.3L244.3 757.3L244.6 757.3L244.8 757.3L245.1 757.3L245.3 757.3L245.6 757.3L245.8 757.3L246.1 757.3L246.3 757.3L246.6 757.3L246.8 757.3L247.1 757.3L247.3 757.3L247.6 757.3L247.8 757.3L248.1 757.3L248.3 757.3L248.6 757.3L248.8 757.3L249.1 757.3L249.3 757.3L249.6 757.3L249.8 757.3L250.1 757.3L250.3 757.3L250.6 757.3L250.8 757.2L251.1 757.3L251.3 757.3L251.6 757.3L251.8 757.3L252.1 757.3L252.3 757.3L252.6 757.3L252.8 757.3L253.1 757.3L253.3 757.3L253.6 757.3L253.8 757.3L254.1 757.3L254.3 757.3L254.6 757.3L254.8 757.3L255.1 757.3L255.3 757.3L255.6 757.3L255.8 757.3L256.1 757.3L256.3 757.3L256.6 757.3L256.8 757.3L257.1 757.3L257.3 757.3L257.6 757.3L257.8 757.3L258.1 757.3L258.3 757.3L258.6 757.3L258.8 757.3L259.1 757.3L259.3 757.3L259.6 757.3L259.8 757.3L260.1 757.3L260.3 757.3L260.6 757.3L260.8 757.3L261.1 757.3L261.3 757.2L261.6 757.3L261.8 757.3L262.1 757.2L262.3 757.3L262.6 757.3L262.8 757.3L263.1 757.3L263.3 757.3L263.6 757.3L263.8 757.3L264.1 757.3L264.3 757.3L264.6 757.3L264.8 757.3L265.1 757.3L265.3 757.3L265.6 757.3L265.8 757.3L266.1 757.3L266.3 757.3L266.6 757.3L266.8 757.3L267.1 757.3L267.3 757.3L267.6 757.3L267.8 757.3L268.1 757.3L268.3 757.3L268.6 757.3L268.8 757.3L269.1 757.3L269.3 757.3L269.6 757.3L269.8 757.3L270.1 757.2L270.3 757.3L270.6 757.3L270.8 757.3L271.1 757.3L271.3 757.3L271.6 757.3L271.8 757.3L272.1 757.2L272.3 757.3L272.6 757.3L272.8 757.3L273.1 757.3L273.3 757.3L273.6 757.3L273.8 757.3L274.1 757.3L274.3 757.2L274.6 757.3L274.8 757.3L275.1 757.3L275.3 757.3L275.6 757.3L275.8 757.2L276.1 757.3L276.3 757.3L276.6 757.3L276.8 757.3L277.1 757.3L277.3 757.3L277.6 757.3L277.8 757.2L278.1 757.3L278.3 757.3L278.6 757.3L278.8 757.3L279.1 757.3L279.3 757.3L279.6 757.3L279.8 757.3L280.1 757.3L280.3 757.3L280.6 757.3L280.8 757.3L281.1 757.3L281.3 757.3L281.6 757.3L281.8 757.3L282.1 757.3L282.3 757.3L282.6 757.3L282.8 757.3L283.1 757.3L283.3 757.3L283.6 757.3L283.8 757.3L284.1 757.3L284.3 757.3L284.6 757.3L284.8 757.3L285.1 757.3L285.3 757.3L285.6 757.3L285.8 757.3L286.1 757.3L286.3 757.3L286.6 757.3L286.8 757.3L287.1 757.3L287.3 757.3L287.6 757.2L287.8 757.2L288.1 757.3L288.3 757.3L288.6 757.3L288.8 757.2L289.1 757.3L289.3 757.3L289.6 757.3L289.8 757.3L290.1 757.3L290.3 757.3L290.6 757.3L290.8 757.3L291.1 757.3L291.3 757.3L291.6 757.3L291.8 757.3L292.1 757.3L292.3 757.3L292.6 757.3L292.8 757.3L293.1 757.3L293.3 757.3L293.6 757.3L293.8 757.3L294.1 757.3L294.3 757.3L294.6 757.3L294.8 757.3L295.1 757.3L295.3 757.3L295.6 757.3L295.8 757.3L296.1 757.3L296.3 757.3L296.6 757.3L296.8 757.3L297.1 757.3L297.3 757.3L297.6 757.3L297.8 757.3L298.1 757.3L298.3 757.3L298.6 757.3L298.8 757.3L299.1 757.3L299.3 757.3L299.6 757.3L299.8 757.3L300.1 757.3L300.3 757.3L300.6 757.3L300.8 757.3L301.1 757.3L301.3 757.3L301.6 757.3L301.8 757.3L302.1 757.3L302.3 757.3L302.6 757.3L302.8 757.2L303.1 757.3L303.3 757.3L303.6 757.3L303.8 757.3L304.1 757.3L304.3 757.3L304.6 757.3L304.8 757.3L305.1 757.3L305.3 757.3L305.6 757.3L305.8 757.3L306.1 757.3L306.3 757.3L306.6 757.3L306.8 757.3L307.1 757.3L307.3 757.3L307.6 757.3L307.8 757.3L308.1 757.3L308.3 757.3L308.6 757.2L308.8 757.3L309.1 757.3L309.3 757.3L309.6 757.3L309.8 757.3L310.1 757.3L310.3 757.3L310.6 757.3L310.8 757.3L311.1 757.3L311.3 757.3L311.6 757.3L311.8 757.3L312.1 757.3L312.3 757.3L312.6 757.3L312.8 757.3L313.1 757.3L313.3 757.3L313.6 757.3L313.8 757.2L314.1 757.3L314.3 757.3L314.6 757.3L314.8 757.3L315.1 757.3L315.3 757.3L315.6 757.3L315.8 757.3L316.1 757.3L316.3 757.3L316.6 757.3L316.8 757.3L317.1 757.3L317.3 757.3L317.6 757.3L317.8 757.3L318.1 757.3L318.3 757.3L318.6 757.3L318.8 757.3L319.1 757.3L319.3 757.3L319.6 757.3L319.8 757.3L320.1 757.3L320.3 757.3L320.6 757.3L320.8 757.2L321.1 757.2L321.3 757.3L321.6 757.3L321.8 757.3L322.1 757.3L322.3 757.3L322.6 757.3L322.8 757.3L323.1 757.3L323.3 757.3L323.6 757.3L323.8 757.3L324.1 757.3L324.3 757.3L324.6 757.3L324.8 757.3L325.1 757.3L325.3 757.3L325.6 757.3L325.8 757.2L326.1 757.3L326.3 757.3L326.6 757.3L326.8 757.3L327.1 757.3L327.3 757.3L327.6 757.3L327.8 757.3L328.1 757.3L328.3 757.3L328.6 757.3L328.8 757.3L329.1 757.3L329.3 757.3L329.6 757.3L329.8 757.3L330.1 757.3L330.3 757.3L330.6 757.3L330.8 757.3L331.1 757.3L331.3 757.2L331.6 757.3L331.8 757.3L332.1 757.3L332.3 757.3L332.3 757.3Z" fill="#b3232b" opacity="1.0"/>
<line x1="343.80" y1="606.10" x2="511.30" y2="606.10" stroke="#9a9a9a" stroke-width="0.7"/>
<path d="M343.8 605.8L343.8 605.2L344.3 605.1L344.8 604.9L345.3 605.3L345.8 605.3L346.3 605.3L346.8 605.3L347.3 605.2L347.8 605.2L348.3 605.0L348.8 605.2L349.3 604.9L349.8 604.9L350.3 605.1L350.8 604.7L351.3 604.8L351.8 604.2L352.3 604.1L352.8 604.6L353.3 604.8L353.8 605.1L354.3 604.8L354.8 605.0L355.3 604.9L355.8 604.4L356.3 605.0L356.8 604.8L357.3 603.7L357.8 605.3L358.3 605.3L358.8 604.9L359.3 605.2L359.8 604.1L360.3 605.1L360.8 605.2L361.3 604.8L361.8 605.2L362.3 605.1L362.8 605.2L363.3 605.3L363.8 605.2L364.3 605.1L364.8 604.8L365.3 605.0L365.8 604.1L366.3 605.1L366.8 605.3L367.3 605.2L367.8 605.2L368.3 605.3L368.8 605.3L369.3 605.2L369.8 604.1L370.3 605.1L370.8 604.9L371.3 605.2L371.8 605.2L372.3 605.3L372.8 605.0L373.3 605.1L373.8 605.1L374.3 604.8L374.8 605.3L375.3 605.2L375.8 604.9L376.3 604.5L376.8 605.3L377.3 604.0L377.8 605.0L378.3 605.3L378.8 605.3L379.3 605.2L379.8 604.8L380.3 604.9L380.8 603.6L381.3 604.9L381.8 604.3L382.3 603.8L382.8 604.3L383.3 603.4L383.8 603.9L384.3 599.6L384.8 601.0L385.3 603.7L385.8 605.1L386.3 604.4L386.8 603.8L387.3 603.4L387.8 604.4L388.3 604.7L388.8 604.3L389.3 604.8L389.8 604.9L390.3 605.2L390.8 604.4L391.3 605.1L391.8 604.9L392.3 605.2L392.8 604.6L393.3 605.3L393.8 604.6L394.3 604.1L394.8 605.3L395.3 605.3L395.8 605.0L396.3 605.3L396.8 604.9L397.3 605.1L397.8 605.3L398.3 604.1L398.8 605.1L399.3 605.1L399.8 604.4L400.3 605.2L400.8 604.4L401.3 604.9L401.8 605.3L402.3 605.3L402.8 604.2L403.3 605.3L403.8 605.2L404.3 605.3L404.8 605.3L405.3 605.2L405.8 605.2L406.3 604.3L406.8 604.9L407.3 605.3L407.8 605.2L408.3 605.3L408.8 603.8L409.3 604.1L409.8 604.8L410.3 605.2L410.8 605.2L411.3 605.0L411.8 605.2L412.3 605.2L412.8 605.3L413.3 604.0L413.8 604.6L414.3 604.0L414.8 605.1L415.3 605.1L415.8 604.1L416.3 605.1L416.8 605.2L417.3 604.8L417.8 605.2L418.3 605.1L418.8 604.4L419.3 605.0L419.8 605.3L420.3 604.6L420.8 605.1L421.3 604.7L421.8 605.0L422.3 604.8L422.8 604.4L423.3 604.9L423.8 604.9L424.3 604.9L424.8 604.9L425.3 605.3L425.8 605.3L426.3 605.0L426.8 604.2L427.3 605.3L427.8 605.0L428.3 605.1L428.8 604.7L429.3 604.7L429.8 604.5L430.3 604.3L430.8 605.0L431.3 604.7L431.8 605.0L432.3 603.7L432.8 605.3L433.3 605.3L433.8 605.3L434.3 604.5L434.8 604.6L435.3 605.0L435.8 604.5L436.3 604.9L436.8 604.8L437.3 605.3L437.8 605.1L438.3 605.1L438.8 604.9L439.3 604.5L439.8 605.3L440.3 605.0L440.8 605.1L441.3 605.2L441.8 605.3L442.3 605.3L442.8 605.1L443.3 604.8L443.8 605.0L444.3 603.7L444.8 605.2L445.3 604.6L445.8 605.0L446.3 604.9L446.8 605.1L447.3 605.2L447.8 604.9L448.3 605.3L448.8 605.0L449.3 605.3L449.8 605.3L450.3 604.9L450.8 604.6L451.3 605.3L451.8 604.7L452.3 604.7L452.8 605.2L453.3 604.7L453.8 605.3L454.3 605.3L454.8 604.4L455.3 604.9L455.8 605.1L456.3 604.4L456.8 605.0L457.3 605.0L457.8 604.2L458.3 604.9L458.8 603.3L459.3 605.3L459.8 605.3L460.3 605.1L460.8 604.9L461.3 605.3L461.8 605.3L462.3 605.2L462.8 605.3L463.3 604.5L463.8 605.2L464.3 605.3L464.8 605.2L465.3 605.2L465.8 604.9L466.3 604.9L466.8 604.6L467.3 605.0L467.8 603.9L468.3 605.2L468.8 605.2L469.3 605.0L469.8 605.1L470.3 604.6L470.8 605.3L471.3 605.0L471.8 604.2L472.3 605.0L472.8 605.1L473.3 605.3L473.8 604.0L474.3 605.0L474.8 604.3L475.3 604.4L475.8 604.5L476.3 605.3L476.8 605.2L477.3 604.8L477.8 605.2L478.3 605.2L478.8 604.8L479.3 605.0L479.8 605.1L480.3 605.1L480.8 605.2L481.3 605.3L481.8 603.9L482.3 604.8L482.8 605.2L483.3 605.2L483.8 604.9L484.3 605.0L484.8 605.3L485.3 605.3L485.8 605.1L486.3 604.6L486.8 604.9L487.3 604.9L487.8 604.9L488.3 605.3L488.8 605.0L489.3 604.9L489.8 605.2L490.3 605.2L490.8 605.3L491.3 605.3L491.8 604.4L492.3 605.1L492.8 605.3L493.3 605.1L493.8 604.7L494.3 605.2L494.8 605.2L495.3 604.7L495.8 605.3L496.3 605.3L496.8 604.2L497.3 605.2L497.8 605.0L498.3 604.9L498.8 605.2L499.3 605.3L499.8 605.3L500.3 603.9L500.8 605.3L501.3 605.3L501.8 605.1L502.3 604.8L502.8 605.0L503.3 604.8L503.8 604.2L504.3 604.8L504.8 605.2L505.3 605.1L505.8 605.3L506.3 605.0L506.8 604.9L507.3 604.8L507.8 605.3L508.3 604.7L508.8 605.3L509.3 604.0L509.8 605.1L510.3 604.9L510.8 604.3L511.3 605.2L511.3 605.8Z" fill="#7f6c10" opacity="1.0"/>
<line x1="343.80" y1="621.50" x2="511.30" y2="621.50" stroke="#9a9a9a" stroke-width="0.7"/>
<path d="M343.8 621.2L343.8 621.2L344.3 620.7L344.8 621.2L345.3 621.2L345.8 621.1L346.3 621.1L346.8 621.2L347.3 621.1L347.8 620.7L348.3 621.1L348.8 621.2L349.3 621.2L349.8 621.2L350.3 621.2L350.8 621.1L351.3 621.2L351.8 621.0L352.3 620.9L352.8 621.2L353.3 621.1L353.8 621.2L354.3 620.9L354.8 620.9L355.3 620.9L355.8 621.2L356.3 621.2L356.8 621.2L357.3 620.9L357.8 621.2L358.3 621.1L358.8 621.2L359.3 621.1L359.8 621.1L360.3 621.2L360.8 621.2L361.3 621.2L361.8 621.2L362.3 620.7L362.8 621.2L363.3 621.2L363.8 621.0L364.3 621.2L364.8 621.1L365.3 621.0L365.8 621.2L366.3 621.2L366.8 621.2L367.3 621.0L367.8 621.2L368.3 621.0L368.8 621.2L369.3 621.2L369.8 621.1L370.3 621.2L370.8 620.9L371.3 621.2L371.8 621.0L372.3 621.1L372.8 621.2L373.3 621.2L373.8 621.1L374.3 621.2L374.8 621.2L375.3 621.0L375.8 621.1L376.3 621.0L376.8 621.2L377.3 620.9L377.8 621.2L378.3 621.2L378.8 621.1L379.3 621.1L379.8 621.0L380.3 621.2L380.8 620.8L381.3 621.2L381.8 621.1L382.3 621.1L382.8 621.1L383.3 621.1L383.8 620.9L384.3 620.8L384.8 620.8L385.3 620.7L385.8 620.9L386.3 620.8L386.8 621.1L387.3 621.2L387.8 621.2L388.3 621.2L388.8 621.0L389.3 621.1L389.8 621.1L390.3 621.2L390.8 621.2L391.3 621.2L391.8 621.0L392.3 621.0L392.8 621.2L393.3 621.2L393.8 621.2L394.3 621.1L394.8 621.1L395.3 621.2L395.8 621.2L396.3 620.4L396.8 621.1L397.3 621.2L397.8 621.2L398.3 621.0L398.8 621.2L399.3 621.2L399.8 621.1L400.3 620.9L400.8 621.2L401.3 621.2L401.8 621.2L402.3 621.2L402.8 621.0L403.3 621.2L403.8 621.0L404.3 621.2L404.8 621.2L405.3 621.2L405.8 621.2L406.3 621.2L406.8 621.1L407.3 621.2L407.8 621.0L408.3 620.9L408.8 621.2L409.3 620.9L409.8 621.2L410.3 621.2L410.8 621.0L411.3 621.2L411.8 621.2L412.3 621.2L412.8 621.2L413.3 621.1L413.8 621.1L414.3 621.1L414.8 621.2L415.3 621.2L415.8 621.1L416.3 621.2L416.8 621.2L417.3 621.2L417.8 621.0L418.3 621.0L418.8 620.8L419.3 620.1L419.8 619.9L420.3 619.8L420.8 620.5L421.3 620.9L421.8 620.5L422.3 619.1L422.8 618.6L423.3 617.6L423.8 619.9L424.3 620.1L424.8 620.7L425.3 619.7L425.8 619.4L426.3 619.3L426.8 620.0L427.3 620.7L427.8 621.0L428.3 621.2L428.8 620.9L429.3 621.0L429.8 621.2L430.3 621.1L430.8 621.1L431.3 621.1L431.8 621.1L432.3 621.1L432.8 621.1L433.3 621.2L433.8 621.1L434.3 621.2L434.8 621.2L435.3 621.2L435.8 621.0L436.3 621.2L436.8 621.1L437.3 621.1L437.8 621.2L438.3 621.1L438.8 620.0L439.3 621.1L439.8 621.2L440.3 621.1L440.8 621.2L441.3 620.6L441.8 621.1L442.3 620.8L442.8 621.2L443.3 621.2L443.8 621.2L444.3 621.2L444.8 621.2L445.3 621.1L445.8 621.2L446.3 621.2L446.8 621.2L447.3 621.2L447.8 621.1L448.3 621.2L448.8 621.2L449.3 621.1L449.8 621.0L450.3 621.1L450.8 621.1L451.3 621.2L451.8 621.2L452.3 621.2L452.8 621.2L453.3 621.2L453.8 621.2L454.3 620.9L454.8 621.0L455.3 621.2L455.8 621.2L456.3 621.2L456.8 621.1L457.3 621.2L457.8 621.2L458.3 621.0L458.8 621.2L459.3 621.2L459.8 621.2L460.3 621.2L460.8 621.2L461.3 621.2L461.8 621.1L462.3 621.1L462.8 621.0L463.3 621.2L463.8 620.8L464.3 621.2L464.8 621.2L465.3 620.8L465.8 621.1L466.3 620.8L466.8 620.9L467.3 621.1L467.8 620.9L468.3 621.2L468.8 621.1L469.3 621.2L469.8 621.1L470.3 621.2L470.8 620.8L471.3 621.1L471.8 621.2L472.3 620.9L472.8 621.1L473.3 620.8L473.8 621.2L474.3 620.6L474.8 621.1L475.3 620.9L475.8 621.2L476.3 621.2L476.8 621.2L477.3 621.2L477.8 621.2L478.3 621.1L478.8 621.2L479.3 620.9L479.8 621.2L480.3 621.2L480.8 621.2L481.3 621.0L481.8 621.0L482.3 621.2L482.8 621.2L483.3 620.9L483.8 621.1L484.3 621.2L484.8 621.2L485.3 621.0L485.8 621.2L486.3 621.1L486.8 621.2L487.3 621.2L487.8 621.1L488.3 621.2L488.8 621.2L489.3 620.8L489.8 620.8L490.3 621.0L490.8 621.2L491.3 621.2L491.8 621.2L492.3 621.2L492.8 621.1L493.3 621.2L493.8 621.1L494.3 620.7L494.8 621.2L495.3 621.2L495.8 621.2L496.3 621.2L496.8 620.8L497.3 621.1L497.8 621.2L498.3 621.2L498.8 621.2L499.3 621.1L499.8 621.2L500.3 621.2L500.8 621.1L501.3 621.2L501.8 621.2L502.3 621.0L502.8 621.2L503.3 621.2L503.8 621.2L504.3 621.2L504.8 621.2L505.3 621.0L505.8 620.6L506.3 621.2L506.8 620.4L507.3 621.0L507.8 621.2L508.3 621.2L508.8 621.2L509.3 621.2L509.8 621.2L510.3 621.0L510.8 621.0L511.3 621.2L511.3 621.2Z" fill="#4e9aa2" opacity="1.0"/>
<line x1="343.80" y1="636.90" x2="511.30" y2="636.90" stroke="#9a9a9a" stroke-width="0.7"/>
<path d="M343.8 636.6L343.8 636.3L344.3 636.3L344.8 636.6L345.3 636.6L345.8 636.6L346.3 636.6L346.8 636.4L347.3 636.6L347.8 636.6L348.3 636.3L348.8 636.5L349.3 636.3L349.8 636.6L350.3 636.4L350.8 636.5L351.3 636.5L351.8 636.3L352.3 636.6L352.8 636.6L353.3 636.6L353.8 636.5L354.3 636.4L354.8 636.5L355.3 636.6L355.8 636.4L356.3 636.5L356.8 636.2L357.3 636.3L357.8 636.2L358.3 636.1L358.8 636.0L359.3 635.9L359.8 635.8L360.3 635.9L360.8 635.9L361.3 636.0L361.8 636.3L362.3 636.3L362.8 636.4L363.3 636.5L363.8 636.5L364.3 636.5L364.8 636.6L365.3 636.5L365.8 636.4L366.3 636.5L366.8 636.3L367.3 636.3L367.8 636.2L368.3 636.5L368.8 636.6L369.3 636.4L369.8 636.5L370.3 636.5L370.8 636.6L371.3 636.6L371.8 636.6L372.3 636.6L372.8 636.6L373.3 636.5L373.8 636.0L374.3 636.5L374.8 636.6L375.3 636.6L375.8 636.3L376.3 636.6L376.8 636.5L377.3 636.6L377.8 636.4L378.3 636.6L378.8 636.6L379.3 636.6L379.8 636.6L380.3 636.6L380.8 635.8L381.3 636.6L381.8 636.6L382.3 636.6L382.8 636.6L383.3 636.3L383.8 636.3L384.3 635.4L384.8 633.2L385.3 632.8L385.8 632.9L386.3 634.8L386.8 634.8L387.3 633.8L387.8 635.6L388.3 635.9L388.8 636.0L389.3 636.4L389.8 636.4L390.3 636.2L390.8 636.6L391.3 636.4L391.8 636.6L392.3 636.4L392.8 636.5L393.3 636.5L393.8 636.0L394.3 636.4L394.8 636.6L395.3 635.7L395.8 636.6L396.3 636.4L396.8 636.5L397.3 636.1L397.8 636.6L398.3 636.6L398.8 636.5L399.3 636.5L399.8 636.5L400.3 636.6L400.8 636.5L401.3 636.4L401.8 636.2L402.3 636.6L402.8 636.3L403.3 636.5L403.8 636.6L404.3 636.6L404.8 635.8L405.3 636.5L405.8 636.4L406.3 636.5L406.8 636.5L407.3 636.5L407.8 636.6L408.3 636.3L408.8 636.6L409.3 636.6L409.8 636.6L410.3 636.2L410.8 636.6L411.3 636.6L411.8 636.4L412.3 636.4L412.8 636.6L413.3 636.6L413.8 636.6L414.3 636.6L414.8 636.6L415.3 636.6L415.8 636.5L416.3 636.5L416.8 636.6L417.3 636.4L417.8 636.5L418.3 636.6L418.8 636.6L419.3 636.5L419.8 636.4L420.3 636.6L420.8 636.4L421.3 636.4L421.8 635.6L422.3 634.1L422.8 631.6L423.3 632.0L423.8 634.5L424.3 634.6L424.8 634.3L425.3 634.5L425.8 635.4L426.3 636.2L426.8 636.1L427.3 636.6L427.8 636.6L428.3 636.6L428.8 636.4L429.3 636.3L429.8 636.5L430.3 636.4L430.8 636.6L431.3 636.6L431.8 636.5L432.3 636.6L432.8 636.6L433.3 635.9L433.8 636.6L434.3 636.6L434.8 636.6L435.3 636.1L435.8 636.6L436.3 636.5L436.8 636.6L437.3 636.5L437.8 636.5L438.3 636.6L438.8 636.4L439.3 636.6L439.8 636.6L440.3 636.6L440.8 636.6L441.3 636.6L441.8 636.6L442.3 636.3L442.8 636.5L443.3 636.4L443.8 636.1L444.3 636.6L444.8 635.7L445.3 636.6L445.8 636.6L446.3 636.6L446.8 636.6L447.3 636.4L447.8 636.6L448.3 636.6L448.8 636.6L449.3 636.6L449.8 636.6L450.3 636.6L450.8 636.6L451.3 636.6L451.8 636.2L452.3 636.6L452.8 636.6L453.3 636.6L453.8 636.6L454.3 636.6L454.8 636.2L455.3 636.6L455.8 636.2L456.3 636.4L456.8 636.5L457.3 636.6L457.8 636.6L458.3 636.5L458.8 636.6L459.3 636.6L459.8 636.5L460.3 636.4L460.8 636.6L461.3 636.6L461.8 636.4L462.3 636.6L462.8 636.6L463.3 636.6L463.8 636.5L464.3 636.5L464.8 636.4L465.3 636.6L465.8 636.5L466.3 636.5L466.8 636.4L467.3 636.3L467.8 636.3L468.3 636.3L468.8 636.2L469.3 636.1L469.8 636.1L470.3 636.0L470.8 635.9L471.3 636.0L471.8 636.1L472.3 636.2L472.8 636.3L473.3 636.4L473.8 636.4L474.3 636.6L474.8 636.6L475.3 636.4L475.8 636.5L476.3 636.6L476.8 636.6L477.3 636.6L477.8 636.4L478.3 636.5L478.8 636.0L479.3 636.3L479.8 636.5L480.3 636.6L480.8 636.6L481.3 636.0L481.8 636.6L482.3 636.5L482.8 636.2L483.3 636.6L483.8 636.6L484.3 636.1L484.8 636.6L485.3 636.6L485.8 636.6L486.3 636.4L486.8 636.6L487.3 636.6L487.8 636.5L488.3 636.6L488.8 636.6L489.3 636.6L489.8 636.6L490.3 636.4L490.8 636.4L491.3 636.3L491.8 636.5L492.3 636.4L492.8 636.6L493.3 636.2L493.8 636.5L494.3 636.3L494.8 636.1L495.3 636.4L495.8 636.6L496.3 636.4L496.8 636.6L497.3 636.6L497.8 636.2L498.3 636.6L498.8 636.6L499.3 636.3L499.8 636.6L500.3 636.4L500.8 636.5L501.3 636.6L501.8 636.5L502.3 636.6L502.8 636.6L503.3 636.6L503.8 636.6L504.3 636.5L504.8 636.5L505.3 636.4L505.8 636.6L506.3 636.5L506.8 636.5L507.3 636.6L507.8 636.6L508.3 636.6L508.8 636.0L509.3 636.0L509.8 636.4L510.3 636.5L510.8 636.5L511.3 636.5L511.3 636.6Z" fill="#7cc63a" opacity="1.0"/>
<line x1="343.80" y1="652.50" x2="511.30" y2="652.50" stroke="#9a9a9a" stroke-width="0.7"/>
<path d="M343.8 652.2L343.8 652.2L344.3 652.1L344.8 652.0L345.3 651.8L345.8 652.2L346.3 652.2L346.8 652.2L347.3 652.2L347.8 651.8L348.3 652.2L348.8 651.5L349.3 652.2L349.8 652.0L350.3 652.0L350.8 651.7L351.3 651.6L351.8 651.0L352.3 650.9L352.8 651.6L353.3 651.8L353.8 652.0L354.3 651.8L354.8 652.1L355.3 652.2L355.8 651.9L356.3 652.2L356.8 652.2L357.3 652.2L357.8 652.1L358.3 652.0L358.8 651.6L359.3 651.4L359.8 651.4L360.3 651.5L360.8 651.4L361.3 651.7L361.8 651.5L362.3 652.1L362.8 652.2L363.3 652.2L363.8 652.2L364.3 652.1L364.8 652.1L365.3 651.9L365.8 652.2L366.3 652.2L366.8 652.2L367.3 651.8L367.8 652.2L368.3 652.2L368.8 652.2L369.3 652.2L369.8 652.2L370.3 651.5L370.8 652.0L371.3 652.1L371.8 652.2L372.3 652.2L372.8 652.1L373.3 651.5L373.8 652.1L374.3 651.8L374.8 652.2L375.3 652.2L375.8 651.8L376.3 652.2L376.8 652.2L377.3 652.2L377.8 652.2L378.3 652.2L378.8 652.2L379.3 651.7L379.8 652.1L380.3 652.0L380.8 652.0L381.3 651.8L381.8 651.8L382.3 651.4L382.8 650.0L383.3 649.4L383.8 649.2L384.3 650.8L384.8 648.0L385.3 642.1L385.8 648.8L386.3 646.3L386.8 647.1L387.3 648.8L387.8 650.6L388.3 651.7L388.8 652.0L389.3 652.2L389.8 652.0L390.3 652.2L390.8 652.2L391.3 652.2L391.8 652.2L392.3 652.2L392.8 652.2L393.3 652.2L393.8 652.1L394.3 652.2L394.8 652.1L395.3 652.1L395.8 652.2L396.3 652.2L396.8 652.2L397.3 651.8L397.8 652.2L398.3 652.2L398.8 652.1L399.3 652.2L399.8 652.2L400.3 651.6L400.8 651.4L401.3 652.1L401.8 652.2L402.3 651.9L402.8 651.9L403.3 652.1L403.8 652.1L404.3 652.2L404.8 652.1L405.3 651.3L405.8 652.1L406.3 652.2L406.8 652.2L407.3 652.2L407.8 651.8L408.3 652.1L408.8 652.2L409.3 652.2L409.8 652.2L410.3 652.2L410.8 651.7L411.3 652.2L411.8 652.2L412.3 652.2L412.8 652.2L413.3 652.2L413.8 652.1L414.3 652.0L414.8 652.2L415.3 651.9L415.8 652.0L416.3 652.2L416.8 652.2L417.3 652.2L417.8 652.2L418.3 652.0L418.8 652.2L419.3 652.2L419.8 652.2L420.3 652.2L420.8 652.1L421.3 652.2L421.8 651.8L422.3 649.5L422.8 642.6L423.3 645.2L423.8 648.6L424.3 648.4L424.8 646.2L425.3 648.1L425.8 649.1L426.3 651.1L426.8 652.0L427.3 652.2L427.8 652.1L428.3 652.1L428.8 652.1L429.3 651.6L429.8 650.3L430.3 649.6L430.8 648.9L431.3 651.0L431.8 652.0L432.3 652.2L432.8 652.2L433.3 652.2L433.8 652.2L434.3 652.2L434.8 652.2L435.3 652.2L435.8 652.0L436.3 652.2L436.8 652.1L437.3 651.8L437.8 652.1L438.3 652.2L438.8 652.2L439.3 652.1L439.8 651.9L440.3 652.2L440.8 652.2L441.3 651.8L441.8 652.2L442.3 652.0L442.8 652.2L443.3 652.2L443.8 652.2L444.3 651.9L444.8 652.2L445.3 652.2L445.8 652.2L446.3 652.2L446.8 652.2L447.3 652.0L447.8 651.9L448.3 652.2L448.8 652.2L449.3 652.2L449.8 652.2L450.3 651.9L450.8 652.1L451.3 652.2L451.8 652.2L452.3 651.5L452.8 652.2L453.3 652.1L453.8 652.0L454.3 652.1L454.8 652.2L455.3 652.2L455.8 652.1L456.3 651.8L456.8 652.1L457.3 651.6L457.8 652.2L458.3 652.2L458.8 652.2L459.3 651.7L459.8 652.2L460.3 652.2L460.8 652.1L461.3 652.2L461.8 652.2L462.3 651.8L462.8 652.0L463.3 652.0L463.8 652.1L464.3 652.1L464.8 652.2L465.3 651.9L465.8 651.4L466.3 652.2L466.8 652.2L467.3 652.1L467.8 652.2L468.3 652.2L468.8 651.5L469.3 652.2L469.8 652.2L470.3 652.0L470.8 652.2L471.3 652.2L471.8 652.0L472.3 652.1L472.8 652.0L473.3 652.0L473.8 652.2L474.3 651.9L474.8 652.2L475.3 652.1L475.8 652.2L476.3 652.0L476.8 652.0L477.3 652.2L477.8 652.2L478.3 652.0L478.8 652.2L479.3 652.2L479.8 652.1L480.3 652.2L480.8 652.1L481.3 652.2L481.8 651.8L482.3 652.2L482.8 652.2L483.3 651.6L483.8 652.2L484.3 652.2L484.8 652.2L485.3 651.5L485.8 652.2L486.3 652.2L486.8 652.2L487.3 651.7L487.8 652.1L488.3 652.0L488.8 651.8L489.3 652.2L489.8 652.2L490.3 652.2L490.8 652.1L491.3 652.2L491.8 652.0L492.3 652.1L492.8 652.1L493.3 652.0L493.8 651.7L494.3 651.7L494.8 651.4L495.3 651.1L495.8 650.5L496.3 650.4L496.8 651.1L497.3 650.7L497.8 650.4L498.3 651.0L498.8 651.2L499.3 651.4L499.8 651.2L500.3 651.7L500.8 651.7L501.3 652.1L501.8 652.1L502.3 651.3L502.8 652.2L503.3 652.2L503.8 652.2L504.3 652.0L504.8 652.2L505.3 652.2L505.8 652.1L506.3 652.2L506.8 652.2L507.3 652.1L507.8 652.2L508.3 652.2L508.8 652.2L509.3 651.5L509.8 651.9L510.3 652.2L510.8 652.2L511.3 652.2L511.3 652.2Z" fill="#3f8a1e" opacity="1.0"/>
<line x1="343.80" y1="668.30" x2="511.30" y2="668.30" stroke="#9a9a9a" stroke-width="0.7"/>
<path d="M343.8 668.0L343.8 668.0L344.3 668.0L344.8 668.0L345.3 668.0L345.8 668.0L346.3 668.0L346.8 668.0L347.3 668.0L347.8 668.0L348.3 668.0L348.8 668.0L349.3 667.9L349.8 668.0L350.3 667.9L350.8 668.0L351.3 668.0L351.8 668.0L352.3 667.9L352.8 668.0L353.3 668.0L353.8 668.0L354.3 668.0L354.8 668.0L355.3 667.9L355.8 668.0L356.3 668.0L356.8 668.0L357.3 668.0L357.8 668.0L358.3 668.0L358.8 668.0L359.3 668.0L359.8 668.0L360.3 668.0L360.8 668.0L361.3 668.0L361.8 668.0L362.3 668.0L362.8 668.0L363.3 668.0L363.8 667.9L364.3 668.0L364.8 668.0L365.3 667.9L365.8 668.0L366.3 668.0L366.8 667.9L367.3 668.0L367.8 668.0L368.3 668.0L368.8 667.9L369.3 668.0L369.8 668.0L370.3 668.0L370.8 668.0L371.3 667.9L371.8 668.0L372.3 668.0L372.8 668.0L373.3 668.0L373.8 668.0L374.3 668.0L374.8 668.0L375.3 668.0L375.8 668.0L376.3 668.0L376.8 668.0L377.3 668.0L377.8 668.0L378.3 668.0L378.8 668.0L379.3 668.0L379.8 668.0L380.3 668.0L380.8 668.0L381.3 668.0L381.8 668.0L382.3 668.0L382.8 668.0L383.3 668.0L383.8 667.9L384.3 667.9L384.8 667.1L385.3 665.4L385.8 664.9L386.3 667.0L386.8 667.9L387.3 668.0L387.8 668.0L388.3 668.0L388.8 668.0L389.3 668.0L389.8 667.9L390.3 668.0L390.8 668.0L391.3 668.0L391.8 668.0L392.3 668.0L392.8 668.0L393.3 668.0L393.8 668.0L394.3 668.0L394.8 668.0L395.3 668.0L395.8 668.0L396.3 668.0L396.8 668.0L397.3 668.0L397.8 668.0L398.3 668.0L398.8 668.0L399.3 668.0L399.8 668.0L400.3 668.0L400.8 668.0L401.3 668.0L401.8 668.0L402.3 668.0L402.8 668.0L403.3 668.0L403.8 668.0L404.3 668.0L404.8 668.0L405.3 668.0L405.8 668.0L406.3 668.0L406.8 668.0L407.3 668.0L407.8 668.0L408.3 668.0L408.8 668.0L409.3 668.0L409.8 668.0L410.3 668.0L410.8 668.0L411.3 668.0L411.8 668.0L412.3 668.0L412.8 668.0L413.3 668.0L413.8 668.0L414.3 668.0L414.8 667.9L415.3 668.0L415.8 668.0L416.3 668.0L416.8 668.0L417.3 668.0L417.8 668.0L418.3 667.9L418.8 668.0L419.3 668.0L419.8 668.0L420.3 668.0L420.8 668.0L421.3 668.0L421.8 668.0L422.3 667.9L422.8 668.0L423.3 668.0L423.8 667.9L424.3 668.0L424.8 668.0L425.3 668.0L425.8 668.0L426.3 668.0L426.8 668.0L427.3 668.0L427.8 668.0L428.3 668.0L428.8 668.0L429.3 668.0L429.8 668.0L430.3 668.0L430.8 668.0L431.3 668.0L431.8 668.0L432.3 667.9L432.8 668.0L433.3 668.0L433.8 667.9L434.3 668.0L434.8 668.0L435.3 668.0L435.8 668.0L436.3 668.0L436.8 668.0L437.3 668.0L437.8 667.9L438.3 667.9L438.8 668.0L439.3 668.0L439.8 668.0L440.3 667.9L440.8 668.0L441.3 668.0L441.8 667.9L442.3 668.0L442.8 668.0L443.3 668.0L443.8 668.0L444.3 668.0L444.8 667.9L445.3 668.0L445.8 668.0L446.3 668.0L446.8 668.0L447.3 668.0L447.8 668.0L448.3 668.0L448.8 667.9L449.3 668.0L449.8 668.0L450.3 668.0L450.8 667.9L451.3 668.0L451.8 668.0L452.3 668.0L452.8 668.0L453.3 667.9L453.8 668.0L454.3 668.0L454.8 668.0L455.3 668.0L455.8 668.0L456.3 668.0L456.8 668.0L457.3 668.0L457.8 667.9L458.3 668.0L458.8 668.0L459.3 667.9L459.8 667.9L460.3 668.0L460.8 668.0L461.3 668.0L461.8 668.0L462.3 668.0L462.8 667.9L463.3 668.0L463.8 668.0L464.3 668.0L464.8 668.0L465.3 668.0L465.8 668.0L466.3 668.0L466.8 668.0L467.3 668.0L467.8 668.0L468.3 668.0L468.8 668.0L469.3 668.0L469.8 668.0L470.3 667.9L470.8 668.0L471.3 667.9L471.8 668.0L472.3 668.0L472.8 668.0L473.3 668.0L473.8 668.0L474.3 667.9L474.8 668.0L475.3 668.0L475.8 667.9L476.3 668.0L476.8 667.9L477.3 668.0L477.8 668.0L478.3 668.0L478.8 668.0L479.3 668.0L479.8 668.0L480.3 668.0L480.8 668.0L481.3 668.0L481.8 668.0L482.3 668.0L482.8 668.0L483.3 668.0L483.8 668.0L484.3 668.0L484.8 668.0L485.3 668.0L485.8 668.0L486.3 668.0L486.8 668.0L487.3 668.0L487.8 668.0L488.3 668.0L488.8 668.0L489.3 667.9L489.8 668.0L490.3 668.0L490.8 668.0L491.3 668.0L491.8 668.0L492.3 667.9L492.8 667.9L493.3 668.0L493.8 668.0L494.3 668.0L494.8 668.0L495.3 668.0L495.8 668.0L496.3 668.0L496.8 668.0L497.3 668.0L497.8 668.0L498.3 668.0L498.8 668.0L499.3 668.0L499.8 668.0L500.3 668.0L500.8 668.0L501.3 668.0L501.8 668.0L502.3 668.0L502.8 668.0L503.3 668.0L503.8 668.0L504.3 668.0L504.8 668.0L505.3 668.0L505.8 668.0L506.3 668.0L506.8 667.9L507.3 668.0L507.8 668.0L508.3 668.0L508.8 668.0L509.3 668.0L509.8 668.0L510.3 668.0L510.8 668.0L511.3 668.0L511.3 668.0Z" fill="#2f7d3e" opacity="1.0"/>
<line x1="343.80" y1="683.30" x2="511.30" y2="683.30" stroke="#9a9a9a" stroke-width="0.7"/>
<path d="M343.8 683.0L343.8 683.0L344.3 683.0L344.8 683.0L345.3 683.0L345.8 683.0L346.3 683.0L346.8 683.0L347.3 683.0L347.8 683.0L348.3 683.0L348.8 683.0L349.3 683.0L349.8 683.0L350.3 683.0L350.8 683.0L351.3 683.0L351.8 683.0L352.3 683.0L352.8 683.0L353.3 683.0L353.8 683.0L354.3 683.0L354.8 683.0L355.3 683.0L355.8 683.0L356.3 683.0L356.8 683.0L357.3 682.9L357.8 683.0L358.3 682.9L358.8 683.0L359.3 683.0L359.8 683.0L360.3 683.0L360.8 683.0L361.3 683.0L361.8 683.0L362.3 683.0L362.8 683.0L363.3 683.0L363.8 683.0L364.3 683.0L364.8 683.0L365.3 683.0L365.8 683.0L366.3 683.0L366.8 683.0L367.3 683.0L367.8 683.0L368.3 683.0L368.8 683.0L369.3 683.0L369.8 683.0L370.3 683.0L370.8 683.0L371.3 683.0L371.8 683.0L372.3 683.0L372.8 682.9L373.3 683.0L373.8 683.0L374.3 683.0L374.8 683.0L375.3 683.0L375.8 683.0L376.3 683.0L376.8 683.0L377.3 683.0L377.8 683.0L378.3 683.0L378.8 683.0L379.3 683.0L379.8 682.8L380.3 683.0L380.8 683.0L381.3 683.0L381.8 683.0L382.3 683.0L382.8 683.0L383.3 683.0L383.8 683.0L384.3 683.0L384.8 682.3L385.3 680.8L385.8 680.2L386.3 682.4L386.8 682.9L387.3 682.9L387.8 683.0L388.3 683.0L388.8 683.0L389.3 683.0L389.8 683.0L390.3 683.0L390.8 683.0L391.3 683.0L391.8 683.0L392.3 683.0L392.8 683.0L393.3 683.0L393.8 683.0L394.3 683.0L394.8 683.0L395.3 683.0L395.8 683.0L396.3 683.0L396.8 683.0L397.3 683.0L397.8 683.0L398.3 683.0L398.8 683.0L399.3 683.0L399.8 683.0L400.3 683.0L400.8 683.0L401.3 683.0L401.8 682.9L402.3 683.0L402.8 683.0L403.3 683.0L403.8 683.0L404.3 682.9L404.8 683.0L405.3 683.0L405.8 682.9L406.3 683.0L406.8 683.0L407.3 683.0L407.8 682.9L408.3 683.0L408.8 683.0L409.3 683.0L409.8 682.9L410.3 682.9L410.8 683.0L411.3 683.0L411.8 683.0L412.3 682.9L412.8 683.0L413.3 683.0L413.8 683.0L414.3 683.0L414.8 682.9L415.3 683.0L415.8 682.9L416.3 683.0L416.8 683.0L417.3 683.0L417.8 683.0L418.3 682.9L418.8 683.0L419.3 683.0L419.8 683.0L420.3 683.0L420.8 683.0L421.3 683.0L421.8 683.0L422.3 683.0L422.8 683.0L423.3 683.0L423.8 683.0L424.3 683.0L424.8 683.0L425.3 683.0L425.8 683.0L426.3 683.0L426.8 683.0L427.3 683.0L427.8 683.0L428.3 683.0L428.8 683.0L429.3 683.0L429.8 683.0L430.3 683.0L430.8 683.0L431.3 683.0L431.8 683.0L432.3 683.0L432.8 683.0L433.3 683.0L433.8 683.0L434.3 683.0L434.8 683.0L435.3 683.0L435.8 683.0L436.3 683.0L436.8 683.0L437.3 683.0L437.8 683.0L438.3 683.0L438.8 683.0L439.3 683.0L439.8 683.0L440.3 682.9L440.8 683.0L441.3 683.0L441.8 683.0L442.3 683.0L442.8 683.0L443.3 683.0L443.8 683.0L444.3 683.0L444.8 683.0L445.3 683.0L445.8 683.0L446.3 683.0L446.8 683.0L447.3 683.0L447.8 683.0L448.3 683.0L448.8 683.0L449.3 683.0L449.8 683.0L450.3 683.0L450.8 683.0L451.3 683.0L451.8 683.0L452.3 682.9L452.8 683.0L453.3 683.0L453.8 683.0L454.3 682.8L454.8 683.0L455.3 683.0L455.8 683.0L456.3 683.0L456.8 683.0L457.3 683.0L457.8 682.9L458.3 683.0L458.8 683.0L459.3 683.0L459.8 682.9L460.3 683.0L460.8 682.9L461.3 683.0L461.8 683.0L462.3 683.0L462.8 683.0L463.3 683.0L463.8 683.0L464.3 683.0L464.8 683.0L465.3 682.9L465.8 683.0L466.3 683.0L466.8 683.0L467.3 682.9L467.8 683.0L468.3 683.0L468.8 683.0L469.3 683.0L469.8 683.0L470.3 683.0L470.8 682.9L471.3 683.0L471.8 683.0L472.3 682.9L472.8 683.0L473.3 683.0L473.8 683.0L474.3 683.0L474.8 683.0L475.3 683.0L475.8 682.8L476.3 683.0L476.8 683.0L477.3 683.0L477.8 683.0L478.3 682.9L478.8 683.0L479.3 683.0L479.8 683.0L480.3 683.0L480.8 683.0L481.3 683.0L481.8 683.0L482.3 683.0L482.8 683.0L483.3 683.0L483.8 683.0L484.3 682.9L484.8 682.9L485.3 683.0L485.8 683.0L486.3 683.0L486.8 682.9L487.3 683.0L487.8 683.0L488.3 683.0L488.8 682.9L489.3 683.0L489.8 683.0L490.3 683.0L490.8 683.0L491.3 683.0L491.8 683.0L492.3 682.9L492.8 683.0L493.3 683.0L493.8 683.0L494.3 683.0L494.8 683.0L495.3 683.0L495.8 683.0L496.3 683.0L496.8 683.0L497.3 683.0L497.8 683.0L498.3 683.0L498.8 683.0L499.3 682.9L499.8 683.0L500.3 682.9L500.8 682.9L501.3 683.0L501.8 682.9L502.3 683.0L502.8 683.0L503.3 683.0L503.8 683.0L504.3 682.9L504.8 683.0L505.3 682.9L505.8 683.0L506.3 683.0L506.8 683.0L507.3 683.0L507.8 683.0L508.3 683.0L508.8 683.0L509.3 683.0L509.8 683.0L510.3 683.0L510.8 683.0L511.3 683.0L511.3 683.0Z" fill="#2d6e1c" opacity="1.0"/>
<line x1="343.80" y1="697.90" x2="511.30" y2="697.90" stroke="#9aaaa0" stroke-width="0.6"/>
<line x1="343.80" y1="742.70" x2="511.30" y2="742.70" stroke="#9a9a9a" stroke-width="0.7"/>
<path d="M343.8 742.4L343.8 742.4L344.1 742.4L344.3 742.4L344.6 742.4L344.8 742.4L345.1 742.4L345.3 742.4L345.6 742.4L345.8 742.4L346.1 742.4L346.3 742.4L346.6 742.4L346.8 742.4L347.1 742.4L347.3 742.4L347.6 742.4L347.8 742.4L348.1 742.4L348.3 742.4L348.6 742.4L348.8 742.4L349.1 742.4L349.3 742.4L349.6 742.4L349.8 742.4L350.1 742.4L350.3 742.4L350.6 742.4L350.8 742.4L351.1 742.4L351.3 742.4L351.6 742.4L351.8 742.4L352.1 742.4L352.3 742.4L352.6 742.4L352.8 742.4L353.1 742.4L353.3 742.4L353.6 742.4L353.8 742.3L354.1 742.4L354.3 742.4L354.6 742.4L354.8 742.4L355.1 742.4L355.3 742.4L355.6 742.4L355.8 742.4L356.1 742.4L356.3 742.4L356.6 742.4L356.8 742.3L357.1 742.4L357.3 742.4L357.6 742.4L357.8 742.4L358.1 742.4L358.3 742.4L358.6 742.4L358.8 742.3L359.1 742.4L359.3 742.4L359.6 742.4L359.8 742.4L360.1 742.4L360.3 742.4L360.6 742.4L360.8 742.3L361.1 742.4L361.3 742.4L361.6 742.4L361.8 742.4L362.1 742.4L362.3 742.4L362.6 742.4L362.8 742.4L363.1 742.4L363.3 742.4L363.6 742.4L363.8 742.4L364.1 742.4L364.3 742.4L364.6 742.4L364.8 742.4L365.1 742.4L365.3 742.4L365.6 742.4L365.8 742.4L366.1 742.3L366.3 742.4L366.6 742.4L366.8 742.4L367.1 742.4L367.3 742.4L367.6 742.4L367.8 742.3L368.1 742.4L368.3 742.4L368.6 742.4L368.8 742.4L369.1 742.4L369.3 742.4L369.6 742.4L369.8 742.4L370.1 742.4L370.3 742.4L370.6 742.4L370.8 742.4L371.1 742.4L371.3 742.4L371.6 742.4L371.8 742.4L372.1 742.4L372.3 742.4L372.6 742.4L372.8 742.4L373.1 742.4L373.3 742.4L373.6 742.4L373.8 742.4L374.1 742.4L374.3 742.4L374.6 742.4L374.8 742.4L375.1 742.4L375.3 742.4L375.6 742.4L375.8 742.4L376.1 742.4L376.3 742.4L376.6 742.4L376.8 742.4L377.1 742.4L377.3 742.4L377.6 742.4L377.8 742.4L378.1 742.4L378.3 742.4L378.6 742.4L378.8 742.4L379.1 742.4L379.3 742.4L379.6 742.4L379.8 742.4L380.1 742.4L380.3 742.4L380.6 742.4L380.8 742.4L381.1 742.4L381.3 742.4L381.6 742.4L381.8 742.4L382.1 742.4L382.3 742.4L382.6 742.4L382.8 742.4L383.1 742.4L383.3 742.4L383.6 742.4L383.8 742.4L384.1 742.4L384.3 742.4L384.6 742.4L384.8 742.4L385.1 742.4L385.3 742.4L385.6 742.4L385.8 742.4L386.1 742.4L386.3 742.4L386.6 742.4L386.8 742.4L387.1 742.4L387.3 742.4L387.6 742.4L387.8 742.4L388.1 742.4L388.3 742.4L388.6 742.4L388.8 742.4L389.1 742.4L389.3 742.4L389.6 742.4L389.8 742.4L390.1 742.4L390.3 742.4L390.6 742.4L390.8 742.4L391.1 742.4L391.3 742.4L391.6 742.4L391.8 742.4L392.1 742.4L392.3 742.4L392.6 742.4L392.8 742.4L393.1 742.4L393.3 742.4L393.6 742.4L393.8 742.4L394.1 742.4L394.3 742.4L394.6 742.4L394.8 742.4L395.1 742.4L395.3 742.4L395.6 742.4L395.8 742.4L396.1 742.4L396.3 742.4L396.6 742.4L396.8 742.4L397.1 742.3L397.3 741.7L397.6 741.6L397.8 742.0L398.1 742.4L398.3 742.4L398.6 742.4L398.8 742.4L399.1 742.4L399.3 742.4L399.6 742.4L399.8 742.4L400.1 742.4L400.3 742.4L400.6 742.4L400.8 742.0L401.1 738.7L401.3 739.7L401.6 741.6L401.8 742.4L402.1 742.4L402.3 742.4L402.6 742.4L402.8 742.4L403.1 742.4L403.3 742.4L403.6 742.4L403.8 742.4L404.1 742.4L404.3 742.4L404.6 742.4L404.8 742.4L405.1 742.4L405.3 742.3L405.6 742.4L405.8 742.4L406.1 742.4L406.3 742.4L406.6 742.4L406.8 742.4L407.1 742.4L407.3 742.4L407.6 742.4L407.8 742.4L408.1 742.4L408.3 742.4L408.6 742.4L408.8 742.4L409.1 742.4L409.3 742.4L409.6 742.4L409.8 742.4L410.1 742.4L410.3 742.3L410.6 742.4L410.8 742.4L411.1 742.4L411.3 742.4L411.6 742.4L411.8 742.4L412.1 742.4L412.3 742.4L412.6 742.4L412.8 742.4L413.1 742.4L413.3 742.4L413.6 742.3L413.8 742.4L414.1 742.4L414.3 742.4L414.6 742.4L414.8 742.4L415.1 742.4L415.3 742.4L415.6 742.4L415.8 742.4L416.1 742.4L416.3 742.4L416.6 742.4L416.8 742.4L417.1 742.4L417.3 742.4L417.6 741.6L417.8 736.5L418.1 738.4L418.3 741.8L418.6 742.4L418.8 742.4L419.1 742.3L419.3 742.4L419.6 742.4L419.8 742.4L420.1 742.4L420.3 742.4L420.6 742.4L420.8 742.4L421.1 742.4L421.3 742.1L421.6 740.6L421.8 739.7L422.1 742.0L422.3 742.4L422.6 742.4L422.8 742.4L423.1 742.4L423.3 742.4L423.6 742.4L423.8 742.4L424.1 742.4L424.3 742.4L424.6 742.4L424.8 742.4L425.1 742.4L425.3 742.4L425.6 742.4L425.8 742.4L426.1 742.4L426.3 742.4L426.6 742.4L426.8 742.4L427.1 742.4L427.3 742.4L427.6 742.4L427.8 742.4L428.1 742.4L428.3 742.4L428.6 742.4L428.8 742.4L429.1 742.4L429.3 742.4L429.6 742.4L429.8 742.4L430.1 742.4L430.3 742.4L430.6 742.4L430.8 742.4L431.1 742.4L431.3 742.4L431.6 742.4L431.8 742.4L432.1 742.4L432.3 742.4L432.6 742.4L432.8 742.4L433.1 742.4L433.3 742.3L433.6 741.3L433.8 738.2L434.1 741.3L434.3 742.3L434.6 742.4L434.8 742.4L435.1 742.4L435.3 742.4L435.6 742.4L435.8 742.4L436.1 742.4L436.3 742.4L436.6 742.4L436.8 742.4L437.1 742.3L437.3 742.4L437.6 742.3L437.8 742.4L438.1 742.4L438.3 742.4L438.6 742.4L438.8 742.4L439.1 742.4L439.3 742.4L439.6 742.4L439.8 742.4L440.1 742.4L440.3 742.4L440.6 742.4L440.8 742.4L441.1 742.4L441.3 742.4L441.6 742.4L441.8 742.4L442.1 742.4L442.3 742.4L442.6 742.4L442.8 742.4L443.1 742.4L443.3 742.4L443.6 742.4L443.8 742.4L444.1 742.4L444.3 742.4L444.6 742.4L444.8 742.4L445.1 742.4L445.3 742.4L445.6 742.4L445.8 742.4L446.1 742.4L446.3 742.4L446.6 742.4L446.8 742.4L447.1 742.4L447.3 742.4L447.6 742.4L447.8 742.4L448.1 742.4L448.3 742.4L448.6 742.4L448.8 742.4L449.1 742.4L449.3 742.4L449.6 742.4L449.8 742.4L450.1 742.4L450.3 742.3L450.6 742.4L450.8 742.4L451.1 742.4L451.3 742.4L451.6 742.4L451.8 742.4L452.1 742.4L452.3 742.4L452.6 742.4L452.8 742.4L453.1 742.4L453.3 742.4L453.6 742.4L453.8 742.4L454.1 742.4L454.3 742.4L454.6 742.4L454.8 742.4L455.1 742.4L455.3 742.4L455.6 742.4L455.8 742.4L456.1 742.4L456.3 742.4L456.6 742.4L456.8 742.4L457.1 742.3L457.3 742.4L457.6 742.4L457.8 742.4L458.1 742.4L458.3 742.4L458.6 742.4L458.8 742.4L459.1 742.4L459.3 742.3L459.6 742.0L459.8 741.2L460.1 741.4L460.3 741.5L460.6 742.2L460.8 742.4L461.1 742.4L461.3 742.3L461.6 742.4L461.8 742.4L462.1 742.4L462.3 742.4L462.6 742.4L462.8 742.4L463.1 742.4L463.3 742.4L463.6 742.4L463.8 742.4L464.1 742.4L464.3 742.4L464.6 742.4L464.8 742.4L465.1 742.4L465.3 742.3L465.6 742.2L465.8 741.9L466.1 741.8L466.3 741.9L466.6 742.3L466.8 742.4L467.1 742.4L467.3 742.4L467.6 742.4L467.8 742.4L468.1 742.4L468.3 742.4L468.6 742.4L468.8 742.3L469.1 742.4L469.3 742.4L469.6 742.4L469.8 742.3L470.1 742.4L470.3 742.3L470.6 742.4L470.8 742.4L471.1 742.4L471.3 742.3L471.6 742.4L471.8 742.4L472.1 742.4L472.3 742.4L472.6 742.4L472.8 742.4L473.1 742.4L473.3 742.4L473.6 742.4L473.8 742.4L474.1 742.3L474.3 742.2L474.6 741.9L474.8 741.3L475.1 741.3L475.3 741.7L475.6 741.9L475.8 742.2L476.1 742.4L476.3 742.4L476.6 742.4L476.8 742.4L477.1 742.4L477.3 742.4L477.6 742.4L477.8 742.4L478.1 742.4L478.3 742.4L478.6 742.4L478.8 742.4L479.1 742.4L479.3 742.4L479.6 742.4L479.8 742.4L480.1 742.4L480.3 742.4L480.6 742.4L480.8 742.4L481.1 742.4L481.3 742.4L481.6 742.4L481.8 742.4L482.1 742.4L482.3 742.4L482.6 742.4L482.8 742.4L483.1 742.4L483.3 742.4L483.6 742.4L483.8 742.4L484.1 742.4L484.3 742.4L484.6 742.4L484.8 742.4L485.1 742.4L485.3 742.4L485.6 742.4L485.8 742.4L486.1 742.4L486.3 742.4L486.6 742.4L486.8 742.4L487.1 742.4L487.3 742.4L487.6 742.4L487.8 742.4L488.1 742.4L488.3 742.4L488.6 742.4L488.8 742.4L489.1 742.4L489.3 742.4L489.6 742.4L489.8 742.4L490.1 742.4L490.3 742.4L490.6 742.4L490.8 742.4L491.1 742.4L491.3 742.4L491.6 742.4L491.8 742.4L492.1 742.4L492.3 742.4L492.6 742.3L492.8 742.3L493.1 742.4L493.3 742.4L493.6 742.4L493.8 742.4L494.1 742.4L494.3 742.4L494.6 742.4L494.8 742.4L495.1 742.4L495.3 742.4L495.6 742.4L495.8 742.4L496.1 742.3L496.3 742.4L496.6 742.4L496.8 742.4L497.1 742.4L497.3 742.4L497.6 742.4L497.8 742.4L498.1 742.4L498.3 742.4L498.6 742.4L498.8 742.4L499.1 742.3L499.3 742.4L499.6 742.4L499.8 742.4L500.1 742.4L500.3 742.4L500.6 742.4L500.8 742.4L501.1 742.3L501.3 742.4L501.6 742.4L501.8 742.3L502.1 742.4L502.3 742.3L502.6 742.4L502.8 742.4L503.1 742.4L503.3 742.4L503.6 742.3L503.8 742.4L504.1 742.4L504.3 742.4L504.6 742.4L504.8 742.4L505.1 742.4L505.3 742.3L505.6 742.4L505.8 742.4L506.1 742.4L506.3 742.4L506.6 742.4L506.8 742.4L507.1 742.4L507.3 742.4L507.6 742.4L507.8 742.4L508.1 742.4L508.3 742.4L508.6 742.4L508.8 742.4L509.1 742.4L509.3 742.4L509.6 742.4L509.8 742.4L510.1 742.4L510.3 742.4L510.6 742.4L510.8 742.4L511.1 742.4L511.3 742.4L511.3 742.4Z" fill="#3a3a7a" opacity="1.0"/>
<line x1="343.80" y1="757.70" x2="511.30" y2="757.70" stroke="#9a9a9a" stroke-width="0.7"/>
<path d="M343.8 757.4L343.8 757.4L344.1 757.4L344.3 757.4L344.6 757.4L344.8 757.4L345.1 757.4L345.3 757.4L345.6 757.4L345.8 757.4L346.1 757.4L346.3 757.4L346.6 757.4L346.8 757.4L347.1 757.4L347.3 757.4L347.6 757.4L347.8 757.4L348.1 757.4L348.3 757.4L348.6 757.4L348.8 757.4L349.1 757.4L349.3 757.4L349.6 757.4L349.8 757.4L350.1 757.4L350.3 757.4L350.6 757.4L350.8 757.4L351.1 757.4L351.3 757.4L351.6 757.4L351.8 757.4L352.1 757.4L352.3 757.4L352.6 757.4L352.8 757.4L353.1 757.4L353.3 757.4L353.6 757.4L353.8 757.4L354.1 757.4L354.3 757.4L354.6 757.4L354.8 757.4L355.1 757.4L355.3 757.4L355.6 757.4L355.8 757.4L356.1 757.4L356.3 757.4L356.6 757.4L356.8 757.4L357.1 757.4L357.3 757.4L357.6 757.4L357.8 757.4L358.1 757.4L358.3 757.4L358.6 757.4L358.8 757.4L359.1 757.4L359.3 757.4L359.6 757.3L359.8 757.4L360.1 757.4L360.3 757.4L360.6 757.4L360.8 757.4L361.1 757.4L361.3 757.4L361.6 757.4L361.8 757.4L362.1 757.4L362.3 757.4L362.6 757.4L362.8 757.4L363.1 757.4L363.3 757.4L363.6 757.4L363.8 757.4L364.1 757.4L364.3 757.4L364.6 757.4L364.8 757.4L365.1 757.4L365.3 757.4L365.6 757.4L365.8 757.4L366.1 757.4L366.3 757.4L366.6 757.3L366.8 757.4L367.1 757.4L367.3 757.4L367.6 757.4L367.8 757.4L368.1 757.4L368.3 757.4L368.6 757.4L368.8 757.4L369.1 757.4L369.3 757.4L369.6 757.4L369.8 757.4L370.1 757.4L370.3 757.4L370.6 757.3L370.8 757.4L371.1 757.4L371.3 757.4L371.6 757.4L371.8 757.4L372.1 757.3L372.3 757.4L372.6 757.4L372.8 757.4L373.1 757.4L373.3 757.4L373.6 757.4L373.8 757.4L374.1 757.4L374.3 757.4L374.6 757.4L374.8 757.4L375.1 757.4L375.3 757.4L375.6 757.4L375.8 757.4L376.1 757.4L376.3 757.4L376.6 757.4L376.8 757.4L377.1 757.3L377.3 757.4L377.6 757.4L377.8 757.4L378.1 757.4L378.3 757.4L378.6 757.4L378.8 757.4L379.1 757.4L379.3 757.4L379.6 757.4L379.8 757.4L380.1 757.4L380.3 757.4L380.6 757.4L380.8 757.3L381.1 757.4L381.3 757.3L381.6 757.4L381.8 757.4L382.1 757.4L382.3 757.4L382.6 757.3L382.8 757.4L383.1 757.4L383.3 757.4L383.6 757.4L383.8 757.4L384.1 757.4L384.3 757.4L384.6 757.4L384.8 757.4L385.1 757.4L385.3 757.4L385.6 757.4L385.8 757.4L386.1 757.4L386.3 757.4L386.6 757.4L386.8 757.4L387.1 757.3L387.3 757.4L387.6 757.4L387.8 757.4L388.1 757.4L388.3 757.3L388.6 757.4L388.8 757.4L389.1 757.4L389.3 757.4L389.6 757.4L389.8 757.3L390.1 757.4L390.3 757.4L390.6 757.4L390.8 757.4L391.1 757.4L391.3 757.4L391.6 757.4L391.8 757.4L392.1 757.4L392.3 757.4L392.6 757.4L392.8 757.4L393.1 757.4L393.3 757.4L393.6 757.4L393.8 757.4L394.1 757.4L394.3 757.3L394.6 757.4L394.8 757.4L395.1 757.4L395.3 757.4L395.6 757.4L395.8 757.4L396.1 757.4L396.3 757.4L396.6 757.4L396.8 757.4L397.1 757.3L397.3 756.4L397.6 756.3L397.8 756.9L398.1 757.4L398.3 757.4L398.6 757.4L398.8 757.4L399.1 757.4L399.3 757.4L399.6 757.4L399.8 757.4L400.1 757.4L400.3 757.4L400.6 757.4L400.8 756.9L401.1 751.1L401.3 751.5L401.6 756.0L401.8 757.4L402.1 757.4L402.3 757.4L402.6 757.4L402.8 757.4L403.1 757.4L403.3 757.4L403.6 757.4L403.8 757.4L404.1 757.4L404.3 757.4L404.6 757.4L404.8 757.4L405.1 757.4L405.3 757.3L405.6 757.4L405.8 757.4L406.1 757.4L406.3 757.4L406.6 757.4L406.8 757.4L407.1 757.4L407.3 757.4L407.6 757.4L407.8 757.4L408.1 757.3L408.3 757.4L408.6 757.4L408.8 757.4L409.1 757.4L409.3 757.4L409.6 757.4L409.8 757.4L410.1 757.4L410.3 757.4L410.6 757.3L410.8 757.4L411.1 757.4L411.3 757.4L411.6 757.4L411.8 757.4L412.1 757.4L412.3 757.4L412.6 757.4L412.8 757.4L413.1 757.4L413.3 757.4L413.6 757.4L413.8 757.4L414.1 757.4L414.3 757.4L414.6 757.4L414.8 757.4L415.1 757.4L415.3 757.4L415.6 757.4L415.8 757.4L416.1 757.4L416.3 757.4L416.6 757.4L416.8 757.4L417.1 757.4L417.3 757.4L417.6 756.1L417.8 745.9L418.1 752.0L418.3 756.9L418.6 757.4L418.8 757.4L419.1 757.4L419.3 757.4L419.6 757.4L419.8 757.4L420.1 757.4L420.3 757.4L420.6 757.4L420.8 757.4L421.1 757.4L421.3 757.2L421.6 755.5L421.8 754.7L422.1 756.9L422.3 757.4L422.6 757.4L422.8 757.3L423.1 757.4L423.3 757.4L423.6 757.4L423.8 757.4L424.1 757.4L424.3 757.4L424.6 757.4L424.8 757.4L425.1 757.4L425.3 757.4L425.6 757.4L425.8 757.4L426.1 757.4L426.3 757.4L426.6 757.4L426.8 757.4L427.1 757.4L427.3 757.4L427.6 757.4L427.8 757.4L428.1 757.4L428.3 757.4L428.6 757.4L428.8 757.4L429.1 757.4L429.3 757.4L429.6 757.4L429.8 757.4L430.1 757.4L430.3 757.4L430.6 757.4L430.8 757.4L431.1 757.4L431.3 757.4L431.6 757.4L431.8 757.4L432.1 757.4L432.3 757.4L432.6 757.4L432.8 757.4L433.1 757.4L433.3 757.3L433.6 756.6L433.8 753.9L434.1 756.0L434.3 757.3L434.6 757.4L434.8 757.4L435.1 757.4L435.3 757.4L435.6 757.4L435.8 757.4L436.1 757.4L436.3 757.4L436.6 757.4L436.8 757.4L437.1 757.4L437.3 757.4L437.6 757.4L437.8 757.4L438.1 757.4L438.3 757.4L438.6 757.4L438.8 757.4L439.1 757.4L439.3 757.4L439.6 757.3L439.8 757.4L440.1 757.4L440.3 757.4L440.6 757.4L440.8 757.4L441.1 757.4L441.3 757.4L441.6 757.4L441.8 757.4L442.1 757.4L442.3 757.4L442.6 757.4L442.8 757.4L443.1 757.4L443.3 757.4L443.6 757.4L443.8 757.4L444.1 757.4L444.3 757.4L444.6 757.4L444.8 757.4L445.1 757.4L445.3 757.4L445.6 757.4L445.8 757.4L446.1 757.4L446.3 757.4L446.6 757.4L446.8 757.4L447.1 757.4L447.3 757.3L447.6 757.4L447.8 757.4L448.1 757.4L448.3 757.4L448.6 757.4L448.8 757.4L449.1 757.4L449.3 757.3L449.6 757.4L449.8 757.4L450.1 757.4L450.3 757.4L450.6 757.4L450.8 757.4L451.1 757.4L451.3 757.4L451.6 757.4L451.8 757.4L452.1 757.4L452.3 757.4L452.6 757.4L452.8 757.4L453.1 757.4L453.3 757.4L453.6 757.4L453.8 757.4L454.1 757.4L454.3 757.4L454.6 757.4L454.8 757.3L455.1 757.4L455.3 757.4L455.6 757.4L455.8 757.4L456.1 757.4L456.3 757.4L456.6 757.4L456.8 757.4L457.1 757.4L457.3 757.4L457.6 757.4L457.8 757.4L458.1 757.4L458.3 757.4L458.6 757.4L458.8 757.4L459.1 757.4L459.3 757.3L459.6 757.0L459.8 756.2L460.1 756.6L460.3 756.5L460.6 757.2L460.8 757.4L461.1 757.4L461.3 757.4L461.6 757.4L461.8 757.4L462.1 757.4L462.3 757.4L462.6 757.4L462.8 757.4L463.1 757.4L463.3 757.4L463.6 757.4L463.8 757.4L464.1 757.4L464.3 757.4L464.6 757.4L464.8 757.4L465.1 757.4L465.3 757.4L465.6 757.4L465.8 757.4L466.1 757.4L466.3 757.4L466.6 757.4L466.8 757.4L467.1 757.4L467.3 757.3L467.6 757.0L467.8 756.5L468.1 756.4L468.3 756.8L468.6 757.2L468.8 757.4L469.1 757.4L469.3 757.4L469.6 757.4L469.8 757.4L470.1 757.4L470.3 757.4L470.6 757.4L470.8 757.4L471.1 757.4L471.3 757.2L471.6 756.6L471.8 756.3L472.1 756.2L472.3 756.5L472.6 757.0L472.8 757.3L473.1 757.4L473.3 757.4L473.6 757.4L473.8 757.4L474.1 757.4L474.3 757.4L474.6 757.4L474.8 757.4L475.1 757.4L475.3 757.4L475.6 757.4L475.8 757.4L476.1 757.4L476.3 757.4L476.6 757.4L476.8 757.4L477.1 757.4L477.3 757.3L477.6 757.0L477.8 755.9L478.1 755.8L478.3 756.5L478.6 757.1L478.8 757.3L479.1 757.4L479.3 757.4L479.6 757.4L479.8 757.4L480.1 757.4L480.3 757.4L480.6 757.4L480.8 757.4L481.1 757.4L481.3 757.4L481.6 757.4L481.8 757.4L482.1 757.4L482.3 757.4L482.6 757.4L482.8 757.4L483.1 757.4L483.3 757.4L483.6 757.4L483.8 757.4L484.1 757.4L484.3 757.4L484.6 757.4L484.8 757.4L485.1 757.4L485.3 757.4L485.6 757.4L485.8 757.4L486.1 757.4L486.3 757.4L486.6 757.4L486.8 757.4L487.1 757.4L487.3 757.4L487.6 757.4L487.8 757.4L488.1 757.4L488.3 757.4L488.6 757.4L488.8 757.4L489.1 757.4L489.3 757.4L489.6 757.4L489.8 757.4L490.1 757.4L490.3 757.4L490.6 757.4L490.8 757.4L491.1 757.4L491.3 757.4L491.6 757.4L491.8 757.4L492.1 757.4L492.3 757.4L492.6 757.4L492.8 757.4L493.1 757.4L493.3 757.4L493.6 757.4L493.8 757.4L494.1 757.4L494.3 757.4L494.6 757.4L494.8 757.4L495.1 757.4L495.3 757.4L495.6 757.3L495.8 757.4L496.1 757.4L496.3 757.4L496.6 757.4L496.8 757.4L497.1 757.4L497.3 757.3L497.6 757.4L497.8 757.4L498.1 757.4L498.3 757.4L498.6 757.4L498.8 757.3L499.1 757.4L499.3 757.4L499.6 757.4L499.8 757.3L500.1 757.4L500.3 757.4L500.6 757.4L500.8 757.4L501.1 757.4L501.3 757.4L501.6 757.4L501.8 757.4L502.1 757.4L502.3 757.4L502.6 757.4L502.8 757.4L503.1 757.4L503.3 757.3L503.6 757.3L503.8 757.4L504.1 757.4L504.3 757.4L504.6 757.4L504.8 757.4L505.1 757.4L505.3 757.4L505.6 757.4L505.8 757.4L506.1 757.4L506.3 757.4L506.6 757.4L506.8 757.4L507.1 757.4L507.3 757.4L507.6 757.4L507.8 757.4L508.1 757.4L508.3 757.4L508.6 757.4L508.8 757.4L509.1 757.4L509.3 757.3L509.6 757.4L509.8 757.4L510.1 757.4L510.3 757.4L510.6 757.4L510.8 757.4L511.1 757.4L511.3 757.4L511.3 757.4Z" fill="#a83a30" opacity="1.0"/>
<line x1="69.20" y1="702.80" x2="108.00" y2="702.80" stroke="#6a6aa0" stroke-width="0.5"/>
<rect x="69.20" y="701.50" width="2.60" height="2.60" fill="#111"/>
<rect x="88.70" y="701.50" width="2.60" height="2.60" fill="#111"/>
<rect x="92.20" y="701.50" width="2.60" height="2.60" fill="#111"/>
<rect x="96.50" y="701.50" width="3.00" height="2.60" fill="#111"/>
<rect x="100.60" y="701.50" width="2.20" height="2.60" fill="#111"/>
<rect x="104.20" y="701.50" width="1.50" height="2.60" fill="#111"/>
<rect x="106.80" y="701.50" width="1.20" height="2.60" fill="#111"/>
<text x="80.00" y="703.80" font-size="2.8" fill="#8c8c8c">CARM1</text>
<line x1="136.70" y1="703.70" x2="152.70" y2="703.70" stroke="#6a6aa0" stroke-width="0.5"/>
<rect x="136.70" y="702.40" width="3.20" height="2.60" fill="#1a1a70"/>
<rect x="148.30" y="702.40" width="4.30" height="2.60" fill="#1a1a70"/>
<text x="161.70" y="704.80" font-size="2.8" fill="#8c8c8c">ZNF653</text>
<rect x="69.20" y="706.30" width="2.60" height="2.40" fill="#888"/>
<line x1="147.00" y1="707.50" x2="175.00" y2="707.50" stroke="#6a6aa0" stroke-width="0.5"/>
<rect x="152.70" y="706.20" width="4.30" height="2.60" fill="#1a1a70"/>
<line x1="156.00" y1="711.30" x2="176.00" y2="711.30" stroke="#6a6aa0" stroke-width="0.5"/>
<rect x="156.00" y="710.00" width="2.20" height="2.60" fill="#111"/>
<rect x="174.50" y="710.00" width="1.20" height="2.60" fill="#111"/>
<text x="145.40" y="712.30" font-size="2.8" fill="#8c8c8c">RAVER1</text>
<path d="M73.2 709.7h3.2l2.4 1.7l-2.4 1.7h-3.2z" fill="#2a2a9a"/>
<path d="M73.2 713.7h3.2l2.4 1.7l-2.4 1.7h-3.2z" fill="#2a2a9a"/>
<path d="M73.2 717.5h3.2l2.4 1.7l-2.4 1.7h-3.2z" fill="#2a2a9a"/>
<line x1="177.00" y1="715.20" x2="180.00" y2="715.20" stroke="#6a6aa0" stroke-width="0.5"/>
<rect x="177.00" y="713.90" width="3.00" height="2.60" fill="#2a2a90"/>
<line x1="164.20" y1="719.60" x2="239.00" y2="719.60" stroke="#6a6aa0" stroke-width="0.5"/>
<rect x="164.20" y="718.00" width="12.00" height="3.20" fill="#1a1a80"/>
<rect x="176.50" y="718.00" width="4.50" height="3.20" fill="#1a1a80"/>
<rect x="183.80" y="718.00" width="0.90" height="3.20" fill="#1a1a80"/>
<rect x="185.80" y="718.00" width="0.90" height="3.20" fill="#1a1a80"/>
<rect x="193.00" y="718.00" width="4.00" height="3.20" fill="#1a1a80"/>
<rect x="199.20" y="718.00" width="1.80" height="3.20" fill="#1a1a80"/>
<rect x="220.40" y="718.00" width="1.60" height="3.20" fill="#1a1a80"/>
<rect x="237.40" y="718.00" width="1.50" height="3.20" fill="#1a1a80"/>
<line x1="75.00" y1="723.50" x2="108.00" y2="723.50" stroke="#6a6aa0" stroke-width="0.5"/>
<rect x="87.00" y="722.20" width="2.80" height="2.60" fill="#111"/>
<rect x="91.00" y="722.20" width="2.80" height="2.60" fill="#111"/>
<rect x="95.00" y="722.20" width="2.80" height="2.60" fill="#111"/>
<rect x="99.50" y="722.20" width="2.80" height="2.60" fill="#111"/>
<rect x="103.50" y="722.20" width="1.50" height="2.60" fill="#111"/>
<rect x="106.50" y="722.20" width="1.30" height="2.60" fill="#111"/>
<text x="75.00" y="724.50" font-size="2.8" fill="#8c8c8c">CARM1</text>
<line x1="245.00" y1="703.50" x2="332.00" y2="703.50" stroke="#7a7ab0" stroke-width="0.5"/>
<line x1="245.00" y1="707.30" x2="332.00" y2="707.30" stroke="#7a7ab0" stroke-width="0.5"/>
<line x1="245.00" y1="711.20" x2="332.00" y2="711.20" stroke="#7a7ab0" stroke-width="0.5"/>
<rect x="238.80" y="702.00" width="1.80" height="7.00" fill="#1a1a1a"/>
<rect x="241.20" y="702.00" width="1.80" height="7.00" fill="#1a1a1a"/>
<rect x="243.50" y="702.00" width="1.40" height="7.00" fill="#1a1a1a"/>
<rect x="256.20" y="702.00" width="1.80" height="7.00" fill="#1a1a1a"/>
<rect x="297.50" y="702.00" width="2.50" height="7.00" fill="#1a1a1a"/>
<rect x="305.20" y="702.00" width="1.20" height="7.00" fill="#1a1a1a"/>
<rect x="308.00" y="702.00" width="1.20" height="7.00" fill="#1a1a1a"/>
<rect x="311.00" y="702.00" width="1.20" height="7.00" fill="#1a1a1a"/>
<rect x="319.60" y="702.00" width="1.00" height="7.00" fill="#1a1a1a"/>
<rect x="323.00" y="702.00" width="1.00" height="7.00" fill="#1a1a1a"/>
<rect x="327.30" y="702.00" width="1.00" height="7.00" fill="#1a1a1a"/>
<text x="289.80" y="704.50" font-size="2.8" fill="#8c8c8c">TYK2</text>
<text x="289.80" y="708.30" font-size="2.8" fill="#8c8c8c">TYK2</text>
<text x="58.50" y="704.00" font-size="2.6" fill="#8c8c8c">CARM1</text>
<text x="58.50" y="708.20" font-size="2.6" fill="#8c8c8c">CARM1</text>
<text x="58.50" y="712.40" font-size="2.6" fill="#8c8c8c">CARM1</text>
<text x="58.50" y="716.40" font-size="2.6" fill="#8c8c8c">CARM1</text>
<text x="58.50" y="720.40" font-size="2.6" fill="#8c8c8c">CARM1</text>
<line x1="396.00" y1="700.20" x2="496.00" y2="700.20" stroke="#b4b4d8" stroke-width="0.6"/>
<rect x="396.90" y="698.80" width="1.80" height="2.80" fill="#1c1c6a"/>
<rect x="400.60" y="698.90" width="0.80" height="2.60" fill="#8a8aa8"/>
<rect x="417.90" y="698.90" width="0.80" height="2.60" fill="#8a8aa8"/>
<rect x="421.30" y="698.90" width="0.80" height="2.60" fill="#8a8aa8"/>
<rect x="432.50" y="698.90" width="0.80" height="2.60" fill="#8a8aa8"/>
<rect x="456.00" y="698.90" width="0.60" height="2.60" fill="#8a8aa8"/>
<rect x="478.00" y="698.90" width="0.60" height="2.60" fill="#8a8aa8"/>
<rect x="493.50" y="698.80" width="2.40" height="2.80" fill="#1a1a60"/>
<text x="376.00" y="701.20" font-size="2.8" fill="#8c8c8c">ACSF3</text>
<line x1="396.00" y1="704.50" x2="496.00" y2="704.50" stroke="#b4b4d8" stroke-width="0.6"/>
<rect x="396.90" y="703.10" width="1.80" height="2.80" fill="#1c1c6a"/>
<rect x="400.60" y="703.20" width="0.80" height="2.60" fill="#8a8aa8"/>
<rect x="417.90" y="703.20" width="0.80" height="2.60" fill="#8a8aa8"/>
<rect x="421.30" y="703.20" width="0.80" height="2.60" fill="#8a8aa8"/>
<rect x="432.50" y="703.20" width="0.80" height="2.60" fill="#8a8aa8"/>
<rect x="456.00" y="703.20" width="0.60" height="2.60" fill="#8a8aa8"/>
<rect x="478.00" y="703.20" width="0.60" height="2.60" fill="#8a8aa8"/>
<rect x="493.50" y="703.10" width="2.40" height="2.80" fill="#1a1a60"/>
<text x="376.00" y="705.50" font-size="2.8" fill="#8c8c8c">ACSF3</text>
<line x1="396.00" y1="708.60" x2="496.00" y2="708.60" stroke="#b4b4d8" stroke-width="0.6"/>
<rect x="396.90" y="707.20" width="1.80" height="2.80" fill="#7070b0"/>
<rect x="400.60" y="707.30" width="0.80" height="2.60" fill="#8a8aa8"/>
<rect x="417.90" y="707.30" width="0.80" height="2.60" fill="#8a8aa8"/>
<rect x="421.30" y="707.30" width="0.80" height="2.60" fill="#8a8aa8"/>
<rect x="432.50" y="707.30" width="0.80" height="2.60" fill="#8a8aa8"/>
<rect x="456.00" y="707.30" width="0.60" height="2.60" fill="#8a8aa8"/>
<rect x="478.00" y="707.30" width="0.60" height="2.60" fill="#8a8aa8"/>
<rect x="493.50" y="707.20" width="2.40" height="2.80" fill="#6a6ab0"/>
<text x="376.00" y="709.60" font-size="2.8" fill="#8c8c8c">ACSF3</text>
<line x1="396.00" y1="712.50" x2="496.00" y2="712.50" stroke="#b4b4d8" stroke-width="0.6"/>
<rect x="396.90" y="711.10" width="1.80" height="2.80" fill="#1c1c6a"/>
<rect x="400.60" y="711.20" width="0.80" height="2.60" fill="#8a8aa8"/>
<rect x="417.90" y="711.20" width="0.80" height="2.60" fill="#8a8aa8"/>
<rect x="421.30" y="711.20" width="0.80" height="2.60" fill="#8a8aa8"/>
<rect x="432.50" y="711.20" width="0.80" height="2.60" fill="#8a8aa8"/>
<rect x="456.00" y="711.20" width="0.60" height="2.60" fill="#8a8aa8"/>
<rect x="478.00" y="711.20" width="0.60" height="2.60" fill="#8a8aa8"/>
<rect x="493.50" y="711.10" width="2.40" height="2.80" fill="#1a1a60"/>
<text x="376.00" y="713.50" font-size="2.8" fill="#8c8c8c">ACSF3</text>
<line x1="396.00" y1="716.60" x2="496.00" y2="716.60" stroke="#b4b4d8" stroke-width="0.6"/>
<rect x="396.90" y="715.20" width="1.80" height="2.80" fill="#7070b0"/>
<rect x="400.60" y="715.30" width="0.80" height="2.60" fill="#8a8aa8"/>
<rect x="417.90" y="715.30" width="0.80" height="2.60" fill="#8a8aa8"/>
<rect x="421.30" y="715.30" width="0.80" height="2.60" fill="#8a8aa8"/>
<rect x="432.50" y="715.30" width="0.80" height="2.60" fill="#8a8aa8"/>
<rect x="456.00" y="715.30" width="0.60" height="2.60" fill="#8a8aa8"/>
<rect x="478.00" y="715.30" width="0.60" height="2.60" fill="#8a8aa8"/>
<rect x="493.50" y="715.20" width="2.40" height="2.80" fill="#6a6ab0"/>
<text x="376.00" y="717.60" font-size="2.8" fill="#8c8c8c">ACSF3</text>
<rect x="374.60" y="710.90" width="9.60" height="3.80" fill="#444"/>
<text x="460.00" y="720.80" font-size="2.8" fill="#8c8c8c">ACSF3 ←←←←</text>
<text x="485.00" y="724.80" font-size="2.6" fill="#8c8c8c">LINC00304</text>
<rect x="500.50" y="723.00" width="2.20" height="2.20" fill="#5a5ab8"/>
<rect x="227.5" y="591.5" width="19.0" height="139.0" fill="#fdf6b0" style="mix-blend-mode:multiply"/>
<rect x="227.5" y="591.5" width="19.0" height="139.0" fill="none" stroke="#f4a266" stroke-width="1"/>
<rect x="373.5" y="591.5" width="22.0" height="136.0" fill="#fdf6b0" style="mix-blend-mode:multiply"/>
<rect x="373.5" y="591.5" width="22.0" height="136.0" fill="none" stroke="#f4a266" stroke-width="1"/>
<rect x="0.00" y="0.00" width="520.00" height="1.20" fill="#000"/>
<rect x="0.00" y="0.00" width="1.50" height="769.00" fill="#000"/>
<rect x="518.10" y="0.00" width="1.90" height="769.00" fill="#000"/>
<rect x="0.00" y="767.10" width="520.00" height="1.90" fill="#000"/>
</svg></body></html>
